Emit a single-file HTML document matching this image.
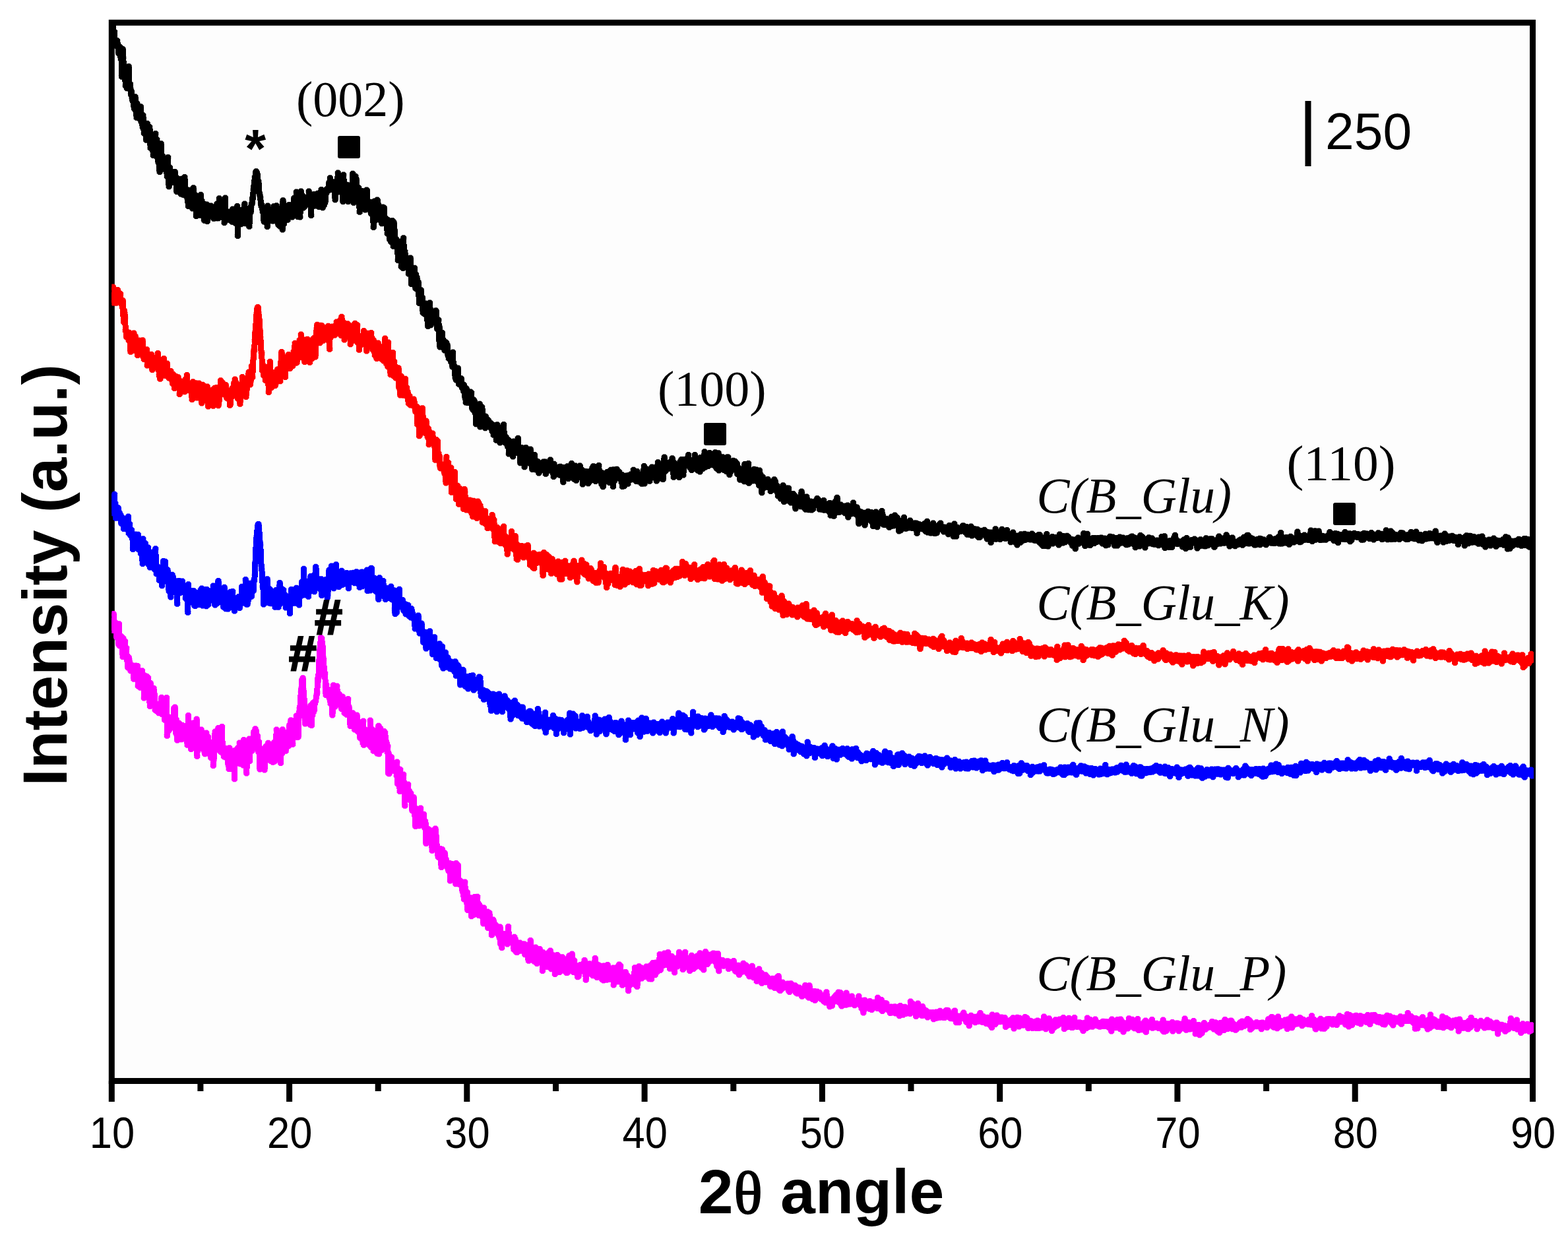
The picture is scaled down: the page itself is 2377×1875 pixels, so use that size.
<!DOCTYPE html>
<html lang="en"><head><meta charset="utf-8"><title>XRD patterns</title>
<style>
html,body{margin:0;padding:0;background:#fff;}
body{width:2377px;height:1875px;overflow:hidden;}
svg{display:block;}
.sans{font-family:"Liberation Sans",Arial,Helvetica,sans-serif;}
.serif{font-family:"Liberation Serif","Times New Roman",Times,serif;}
</style></head><body>
<svg width="2377" height="1875" viewBox="0 0 2377 1875">
<rect x="0" y="0" width="2377" height="1875" fill="#ffffff"/>
<rect x="169.3" y="34.3" width="2154.2" height="1604.2" fill="#fdfdfd"/>
<rect x="169.3" y="34.3" width="2154.2" height="1604.2" fill="none" stroke="#000" stroke-width="9"/>
<defs>
<marker id="p0" markerUnits="userSpaceOnUse" markerWidth="11" markerHeight="11" viewBox="-5.5 -5.5 11 11" refX="0" refY="0" overflow="visible"><path d="M-2.02,-4.5 L2.02,-4.5 L4.5,-2.02 L4.5,2.02 L2.02,4.5 L-2.02,4.5 L-4.5,2.02 L-4.5,-2.02 Z" fill="#ff00ff"/></marker>
<marker id="p1" markerUnits="userSpaceOnUse" markerWidth="11" markerHeight="11" viewBox="-5.5 -5.5 11 11" refX="0" refY="0" overflow="visible"><path d="M-2.02,-4.5 L2.02,-4.5 L4.5,-2.02 L4.5,2.02 L2.02,4.5 L-2.02,4.5 L-4.5,2.02 L-4.5,-2.02 Z" fill="#0000ff"/></marker>
<marker id="p2" markerUnits="userSpaceOnUse" markerWidth="11" markerHeight="11" viewBox="-5.5 -5.5 11 11" refX="0" refY="0" overflow="visible"><path d="M-2.02,-4.5 L2.02,-4.5 L4.5,-2.02 L4.5,2.02 L2.02,4.5 L-2.02,4.5 L-4.5,2.02 L-4.5,-2.02 Z" fill="#ff0000"/></marker>
<marker id="p3" markerUnits="userSpaceOnUse" markerWidth="11" markerHeight="11" viewBox="-5.5 -5.5 11 11" refX="0" refY="0" overflow="visible"><path d="M-2.02,-4.5 L2.02,-4.5 L4.5,-2.02 L4.5,2.02 L2.02,4.5 L-2.02,4.5 L-4.5,2.02 L-4.5,-2.02 Z" fill="#000000"/></marker>
<clipPath id="plotclip"><rect x="169.3" y="34.3" width="2155.7" height="1604.2"/></clipPath>
</defs>
<g clip-path="url(#plotclip)" fill="none" stroke-width="9" stroke-linejoin="bevel" stroke-linecap="butt" shape-rendering="crispEdges">
<polyline stroke="#ff00ff" marker-start="url(#p0)" marker-mid="url(#p0)" marker-end="url(#p0)" points="169.3,940.8 170,944.5 170.7,955.4 171.4,950.8 172.1,930.6 172.8,948.8 173.5,946.5 174.2,952 174.9,943.4 175.6,955.4 176.3,956.9 177,966.2 177.7,962.3 178.4,963.2 179.1,952.9 179.8,976.4 180.5,945.8 181.2,978.8 181.9,965.6 182.6,963.9 183.3,967 184,964.7 184.7,978.9 185.4,975.3 186.1,995.4 186.8,967.5 187.5,980.5 188.2,976.4 188.9,993.4 189.6,972.1 190.3,985.4 191,991.1 191.7,982.3 192.4,1000.7 193.1,997.7 193.8,1011.7 194.5,1007.4 195.2,996.6 195.9,999.9 196.6,1005.9 197.3,1014.3 198,1016.7 198.7,1007.4 199.4,1009.2 200.1,1008.6 200.8,1010.5 201.5,1013.1 202.2,1013.8 202.9,1029.3 203.6,1011.2 204.3,1013 205,1018.7 205.7,1009.1 206.4,1014 207.1,1017.6 207.8,1029.3 208.5,1009.4 209.2,1039.8 209.9,1016 210.6,1023.6 211.3,1030 212,1030.1 212.7,1042.3 213.4,1029.6 214.1,1029.5 214.8,1033.2 215.5,1016.7 216.2,1041.7 216.9,1026.5 217.6,1022.9 218.3,1057.9 219,1032.1 219.7,1024.3 220.4,1049.2 221.1,1032.8 221.8,1045.3 222.5,1025.2 223.2,1037.7 223.9,1027.6 224.6,1027.5 225.3,1036.8 226,1046 226.7,1061.3 227.4,1070.5 228.1,1035.4 228.8,1062.6 229.5,1050.9 230.2,1056.6 230.9,1046.9 231.6,1048.3 232.3,1055.5 233,1043.2 233.7,1063.9 234.4,1052.7 235.1,1076.1 235.8,1067.1 236.5,1069.3 237.2,1077.4 237.9,1073 238.6,1069 239.3,1069.4 240,1069.7 240.7,1080.8 241.4,1078.2 242.1,1077.3 242.8,1077.7 243.5,1065.2 244.2,1078.8 244.9,1057.2 245.6,1082.5 246.3,1072.1 247,1074.3 247.7,1079.8 248.4,1076.3 249.1,1076.2 249.8,1091.3 250.5,1083.5 251.2,1075.7 251.9,1089.2 252.6,1057.6 253.3,1115.2 254,1085.5 254.7,1087.7 255.4,1107.7 256.1,1106.9 256.8,1088.6 257.5,1098.6 258.2,1097.8 258.9,1103.4 259.6,1087.5 260.3,1090.4 261,1100.8 261.7,1093 262.4,1098.2 263.1,1097.9 263.8,1073.6 264.5,1086.9 265.2,1072.1 265.9,1095 266.6,1111 267.3,1090.7 268,1113.7 268.7,1121.9 269.4,1105.4 270.1,1108.1 270.8,1110.6 271.5,1096.2 272.2,1109.7 272.9,1112.6 273.6,1118.9 274.3,1120.7 275,1100.5 275.7,1120.6 276.4,1099.2 277.1,1110.8 277.8,1115.3 278.5,1111.2 279.2,1110.3 279.9,1116.1 280.6,1106.6 281.3,1100.4 282,1110.2 282.7,1120.8 283.4,1111.3 284.1,1129.2 284.8,1113.6 285.5,1084.5 286.2,1106.9 286.9,1125.5 287.6,1110.6 288.3,1106.9 289,1096.3 289.7,1135.5 290.4,1122.5 291.1,1126.2 291.8,1119.3 292.5,1129.3 293.2,1124.3 293.9,1095.8 294.6,1124.4 295.3,1120.5 296,1116.6 296.7,1124.6 297.4,1118.3 298.1,1090 298.8,1146.2 299.5,1129 300.2,1118.2 300.9,1114.5 301.6,1123.6 302.3,1110.3 303,1124.8 303.7,1120 304.4,1118.9 305.1,1106 305.8,1116.1 306.5,1132.4 307.2,1134.9 307.9,1128.2 308.6,1124.3 309.3,1117.9 310,1139.5 310.7,1142.7 311.4,1114.6 312.1,1140.5 312.8,1110.9 313.5,1127.6 314.2,1134.2 314.9,1118.5 315.6,1117.1 316.3,1132.5 317,1139 317.7,1127.1 318.4,1143.9 319.1,1125.2 319.8,1148.4 320.5,1133.9 321.2,1137.1 321.9,1138.4 322.6,1135.5 323.3,1160.6 324,1151.4 324.7,1135.8 325.4,1128.6 326.1,1108.9 326.8,1115.6 327.5,1128.3 328.2,1126.9 328.9,1127.1 329.6,1127.3 330.3,1131.6 331,1103.5 331.7,1117.8 332.4,1137.3 333.1,1134.9 333.8,1122.8 334.5,1139.6 335.2,1122.4 335.9,1126.9 336.6,1101.5 337.3,1138.6 338,1132 338.7,1142.9 339.4,1146.7 340.1,1136.3 340.8,1137.7 341.5,1147.7 342.2,1134.6 342.9,1136.4 343.6,1139.5 344.3,1145.9 345,1147.7 345.7,1157.6 346.4,1140.9 347.1,1165.4 347.8,1133.7 348.5,1157.4 349.2,1150.8 349.9,1165.5 350.6,1156.8 351.3,1148.6 352,1158.8 352.7,1157.5 353.4,1151.8 354.1,1151.9 354.8,1137.9 355.5,1180.8 356.2,1152.6 356.9,1158.4 357.6,1137.5 358.3,1136.5 359,1143.5 359.7,1142.4 360.4,1150.1 361.1,1133.3 361.8,1146.8 362.5,1155.3 363.2,1126.1 363.9,1157.7 364.6,1132.7 365.3,1144.4 366,1144.5 366.7,1156.8 367.4,1135 368.1,1142.8 368.8,1159.9 369.5,1121.6 370.2,1141.8 370.9,1134.6 371.6,1136.6 372.3,1155.7 373,1150.2 373.7,1172.1 374.4,1156.6 375.1,1155.6 375.8,1142.1 376.5,1140.1 377.2,1144.5 377.9,1120 378.6,1153.6 379.3,1130.9 380,1125.2 380.7,1124.6 381.4,1137.3 382.1,1137.9 382.8,1120.7 383.5,1125.5 384.2,1119.1 384.9,1109.3 385.6,1119.1 386.3,1117.9 387,1104.8 387.7,1129.9 388.4,1108.1 389.1,1126.6 389.8,1117.6 390.5,1115.5 391.2,1125.4 391.9,1140.1 392.6,1124.5 393.3,1135.7 394,1165.9 394.7,1134.2 395.4,1141.4 396.1,1148.8 396.8,1138.6 397.5,1148.7 398.2,1138.9 398.9,1150.9 399.6,1144.8 400.3,1135.2 401,1167.1 401.7,1140.8 402.4,1138.1 403.1,1131.5 403.8,1130.9 404.5,1137.5 405.2,1139.5 405.9,1147.6 406.6,1126.2 407.3,1135.1 408,1149.1 408.7,1140.4 409.4,1142.7 410.1,1153.3 410.8,1142 411.5,1142.8 412.2,1137.8 412.9,1153.3 413.6,1155.2 414.3,1130 415,1145.5 415.7,1125.3 416.4,1153.9 417.1,1140.8 417.8,1133.1 418.5,1130.7 419.2,1105.9 419.9,1147 420.6,1132.7 421.3,1131 422,1140.3 422.7,1128.3 423.4,1129.3 424.1,1128.7 424.8,1123.1 425.5,1156.5 426.2,1133.2 426.9,1128.6 427.6,1142.1 428.3,1105.7 429,1132.5 429.7,1132.6 430.4,1123.4 431.1,1135.7 431.8,1113.3 432.5,1130.8 433.2,1138.3 433.9,1110.3 434.6,1116.5 435.3,1127.1 436,1127.4 436.7,1120.8 437.4,1130.8 438.1,1126.4 438.8,1098.9 439.5,1120.7 440.2,1108.8 440.9,1091.7 441.6,1095.4 442.3,1123.9 443,1111.7 443.7,1128.3 444.4,1096.3 445.1,1104.7 445.8,1109.7 446.5,1102.2 447.2,1112.8 447.9,1106.7 448.6,1093.5 449.3,1084.9 450,1096.3 450.7,1117.4 451.4,1107.3 452.1,1117.1 452.8,1089.5 453.5,1086.1 454.2,1074.3 454.9,1071.1 455.6,1058.6 456.3,1049 457,1043.1 457.7,1030.8 458.4,1033 459.1,1027.8 459.8,1045.1 460.5,1050 461.2,1061.5 461.9,1071.9 462.6,1097 463.3,1083.5 464,1083 464.7,1078.6 465.4,1090.2 466.1,1080.2 466.8,1082.3 467.5,1085.5 468.2,1090.8 468.9,1077.9 469.6,1094 470.3,1098.5 471,1069.2 471.7,1093.5 472.4,1099.6 473.1,1074.5 473.8,1084 474.5,1065.6 475.2,1079.3 475.9,1072.2 476.6,1076.1 477.3,1064 478,1062.6 478.7,1062.8 479.4,1056.9 480.1,1052.8 480.8,1049.4 481.5,1028.9 482.2,1032.6 482.9,1025 483.6,1001.5 484.3,1000.1 485,983.7 485.7,976.3 486.4,966.6 487.1,968.3 487.8,967.7 488.5,977.4 489.2,979.9 489.9,996.6 490.6,999.5 491.3,1015.7 492,1026.8 492.7,1020.4 493.4,1040.7 494.1,1053.6 494.8,1038.1 495.5,1052.1 496.2,1045 496.9,1048.2 497.6,1047.1 498.3,1045.4 499,1056.9 499.7,1059.1 500.4,1052.3 501.1,1066.4 501.8,1063.5 502.5,1060.9 503.2,1049.2 503.9,1084 504.6,1068.3 505.3,1038.7 506,1039.3 506.7,1050.7 507.4,1067.8 508.1,1071.1 508.8,1058.3 509.5,1063.3 510.2,1067.5 510.9,1040 511.6,1066.9 512.3,1059.2 513,1063.6 513.7,1061.8 514.4,1052.2 515.1,1054.3 515.8,1063.8 516.5,1065.1 517.2,1062.2 517.9,1074.4 518.6,1062.7 519.3,1056 520,1064.4 520.7,1066.9 521.4,1068.3 522.1,1080.6 522.8,1075.9 523.5,1081.5 524.2,1078.6 524.9,1072.4 525.6,1083.3 526.3,1072.6 527,1077.6 527.7,1059.5 528.4,1078.6 529.1,1072.3 529.8,1081.7 530.5,1094.9 531.2,1100.4 531.9,1089.7 532.6,1081.7 533.3,1090.2 534,1088.3 534.7,1080.8 535.4,1087.2 536.1,1085.7 536.8,1086.7 537.5,1105.8 538.2,1091.6 538.9,1094 539.6,1106 540.3,1095.6 541,1084 541.7,1096.5 542.4,1108.7 543.1,1108.9 543.8,1109.4 544.5,1104.3 545.2,1094.8 545.9,1118.6 546.6,1100.1 547.3,1111.5 548,1103 548.7,1111.4 549.4,1114.1 550.1,1126.3 550.8,1092.9 551.5,1129.2 552.2,1104.8 552.9,1122.5 553.6,1127.6 554.3,1109.4 555,1121 555.7,1125.6 556.4,1120 557.1,1114.3 557.8,1121.2 558.5,1120 559.2,1106.3 559.9,1129.5 560.6,1120.1 561.3,1092.1 562,1105.4 562.7,1132.7 563.4,1131.9 564.1,1121.5 564.8,1106 565.5,1116.9 566.2,1138.2 566.9,1125.4 567.6,1120.6 568.3,1118.7 569,1132.7 569.7,1125.4 570.4,1130.7 571.1,1132.6 571.8,1141.9 572.5,1129.6 573.2,1129.3 573.9,1100.3 574.6,1142.7 575.3,1131.2 576,1123 576.7,1104.1 577.4,1113.2 578.1,1122.5 578.8,1137.1 579.5,1129 580.2,1125.1 580.9,1124.5 581.6,1128.2 582.3,1108.5 583,1111.5 583.7,1110.6 584.4,1118.6 585.1,1123.4 585.8,1131.3 586.5,1126.9 587.2,1140.3 587.9,1130.9 588.6,1172.1 589.3,1142.5 590,1172.8 590.7,1167.5 591.4,1146.7 592.1,1165 592.8,1168.2 593.5,1147.8 594.2,1165.7 594.9,1161.2 595.6,1165.5 596.3,1156.9 597,1164 597.7,1168.6 598.4,1165.1 599.1,1158.9 599.8,1167.3 600.5,1163.6 601.2,1175.7 601.9,1154.9 602.6,1188 603.3,1178.9 604,1182.7 604.7,1186.7 605.4,1171.4 606.1,1199.5 606.8,1166.5 607.5,1191.3 608.2,1190.4 608.9,1196.8 609.6,1188.1 610.3,1178.8 611,1193.7 611.7,1174 612.4,1193 613.1,1192.7 613.8,1221.2 614.5,1195.8 615.2,1195.1 615.9,1197.5 616.6,1198.2 617.3,1201.9 618,1211.7 618.7,1188.9 619.4,1207.3 620.1,1198.4 620.8,1208.8 621.5,1211.8 622.2,1201.8 622.9,1203.5 623.6,1213.4 624.3,1219.4 625,1228.8 625.7,1215.7 626.4,1211 627.1,1208.5 627.8,1228.7 628.5,1235.8 629.2,1230.5 629.9,1252.6 630.6,1225.6 631.3,1230.9 632,1246.9 632.7,1229 633.4,1241.8 634.1,1240.8 634.8,1239.7 635.5,1251.8 636.2,1232.9 636.9,1236.7 637.6,1225 638.3,1233.4 639,1238.1 639.7,1237.4 640.4,1242.7 641.1,1249.8 641.8,1242.2 642.5,1234.3 643.2,1251.4 643.9,1254.9 644.6,1244.8 645.3,1248.8 646,1278.6 646.7,1264.2 647.4,1265.6 648.1,1263.5 648.8,1261.5 649.5,1256.7 650.2,1265.4 650.9,1260.6 651.6,1259.7 652.3,1263.5 653,1263.7 653.7,1271.4 654.4,1258.9 655.1,1289.2 655.8,1260.5 656.5,1265.9 657.2,1277.2 657.9,1266.1 658.6,1270.3 659.3,1275.7 660,1256.1 660.7,1275.4 661.4,1267.5 662.1,1280.8 662.8,1287.9 663.5,1294.9 664.2,1298.4 664.9,1299.5 665.6,1297.9 666.3,1291.4 667,1299.9 667.7,1286.4 668.4,1293.5 669.1,1314.6 669.8,1301.7 670.5,1287.6 671.2,1294.6 671.9,1306.5 672.6,1310.2 673.3,1310.9 674,1292.7 674.7,1297.7 675.4,1306.2 676.1,1302.5 676.8,1310.3 677.5,1311.6 678.2,1314.9 678.9,1312.5 679.6,1318.2 680.3,1320.5 681,1317.1 681.7,1308.5 682.4,1334.9 683.1,1321.4 683.8,1322 684.5,1320.9 685.2,1309.4 685.9,1325 686.6,1317.4 687.3,1314.4 688,1332.5 688.7,1323 689.4,1328.3 690.1,1333.7 690.8,1339.8 691.5,1308.6 692.2,1325.7 692.9,1336 693.6,1327.6 694.3,1311.5 695,1334.3 695.7,1335.7 696.4,1340.6 697.1,1339.6 697.8,1335.1 698.5,1341.1 699.2,1341.2 699.9,1340 700.6,1348.6 701.3,1351.8 702,1342.2 702.7,1357.4 703.4,1363 704.1,1359 704.8,1337.1 705.5,1357.5 706.2,1356.7 706.9,1353 707.6,1368.6 708.3,1352.6 709,1379.6 709.7,1367.6 710.4,1362.8 711.1,1376.4 711.8,1370.9 712.5,1370.9 713.2,1360.8 713.9,1376.8 714.6,1388.7 715.3,1385.6 716,1364.1 716.7,1382.7 717.4,1385.3 718.1,1386.8 718.8,1374.8 719.5,1359.5 720.2,1373.3 720.9,1376.1 721.6,1383.5 722.3,1383.6 723,1375 723.7,1359.2 724.4,1374 725.1,1370.5 725.8,1387.6 726.5,1371.3 727.2,1382.7 727.9,1385.4 728.6,1374.5 729.3,1388.2 730,1381.8 730.7,1378.7 731.4,1378.8 732.1,1387.1 732.8,1400.1 733.5,1375.9 734.2,1392.8 734.9,1388.6 735.6,1385.3 736.3,1390 737,1391.2 737.7,1391.6 738.4,1397.8 739.1,1382 739.8,1406.6 740.5,1400.5 741.2,1391.6 741.9,1383.7 742.6,1396.1 743.3,1393.9 744,1401.4 744.7,1401.5 745.4,1417.3 746.1,1396.9 746.8,1403.4 747.5,1394 748.2,1395.8 748.9,1411.4 749.6,1402.2 750.3,1403.8 751,1401.5 751.7,1409.4 752.4,1412.6 753.1,1409.7 753.8,1404.9 754.5,1415.8 755.2,1405.2 755.9,1414.3 756.6,1419.1 757.3,1421.7 758,1404.9 758.7,1430.5 759.4,1425.3 760.1,1432.6 760.8,1436.5 761.5,1415.3 762.2,1417.8 762.9,1422.9 763.6,1427.2 764.3,1418.2 765,1419.2 765.7,1427.6 766.4,1415.5 767.1,1422.2 767.8,1427.8 768.5,1419.9 769.2,1431.1 769.9,1422 770.6,1404.5 771.3,1417.5 772,1423.5 772.7,1421 773.4,1425.9 774.1,1428.6 774.8,1428.4 775.5,1428.2 776.2,1422.2 776.9,1427.1 777.6,1427 778.3,1422.7 779,1439.2 779.7,1420.2 780.4,1433.9 781.1,1423.3 781.8,1430.2 782.5,1443 783.2,1433 783.9,1443.4 784.6,1429.4 785.3,1433.2 786,1431 786.7,1434.6 787.4,1432.4 788.1,1428.9 788.8,1434.8 789.5,1441.3 790.2,1436.3 790.9,1436.7 791.6,1435.7 792.3,1434.4 793,1431.1 793.7,1434.5 794.4,1441.8 795.1,1431 795.8,1446.7 796.5,1437.1 797.2,1437.9 797.9,1440.3 798.6,1447.4 799.3,1445.7 800,1444.8 800.7,1453.3 801.4,1456.3 802.1,1434.7 802.8,1447.1 803.5,1437.3 804.2,1425.4 804.9,1439.1 805.6,1448.7 806.3,1441.6 807,1438.1 807.7,1453 808.4,1448.4 809.1,1445.6 809.8,1457.2 810.5,1450.1 811.2,1443.6 811.9,1436.1 812.6,1446.6 813.3,1450.5 814,1460.5 814.7,1455.1 815.4,1451.8 816.1,1443.8 816.8,1455.9 817.5,1451.1 818.2,1438.5 818.9,1443.7 819.6,1452.3 820.3,1453.5 821,1456.7 821.7,1445.7 822.4,1471.4 823.1,1443.6 823.8,1454.2 824.5,1462.5 825.2,1461.1 825.9,1449.9 826.6,1459 827.3,1462.6 828,1459.9 828.7,1450.2 829.4,1465.4 830.1,1446.9 830.8,1456.4 831.5,1444.1 832.2,1453.6 832.9,1451.9 833.6,1460.6 834.3,1441.1 835,1456.3 835.7,1468.8 836.4,1455.5 837.1,1458.4 837.8,1458.1 838.5,1447.8 839.2,1454.7 839.9,1457.6 840.6,1462.7 841.3,1476.4 842,1468.1 842.7,1456.8 843.4,1457.4 844.1,1454.5 844.8,1447.5 845.5,1467.9 846.2,1463.7 846.9,1450 847.6,1460.8 848.3,1473.5 849,1462.9 849.7,1465 850.4,1460.9 851.1,1455.4 851.8,1453.2 852.5,1450.7 853.2,1461 853.9,1459.3 854.6,1464.9 855.3,1471.2 856,1465.2 856.7,1466.9 857.4,1458.6 858.1,1455.5 858.8,1474.4 859.5,1466.2 860.2,1474.3 860.9,1459.4 861.6,1451.7 862.3,1467.7 863,1448.4 863.7,1459.1 864.4,1457.1 865.1,1461.6 865.8,1469.4 866.5,1466.4 867.2,1446 867.9,1469.5 868.6,1454.9 869.3,1473.5 870,1465.1 870.7,1456.1 871.4,1466.1 872.1,1462.2 872.8,1469.6 873.5,1475 874.2,1474.1 874.9,1469.8 875.6,1480.7 876.3,1471.5 877,1480.1 877.7,1470.6 878.4,1464.1 879.1,1463.8 879.8,1462.6 880.5,1465.1 881.2,1465.9 881.9,1470.6 882.6,1471.3 883.3,1467.5 884,1471.9 884.7,1460 885.4,1465.5 886.1,1455.6 886.8,1465.5 887.5,1467.8 888.2,1485.3 888.9,1464.4 889.6,1472.8 890.3,1471.1 891,1464.6 891.7,1475 892.4,1473.7 893.1,1465.6 893.8,1460.7 894.5,1473 895.2,1465.1 895.9,1476.2 896.6,1470.5 897.3,1474.4 898,1469.3 898.7,1478.8 899.4,1473.5 900.1,1477.5 900.8,1469.7 901.5,1462.5 902.2,1452.6 902.9,1464.8 903.6,1469.1 904.3,1460.9 905,1481.4 905.7,1467.6 906.4,1471.3 907.1,1470.2 907.8,1463 908.5,1476.2 909.2,1477.8 909.9,1476 910.6,1466.3 911.3,1471.7 912,1471.5 912.7,1484.4 913.4,1464.3 914.1,1475.8 914.8,1486 915.5,1470.2 916.2,1464.1 916.9,1480.1 917.6,1474.3 918.3,1479.3 919,1481.6 919.7,1485.3 920.4,1472.2 921.1,1462.6 921.8,1481.3 922.5,1471.2 923.2,1478.6 923.9,1472.4 924.6,1484.4 925.3,1474.1 926,1480.1 926.7,1481.8 927.4,1475.4 928.1,1479.9 928.8,1476.4 929.5,1467.1 930.2,1493 930.9,1472.1 931.6,1468.6 932.3,1474.5 933,1478 933.7,1477.7 934.4,1475.4 935.1,1472.8 935.8,1465.8 936.5,1481.3 937.2,1487.9 937.9,1474.7 938.6,1462 939.3,1484 940,1479.6 940.7,1463.9 941.4,1477.5 942.1,1474 942.8,1475.7 943.5,1493.3 944.2,1487.5 944.9,1480.7 945.6,1481.5 946.3,1489.4 947,1474.1 947.7,1488.2 948.4,1473.4 949.1,1489.7 949.8,1482.4 950.5,1477.9 951.2,1489 951.9,1487.2 952.6,1501.8 953.3,1483.5 954,1486.9 954.7,1482.4 955.4,1492.9 956.1,1481.4 956.8,1484.7 957.5,1491.1 958.2,1485.7 958.9,1485 959.6,1482 960.3,1481.4 961,1482.3 961.7,1476.5 962.4,1466.7 963.1,1492.4 963.8,1471.9 964.5,1488.4 965.2,1481.7 965.9,1495.6 966.6,1485.7 967.3,1481.7 968,1484.7 968.7,1464.8 969.4,1480.6 970.1,1477.6 970.8,1479.6 971.5,1467.9 972.2,1466.9 972.9,1483 973.6,1479.4 974.3,1476 975,1477.5 975.7,1473.9 976.4,1474.4 977.1,1480.4 977.8,1474.8 978.5,1479.6 979.2,1471.4 979.9,1465.1 980.6,1467.9 981.3,1473.4 982,1468.5 982.7,1472.4 983.4,1471.3 984.1,1483.7 984.8,1482.1 985.5,1478.5 986.2,1463.2 986.9,1472.6 987.6,1483.9 988.3,1470.2 989,1467.7 989.7,1459.5 990.4,1472.1 991.1,1468 991.8,1472.2 992.5,1465.5 993.2,1477.7 993.9,1465.8 994.6,1459 995.3,1466.9 996,1468.4 996.7,1472.7 997.4,1462.7 998.1,1459.1 998.8,1463.2 999.5,1462 1000.2,1446.5 1000.9,1470.5 1001.6,1469 1002.3,1456.9 1003,1454.9 1003.7,1459 1004.4,1454.8 1005.1,1463.4 1005.8,1455.3 1006.5,1462.1 1007.2,1445.1 1007.9,1450.7 1008.6,1449.9 1009.3,1450.6 1010,1460.7 1010.7,1462.6 1011.4,1458.9 1012.1,1458.9 1012.8,1443.6 1013.5,1461.6 1014.2,1448 1014.9,1462 1015.6,1468.2 1016.3,1455.3 1017,1458.9 1017.7,1459.6 1018.4,1449.6 1019.1,1451.5 1019.8,1454.9 1020.5,1460.6 1021.2,1465.3 1021.9,1462.1 1022.6,1473.9 1023.3,1459.5 1024,1454.4 1024.7,1462 1025.4,1460.9 1026.1,1452.3 1026.8,1464.9 1027.5,1452.6 1028.2,1452.8 1028.9,1457 1029.6,1443.3 1030.3,1460.9 1031,1455.9 1031.7,1456 1032.4,1453.4 1033.1,1450.9 1033.8,1449.6 1034.5,1456 1035.2,1469.6 1035.9,1459.7 1036.6,1457.9 1037.3,1467.1 1038,1463.9 1038.7,1443.3 1039.4,1456.5 1040.1,1463.4 1040.8,1452.9 1041.5,1453.8 1042.2,1459.8 1042.9,1455.2 1043.6,1463.2 1044.3,1455 1045,1460.4 1045.7,1471.4 1046.4,1464.2 1047.1,1450.7 1047.8,1452.8 1048.5,1448.3 1049.2,1458.8 1049.9,1451.5 1050.6,1462.3 1051.3,1468.5 1052,1467.3 1052.7,1454.1 1053.4,1456.1 1054.1,1455.4 1054.8,1451.9 1055.5,1465.1 1056.2,1451.6 1056.9,1449 1057.6,1458.8 1058.3,1456.8 1059,1463.4 1059.7,1463.7 1060.4,1453.9 1061.1,1444.8 1061.8,1460 1062.5,1461 1063.2,1466.5 1063.9,1448.5 1064.6,1450.8 1065.3,1465.3 1066,1465.5 1066.7,1470 1067.4,1456.1 1068.1,1462.7 1068.8,1452.6 1069.5,1442.5 1070.2,1454.9 1070.9,1455.9 1071.6,1459.8 1072.3,1461.6 1073,1446.8 1073.7,1457.7 1074.4,1458.6 1075.1,1449.2 1075.8,1453.9 1076.5,1455 1077.2,1456.3 1077.9,1448.8 1078.6,1449.5 1079.3,1446.2 1080,1453.3 1080.7,1449.5 1081.4,1445 1082.1,1454.4 1082.8,1450.5 1083.5,1445.5 1084.2,1457.9 1084.9,1457.5 1085.6,1455.3 1086.3,1448.1 1087,1464.7 1087.7,1451.4 1088.4,1445.4 1089.1,1454.7 1089.8,1471.7 1090.5,1453.9 1091.2,1459.4 1091.9,1463.6 1092.6,1458.5 1093.3,1455.5 1094,1457.4 1094.7,1460.7 1095.4,1455.6 1096.1,1460.4 1096.8,1464.3 1097.5,1457.6 1098.2,1463.5 1098.9,1463.1 1099.6,1457.3 1100.3,1460 1101,1461.7 1101.7,1460.7 1102.4,1460.6 1103.1,1456.7 1103.8,1462.6 1104.5,1468.6 1105.2,1465 1105.9,1458 1106.6,1465 1107.3,1465.6 1108,1458.7 1108.7,1466.3 1109.4,1463.7 1110.1,1461.6 1110.8,1467.1 1111.5,1465.6 1112.2,1456.5 1112.9,1468.8 1113.6,1462.9 1114.3,1468.2 1115,1472.2 1115.7,1468 1116.4,1467.1 1117.1,1469.9 1117.8,1473.6 1118.5,1465.2 1119.2,1463.3 1119.9,1473.9 1120.6,1477.4 1121.3,1470.3 1122,1475 1122.7,1468 1123.4,1472.1 1124.1,1472.9 1124.8,1466.6 1125.5,1472.6 1126.2,1471.7 1126.9,1460.3 1127.6,1471.5 1128.3,1472.8 1129,1472.2 1129.7,1472.2 1130.4,1465.2 1131.1,1463.2 1131.8,1469.2 1132.5,1466.1 1133.2,1468.1 1133.9,1476.2 1134.6,1466.8 1135.3,1469.6 1136,1479.9 1136.7,1471.1 1137.4,1467.2 1138.1,1473 1138.8,1472.6 1139.5,1472.5 1140.2,1464.3 1140.9,1473.3 1141.6,1473.9 1142.3,1481.8 1143,1475.9 1143.7,1471.3 1144.4,1475.1 1145.1,1477.1 1145.8,1473.9 1146.5,1474.8 1147.2,1487.3 1147.9,1478.1 1148.6,1478.6 1149.3,1472.3 1150,1478.8 1150.7,1468.8 1151.4,1483 1152.1,1474.1 1152.8,1481.2 1153.5,1485.1 1154.2,1474.8 1154.9,1490.3 1155.6,1481.7 1156.3,1486.3 1157,1480.1 1157.7,1479 1158.4,1487.9 1159.1,1486.3 1159.8,1483.3 1160.5,1477.8 1161.2,1488.8 1161.9,1480.8 1162.6,1482.7 1163.3,1481.1 1164,1484.6 1164.7,1487.6 1165.4,1485.4 1166.1,1485.9 1166.8,1484.6 1167.5,1494 1168.2,1495.3 1168.9,1487.7 1169.6,1485.7 1170.3,1492.3 1171,1483.3 1171.7,1491.4 1172.4,1491.4 1173.1,1490.8 1173.8,1496.7 1174.5,1497.5 1175.2,1491.6 1175.9,1488.2 1176.6,1494.3 1177.3,1495.2 1178,1481.3 1178.7,1488.4 1179.4,1491 1180.1,1479.4 1180.8,1488.6 1181.5,1500.7 1182.2,1489 1182.9,1501.6 1183.6,1491.5 1184.3,1499.1 1185,1496.3 1185.7,1498.6 1186.4,1488.9 1187.1,1495.5 1187.8,1491.7 1188.5,1496.9 1189.2,1496.4 1189.9,1494.1 1190.6,1492.9 1191.3,1493.5 1192,1495 1192.7,1492.4 1193.4,1493.3 1194.1,1490.9 1194.8,1492.3 1195.5,1501.4 1196.2,1492.4 1196.9,1503.4 1197.6,1501.2 1198.3,1491.4 1199,1490.7 1199.7,1497.8 1200.4,1492.9 1201.1,1497.2 1201.8,1499.8 1202.5,1496.9 1203.2,1494.2 1203.9,1494.2 1204.6,1500.9 1205.3,1493.8 1206,1502.8 1206.7,1504.7 1207.4,1495.9 1208.1,1499.5 1208.8,1506 1209.5,1497.1 1210.2,1502.2 1210.9,1505.1 1211.6,1497 1212.3,1502.8 1213,1501.9 1213.7,1499.2 1214.4,1507.4 1215.1,1500.7 1215.8,1510.3 1216.5,1504 1217.2,1498.4 1217.9,1502.3 1218.6,1498.4 1219.3,1508.3 1220,1504.6 1220.7,1493.6 1221.4,1501.1 1222.1,1507.3 1222.8,1504.6 1223.5,1497.2 1224.2,1509.3 1224.9,1510.9 1225.6,1495 1226.3,1512.3 1227,1493.7 1227.7,1506.4 1228.4,1504.5 1229.1,1505 1229.8,1508 1230.5,1502.8 1231.2,1507.1 1231.9,1514.4 1232.6,1511.8 1233.3,1514.2 1234,1512.1 1234.7,1502.6 1235.4,1516.2 1236.1,1512.9 1236.8,1512.4 1237.5,1508.7 1238.2,1508.4 1238.9,1503 1239.6,1510.4 1240.3,1511.8 1241,1510.7 1241.7,1511.3 1242.4,1504.6 1243.1,1509.5 1243.8,1507.1 1244.5,1514.2 1245.2,1511.5 1245.9,1511.7 1246.6,1513.8 1247.3,1511.7 1248,1512.5 1248.7,1517.8 1249.4,1512.9 1250.1,1510 1250.8,1515.8 1251.5,1519.7 1252.2,1518.4 1252.9,1503.7 1253.6,1517 1254.3,1513.5 1255,1513.8 1255.7,1514.3 1256.4,1515.5 1257.1,1516 1257.8,1525.8 1258.5,1516.1 1259.2,1515.2 1259.9,1518.5 1260.6,1515.8 1261.3,1524.5 1262,1516.5 1262.7,1518.4 1263.4,1513.1 1264.1,1518.4 1264.8,1516.6 1265.5,1510.6 1266.2,1512 1266.9,1513.5 1267.6,1508 1268.3,1508.8 1269,1516.8 1269.7,1514.9 1270.4,1518.3 1271.1,1504.1 1271.8,1511.1 1272.5,1506.1 1273.2,1520.6 1273.9,1504.5 1274.6,1512.5 1275.3,1521.5 1276,1525 1276.7,1511.2 1277.4,1523.2 1278.1,1516.6 1278.8,1511.2 1279.5,1516.3 1280.2,1518 1280.9,1520.7 1281.6,1508.2 1282.3,1523.3 1283,1505 1283.7,1515.3 1284.4,1522.2 1285.1,1518.3 1285.8,1516.7 1286.5,1514.6 1287.2,1519 1287.9,1522.1 1288.6,1513.1 1289.3,1520.3 1290,1514.7 1290.7,1515.9 1291.4,1509.9 1292.1,1518.8 1292.8,1521.6 1293.5,1517.5 1294.2,1522.6 1294.9,1519.5 1295.6,1523.7 1296.3,1520.5 1297,1517.9 1297.7,1517.3 1298.4,1519.5 1299.1,1521.4 1299.8,1516.1 1300.5,1518.5 1301.2,1514.2 1301.9,1509.9 1302.6,1521.9 1303.3,1521.2 1304,1523.5 1304.7,1522 1305.4,1522.1 1306.1,1528.5 1306.8,1516.5 1307.5,1523.7 1308.2,1528.8 1308.9,1535 1309.6,1525.4 1310.3,1523 1311,1516.1 1311.7,1522.7 1312.4,1524.5 1313.1,1523.1 1313.8,1524.8 1314.5,1524.9 1315.2,1519.7 1315.9,1519.5 1316.6,1521.8 1317.3,1524.6 1318,1529.2 1318.7,1517.5 1319.4,1527.5 1320.1,1522.7 1320.8,1527.8 1321.5,1530.6 1322.2,1525.5 1322.9,1519.3 1323.6,1521.6 1324.3,1525.5 1325,1521.3 1325.7,1522 1326.4,1519.3 1327.1,1521.3 1327.8,1519.9 1328.5,1525.5 1329.2,1523.8 1329.9,1528.4 1330.6,1512.2 1331.3,1522.1 1332,1521.3 1332.7,1522.5 1333.4,1520.9 1334.1,1521.4 1334.8,1529.6 1335.5,1523 1336.2,1515.4 1336.9,1523.2 1337.6,1532.6 1338.3,1527.5 1339,1522.2 1339.7,1525.2 1340.4,1526.3 1341.1,1527.1 1341.8,1520.6 1342.5,1523.9 1343.2,1526.7 1343.9,1521.1 1344.6,1526.5 1345.3,1527.4 1346,1530 1346.7,1531.2 1347.4,1527 1348.1,1528.7 1348.8,1530.5 1349.5,1535.4 1350.2,1529.1 1350.9,1526 1351.6,1530.9 1352.3,1532 1353,1530.2 1353.7,1533.2 1354.4,1534.9 1355.1,1527.6 1355.8,1527 1356.5,1525.7 1357.2,1530.7 1357.9,1536 1358.6,1527.5 1359.3,1535.4 1360,1526.7 1360.7,1529.4 1361.4,1527.9 1362.1,1533 1362.8,1526 1363.5,1539.7 1364.2,1528.1 1364.9,1524.4 1365.6,1527.6 1366.3,1529.5 1367,1536.3 1367.7,1529.1 1368.4,1530.9 1369.1,1538.3 1369.8,1531.8 1370.5,1529.2 1371.2,1526.7 1371.9,1526.3 1372.6,1534.5 1373.3,1536.4 1374,1531.1 1374.7,1528.7 1375.4,1533.2 1376.1,1532 1376.8,1530.7 1377.5,1532.7 1378.2,1530.7 1378.9,1527.8 1379.6,1536.5 1380.3,1517.9 1381,1525.3 1381.7,1528 1382.4,1524.3 1383.1,1534.2 1383.8,1521.5 1384.5,1531.7 1385.2,1531.5 1385.9,1531 1386.6,1533 1387.3,1528.5 1388,1528.3 1388.7,1540.4 1389.4,1530.6 1390.1,1526.2 1390.8,1527 1391.5,1520.9 1392.2,1532.9 1392.9,1535.1 1393.6,1530.2 1394.3,1532 1395,1528.4 1395.7,1535.2 1396.4,1538.4 1397.1,1536.2 1397.8,1539.5 1398.5,1525.5 1399.2,1536.6 1399.9,1528.7 1400.6,1539 1401.3,1537.2 1402,1537.2 1402.7,1537.9 1403.4,1535.2 1404.1,1532.1 1404.8,1539.2 1405.5,1534.9 1406.2,1542.1 1406.9,1534.6 1407.6,1538.6 1408.3,1538.4 1409,1534.6 1409.7,1535.5 1410.4,1540.5 1411.1,1537.8 1411.8,1539.7 1412.5,1536.6 1413.2,1539.3 1413.9,1534.6 1414.6,1535.3 1415.3,1544.8 1416,1543 1416.7,1541.6 1417.4,1542.3 1418.1,1537.5 1418.8,1543.3 1419.5,1533.9 1420.2,1538.6 1420.9,1542.7 1421.6,1537.2 1422.3,1537.3 1423,1538.2 1423.7,1538.4 1424.4,1542.3 1425.1,1532.2 1425.8,1536.7 1426.5,1542.1 1427.2,1536.8 1427.9,1537.3 1428.6,1536.1 1429.3,1537.8 1430,1540.8 1430.7,1542.6 1431.4,1539.5 1432.1,1542.6 1432.8,1538.6 1433.5,1532.3 1434.2,1540.2 1434.9,1531.2 1435.6,1537.8 1436.3,1538.2 1437,1531.5 1437.7,1538.4 1438.4,1537.8 1439.1,1540.6 1439.8,1539.7 1440.5,1543.2 1441.2,1540.3 1441.9,1543.7 1442.6,1541.8 1443.3,1542.4 1444,1541.7 1444.7,1537.9 1445.4,1544.1 1446.1,1541.9 1446.8,1532.5 1447.5,1532.1 1448.2,1545.3 1448.9,1539.3 1449.6,1549.7 1450.3,1544.1 1451,1543.5 1451.7,1539.9 1452.4,1542.6 1453.1,1544.3 1453.8,1549.7 1454.5,1544.4 1455.2,1543.9 1455.9,1540.7 1456.6,1542.1 1457.3,1542 1458,1542.7 1458.7,1538.3 1459.4,1539.3 1460.1,1540.8 1460.8,1535.1 1461.5,1538.4 1462.2,1541 1462.9,1545.3 1463.6,1540.1 1464.3,1541.5 1465,1549.2 1465.7,1545.1 1466.4,1549.8 1467.1,1544.7 1467.8,1542.8 1468.5,1543.5 1469.2,1554.7 1469.9,1548.8 1470.6,1544.3 1471.3,1546.8 1472,1539.2 1472.7,1547.6 1473.4,1545 1474.1,1544 1474.8,1544.7 1475.5,1545.6 1476.2,1543.6 1476.9,1543.9 1477.6,1541.3 1478.3,1549.8 1479,1541.9 1479.7,1544 1480.4,1547.5 1481.1,1547.9 1481.8,1548.4 1482.5,1542.1 1483.2,1542.5 1483.9,1543 1484.6,1538.6 1485.3,1547.3 1486,1535.4 1486.7,1545 1487.4,1548.6 1488.1,1548.7 1488.8,1542.9 1489.5,1549.1 1490.2,1549.4 1490.9,1540.7 1491.6,1543.1 1492.3,1547.1 1493,1546 1493.7,1543.8 1494.4,1544 1495.1,1551.5 1495.8,1543.6 1496.5,1550.7 1497.2,1542.2 1497.9,1548 1498.6,1550.2 1499.3,1544.3 1500,1546 1500.7,1553.7 1501.4,1547.6 1502.1,1551.3 1502.8,1543.7 1503.5,1557.4 1504.2,1538 1504.9,1544.7 1505.6,1545.5 1506.3,1546.9 1507,1547.5 1507.7,1551.5 1508.4,1552.7 1509.1,1551.8 1509.8,1548.3 1510.5,1546.1 1511.2,1539 1511.9,1544.9 1512.6,1543.4 1513.3,1547.2 1514,1542.5 1514.7,1543.4 1515.4,1544 1516.1,1548.7 1516.8,1547.6 1517.5,1544.2 1518.2,1542.1 1518.9,1545.6 1519.6,1545.2 1520.3,1545.2 1521,1547 1521.7,1548.8 1522.4,1548.9 1523.1,1542.5 1523.8,1544.7 1524.5,1556.4 1525.2,1546.5 1525.9,1550.9 1526.6,1549.6 1527.3,1550.4 1528,1554.1 1528.7,1548.3 1529.4,1552.1 1530.1,1550 1530.8,1547.6 1531.5,1546.4 1532.2,1546.1 1532.9,1551.3 1533.6,1553.8 1534.3,1545.4 1535,1549.4 1535.7,1542.7 1536.4,1548.6 1537.1,1558.9 1537.8,1545.1 1538.5,1549.9 1539.2,1547.2 1539.9,1549.5 1540.6,1546.1 1541.3,1550.1 1542,1542.3 1542.7,1548.7 1543.4,1547.6 1544.1,1549.3 1544.8,1555.9 1545.5,1542.9 1546.2,1547.9 1546.9,1546 1547.6,1553.3 1548.3,1550.5 1549,1546.7 1549.7,1553.1 1550.4,1550.8 1551.1,1554.1 1551.8,1553.7 1552.5,1549.2 1553.2,1543.8 1553.9,1541.6 1554.6,1546.2 1555.3,1551.6 1556,1547.4 1556.7,1543.1 1557.4,1550 1558.1,1553.4 1558.8,1558.4 1559.5,1547.3 1560.2,1549.8 1560.9,1547.9 1561.6,1547.3 1562.3,1555.1 1563,1551.6 1563.7,1548.1 1564.4,1557 1565.1,1558.5 1565.8,1555.5 1566.5,1550 1567.2,1549.9 1567.9,1557.2 1568.6,1550 1569.3,1551.3 1570,1548.3 1570.7,1558.5 1571.4,1550.2 1572.1,1551.5 1572.8,1547.1 1573.5,1549.7 1574.2,1548.2 1574.9,1558.4 1575.6,1549.9 1576.3,1556.8 1577,1548.2 1577.7,1554.8 1578.4,1557.7 1579.1,1548.4 1579.8,1552.6 1580.5,1549.8 1581.2,1547.9 1581.9,1549.8 1582.6,1541 1583.3,1550 1584,1545.9 1584.7,1552.9 1585.4,1559.7 1586.1,1555.2 1586.8,1548.5 1587.5,1550.3 1588.2,1557 1588.9,1554.7 1589.6,1552.6 1590.3,1543.8 1591,1549.5 1591.7,1557.7 1592.4,1553.4 1593.1,1549.7 1593.8,1551.6 1594.5,1562.5 1595.2,1556.2 1595.9,1548.4 1596.6,1549.3 1597.3,1553.4 1598,1557.8 1598.7,1551.5 1599.4,1552.2 1600.1,1545.7 1600.8,1551.6 1601.5,1555.1 1602.2,1554.6 1602.9,1547.3 1603.6,1554 1604.3,1548.2 1605,1545.9 1605.7,1551.9 1606.4,1544.9 1607.1,1548.7 1607.8,1547.6 1608.5,1550.2 1609.2,1551.8 1609.9,1550 1610.6,1549.1 1611.3,1548.2 1612,1542.6 1612.7,1552.2 1613.4,1559.4 1614.1,1554 1614.8,1556.7 1615.5,1553.1 1616.2,1553.1 1616.9,1554.5 1617.6,1556.8 1618.3,1555 1619,1550.2 1619.7,1553 1620.4,1543.3 1621.1,1556.6 1621.8,1553.3 1622.5,1552.7 1623.2,1549.8 1623.9,1555.6 1624.6,1557.4 1625.3,1555.7 1626,1557.5 1626.7,1548.4 1627.4,1556.2 1628.1,1552.9 1628.8,1542.4 1629.5,1553.3 1630.2,1549 1630.9,1551.9 1631.6,1550.4 1632.3,1549.9 1633,1556.5 1633.7,1551.5 1634.4,1554.5 1635.1,1556 1635.8,1552.6 1636.5,1549.8 1637.2,1554 1637.9,1553.4 1638.6,1550.6 1639.3,1553.9 1640,1557.6 1640.7,1559.5 1641.4,1558.6 1642.1,1562.4 1642.8,1555 1643.5,1553.9 1644.2,1550.3 1644.9,1557.7 1645.6,1551.8 1646.3,1557.1 1647,1558.5 1647.7,1553.2 1648.4,1543.1 1649.1,1548.9 1649.8,1551.1 1650.5,1556.6 1651.2,1551.2 1651.9,1551.5 1652.6,1545.6 1653.3,1554.6 1654,1552.7 1654.7,1555 1655.4,1549.2 1656.1,1556.2 1656.8,1547.7 1657.5,1550.2 1658.2,1550.6 1658.9,1551.9 1659.6,1553.9 1660.3,1545 1661,1552.5 1661.7,1551.6 1662.4,1548.7 1663.1,1552.2 1663.8,1554.8 1664.5,1551.9 1665.2,1551.8 1665.9,1555.5 1666.6,1550.6 1667.3,1556.3 1668,1553.8 1668.7,1553.5 1669.4,1553.7 1670.1,1555.6 1670.8,1548.9 1671.5,1555 1672.2,1548.3 1672.9,1552.6 1673.6,1555.6 1674.3,1552.5 1675,1548.8 1675.7,1548.8 1676.4,1549.4 1677.1,1553.2 1677.8,1554.1 1678.5,1555.5 1679.2,1548.7 1679.9,1554.8 1680.6,1557.2 1681.3,1554.4 1682,1553.8 1682.7,1556.4 1683.4,1558.8 1684.1,1558.3 1684.8,1563 1685.5,1544.9 1686.2,1557.4 1686.9,1551.3 1687.6,1557.6 1688.3,1549.9 1689,1552.9 1689.7,1549.6 1690.4,1550.5 1691.1,1557.8 1691.8,1547.6 1692.5,1554.9 1693.2,1552.6 1693.9,1545.4 1694.6,1557.1 1695.3,1553.3 1696,1551.7 1696.7,1556.2 1697.4,1551.4 1698.1,1559.7 1698.8,1544.9 1699.5,1552.4 1700.2,1547.4 1700.9,1554.7 1701.6,1556.5 1702.3,1556.8 1703,1563.9 1703.7,1553.8 1704.4,1552.5 1705.1,1557.2 1705.8,1550.8 1706.5,1555.8 1707.2,1553.4 1707.9,1552.8 1708.6,1555.2 1709.3,1559.1 1710,1558.4 1710.7,1556.3 1711.4,1543.8 1712.1,1554.5 1712.8,1554.8 1713.5,1554.8 1714.2,1550.1 1714.9,1555.3 1715.6,1552.8 1716.3,1545.3 1717,1554 1717.7,1557.1 1718.4,1554.1 1719.1,1549.7 1719.8,1558.8 1720.5,1556.6 1721.2,1547.6 1721.9,1557.5 1722.6,1555.7 1723.3,1555.6 1724,1549 1724.7,1544.5 1725.4,1555.7 1726.1,1561.5 1726.8,1556.5 1727.5,1556 1728.2,1553 1728.9,1553.7 1729.6,1558.3 1730.3,1552.1 1731,1560.8 1731.7,1555.9 1732.4,1555.1 1733.1,1553.4 1733.8,1551.2 1734.5,1551.9 1735.2,1548.5 1735.9,1553.6 1736.6,1547.1 1737.3,1564.2 1738,1553.3 1738.7,1549 1739.4,1555.2 1740.1,1555 1740.8,1553.1 1741.5,1556.6 1742.2,1550 1742.9,1555.1 1743.6,1554.9 1744.3,1557.1 1745,1553.5 1745.7,1556 1746.4,1545.4 1747.1,1558.2 1747.8,1555 1748.5,1556.2 1749.2,1553.5 1749.9,1557.3 1750.6,1554.3 1751.3,1555.6 1752,1554.7 1752.7,1552.6 1753.4,1551.3 1754.1,1556.1 1754.8,1556.4 1755.5,1554.1 1756.2,1558.4 1756.9,1554.8 1757.6,1556.1 1758.3,1558.3 1759,1557.2 1759.7,1554.5 1760.4,1551.7 1761.1,1550.7 1761.8,1552.4 1762.5,1561.4 1763.2,1545.9 1763.9,1563.5 1764.6,1553.8 1765.3,1563.8 1766,1557.7 1766.7,1560 1767.4,1551.8 1768.1,1562.6 1768.8,1555.2 1769.5,1557.3 1770.2,1551.8 1770.9,1554.7 1771.6,1552.3 1772.3,1555.8 1773,1557.1 1773.7,1554.2 1774.4,1558.1 1775.1,1557.1 1775.8,1555.3 1776.5,1554.9 1777.2,1549.5 1777.9,1563 1778.6,1556.7 1779.3,1554.6 1780,1556.9 1780.7,1554.5 1781.4,1555.2 1782.1,1558 1782.8,1551.3 1783.5,1554.4 1784.2,1557.9 1784.9,1550.9 1785.6,1552.3 1786.3,1559.9 1787,1562.7 1787.7,1556.2 1788.4,1557.3 1789.1,1552.1 1789.8,1559.6 1790.5,1555.1 1791.2,1555.7 1791.9,1558.4 1792.6,1553.8 1793.3,1553.3 1794,1555.5 1794.7,1551.8 1795.4,1553.2 1796.1,1544 1796.8,1551.2 1797.5,1555.8 1798.2,1561.3 1798.9,1557.9 1799.6,1550.9 1800.3,1554.1 1801,1550.3 1801.7,1549.8 1802.4,1559.9 1803.1,1552.2 1803.8,1552.4 1804.5,1554.1 1805.2,1559.7 1805.9,1554.1 1806.6,1552.4 1807.3,1555.2 1808,1553.9 1808.7,1553.6 1809.4,1547.6 1810.1,1552.4 1810.8,1555.3 1811.5,1552.8 1812.2,1567.1 1812.9,1564.8 1813.6,1563.3 1814.3,1555.1 1815,1560.2 1815.7,1560.2 1816.4,1560.2 1817.1,1553.6 1817.8,1561.9 1818.5,1568.7 1819.2,1560.8 1819.9,1564.8 1820.6,1556.4 1821.3,1559.5 1822,1565.9 1822.7,1554 1823.4,1556.8 1824.1,1552.9 1824.8,1560.3 1825.5,1550.6 1826.2,1558.5 1826.9,1554.5 1827.6,1560.3 1828.3,1555.4 1829,1556.5 1829.7,1557.7 1830.4,1554.3 1831.1,1555.2 1831.8,1555.7 1832.5,1554.7 1833.2,1557 1833.9,1553.4 1834.6,1556.7 1835.3,1554.4 1836,1553 1836.7,1551.3 1837.4,1548.5 1838.1,1552.4 1838.8,1556.5 1839.5,1553.6 1840.2,1559.9 1840.9,1551.7 1841.6,1553.8 1842.3,1549.8 1843,1558.8 1843.7,1550.5 1844.4,1556.3 1845.1,1555.7 1845.8,1563.2 1846.5,1558.9 1847.2,1557.1 1847.9,1554.9 1848.6,1565.2 1849.3,1552.3 1850,1550.5 1850.7,1557.5 1851.4,1554.4 1852.1,1550.2 1852.8,1555.8 1853.5,1556.4 1854.2,1549.7 1854.9,1561.2 1855.6,1561.6 1856.3,1553.8 1857,1545.6 1857.7,1556 1858.4,1554.6 1859.1,1557.5 1859.8,1557.8 1860.5,1554 1861.2,1559.6 1861.9,1548.1 1862.6,1552.2 1863.3,1555.9 1864,1556 1864.7,1554.5 1865.4,1556.5 1866.1,1546.9 1866.8,1547.6 1867.5,1558.1 1868.2,1559.8 1868.9,1555.4 1869.6,1551.5 1870.3,1553.1 1871,1557.5 1871.7,1556.3 1872.4,1560.1 1873.1,1561.3 1873.8,1560 1874.5,1554.6 1875.2,1559.3 1875.9,1557.3 1876.6,1556.1 1877.3,1555.8 1878,1554.7 1878.7,1551.4 1879.4,1555.9 1880.1,1549.8 1880.8,1554.4 1881.5,1557.1 1882.2,1556.9 1882.9,1547.9 1883.6,1549.5 1884.3,1549.8 1885,1553.9 1885.7,1550.1 1886.4,1555.2 1887.1,1550.2 1887.8,1553 1888.5,1548 1889.2,1548.6 1889.9,1550.1 1890.6,1552.6 1891.3,1544.5 1892,1551.8 1892.7,1547.1 1893.4,1553.3 1894.1,1546.5 1894.8,1549.9 1895.5,1560.6 1896.2,1557.9 1896.9,1549.8 1897.6,1558.8 1898.3,1551.7 1899,1553.2 1899.7,1554.7 1900.4,1553.2 1901.1,1554.9 1901.8,1553.4 1902.5,1555.7 1903.2,1553.6 1903.9,1551.6 1904.6,1549.8 1905.3,1549.9 1906,1553.1 1906.7,1555.8 1907.4,1554.5 1908.1,1552.3 1908.8,1554.6 1909.5,1551 1910.2,1552.9 1910.9,1553.7 1911.6,1550.5 1912.3,1559.7 1913,1554.8 1913.7,1550 1914.4,1553 1915.1,1551.6 1915.8,1552.2 1916.5,1552.4 1917.2,1555.9 1917.9,1552.9 1918.6,1552.9 1919.3,1555 1920,1554.8 1920.7,1557.4 1921.4,1548.8 1922.1,1553.4 1922.8,1544.8 1923.5,1550.7 1924.2,1546.2 1924.9,1546 1925.6,1549.8 1926.3,1546.8 1927,1549.4 1927.7,1541.6 1928.4,1555.1 1929.1,1542 1929.8,1546.7 1930.5,1556.8 1931.2,1547 1931.9,1557.3 1932.6,1555.7 1933.3,1552 1934,1551.3 1934.7,1550.8 1935.4,1553.5 1936.1,1558.7 1936.8,1556.5 1937.5,1541.1 1938.2,1556.8 1938.9,1552.8 1939.6,1546.3 1940.3,1553 1941,1555.8 1941.7,1552.9 1942.4,1549.7 1943.1,1552.6 1943.8,1554.1 1944.5,1548.1 1945.2,1548.7 1945.9,1548.4 1946.6,1554.3 1947.3,1550.6 1948,1546 1948.7,1547.5 1949.4,1546.8 1950.1,1551.9 1950.8,1556.6 1951.5,1559.4 1952.2,1547.9 1952.9,1544.9 1953.6,1547.7 1954.3,1547.7 1955,1545.3 1955.7,1555 1956.4,1551.3 1957.1,1546.2 1957.8,1540.9 1958.5,1557.7 1959.2,1551.6 1959.9,1549.7 1960.6,1551.5 1961.3,1544.8 1962,1553.3 1962.7,1547.7 1963.4,1551 1964.1,1548.3 1964.8,1544.9 1965.5,1545.3 1966.2,1552 1966.9,1551.3 1967.6,1546.3 1968.3,1545 1969,1545.6 1969.7,1549.2 1970.4,1542.5 1971.1,1550.3 1971.8,1544.7 1972.5,1544 1973.2,1548 1973.9,1554.8 1974.6,1546.6 1975.3,1548 1976,1545.6 1976.7,1550.4 1977.4,1550.5 1978.1,1549.5 1978.8,1548.2 1979.5,1550.6 1980.2,1552 1980.9,1547.8 1981.6,1548.4 1982.3,1547 1983,1547.2 1983.7,1552.8 1984.4,1545.4 1985.1,1549.2 1985.8,1551.9 1986.5,1546.9 1987.2,1552.1 1987.9,1553.3 1988.6,1539.7 1989.3,1552.7 1990,1546.5 1990.7,1550.6 1991.4,1545.6 1992.1,1545.5 1992.8,1550.2 1993.5,1556.5 1994.2,1559.6 1994.9,1560.1 1995.6,1555.4 1996.3,1554.5 1997,1554.9 1997.7,1552 1998.4,1548.2 1999.1,1547.5 1999.8,1551.2 2000.5,1551.2 2001.2,1546.2 2001.9,1544.3 2002.6,1545.9 2003.3,1559 2004,1546.2 2004.7,1553.4 2005.4,1552.7 2006.1,1552.3 2006.8,1546.7 2007.5,1559.3 2008.2,1549.7 2008.9,1546.8 2009.6,1546.5 2010.3,1548.5 2011,1556 2011.7,1544.7 2012.4,1546.7 2013.1,1548.8 2013.8,1550.1 2014.5,1544.7 2015.2,1544.6 2015.9,1545.8 2016.6,1551.6 2017.3,1546.1 2018,1545.6 2018.7,1547.7 2019.4,1547.4 2020.1,1553 2020.8,1544.7 2021.5,1547.3 2022.2,1545.4 2022.9,1550.2 2023.6,1550.9 2024.3,1547.7 2025,1552.6 2025.7,1548.2 2026.4,1553.4 2027.1,1547.3 2027.8,1546.9 2028.5,1543.1 2029.2,1544.2 2029.9,1544.6 2030.6,1539.8 2031.3,1546.3 2032,1548.9 2032.7,1547.7 2033.4,1546.4 2034.1,1547.8 2034.8,1541.8 2035.5,1543.9 2036.2,1548.3 2036.9,1545.1 2037.6,1548.7 2038.3,1543.9 2039,1547.6 2039.7,1553.1 2040.4,1545 2041.1,1550.8 2041.8,1550.3 2042.5,1537.2 2043.2,1553.9 2043.9,1539.9 2044.6,1556 2045.3,1542.5 2046,1538.6 2046.7,1541.2 2047.4,1547.2 2048.1,1542.4 2048.8,1542.1 2049.5,1553.7 2050.2,1542.8 2050.9,1549.3 2051.6,1550.5 2052.3,1540.2 2053,1542.5 2053.7,1547 2054.4,1546.2 2055.1,1547 2055.8,1539.3 2056.5,1543.1 2057.2,1547.1 2057.9,1547.8 2058.6,1550.2 2059.3,1544.8 2060,1543.9 2060.7,1543.2 2061.4,1543.5 2062.1,1539.8 2062.8,1552 2063.5,1543.1 2064.2,1543.4 2064.9,1541 2065.6,1546.6 2066.3,1544.8 2067,1541.6 2067.7,1547.4 2068.4,1544.9 2069.1,1543.5 2069.8,1544.4 2070.5,1548.5 2071.2,1549.2 2071.9,1544.9 2072.6,1548.9 2073.3,1538.5 2074,1548.2 2074.7,1543.2 2075.4,1544 2076.1,1545.4 2076.8,1552.4 2077.5,1544.9 2078.2,1545.5 2078.9,1547.7 2079.6,1538.8 2080.3,1544.2 2081,1546.8 2081.7,1540.8 2082.4,1545.7 2083.1,1541 2083.8,1538.6 2084.5,1546.8 2085.2,1544.5 2085.9,1547.2 2086.6,1545.7 2087.3,1541.9 2088,1549 2088.7,1547.1 2089.4,1547 2090.1,1544.1 2090.8,1541.5 2091.5,1549.7 2092.2,1547.5 2092.9,1545.5 2093.6,1542.9 2094.3,1549.4 2095,1542.3 2095.7,1542.8 2096.4,1552.6 2097.1,1547.8 2097.8,1551.8 2098.5,1548.4 2099.2,1553 2099.9,1547.3 2100.6,1547.3 2101.3,1542.4 2102,1545.1 2102.7,1539.3 2103.4,1541.5 2104.1,1543.4 2104.8,1548 2105.5,1547.8 2106.2,1541.2 2106.9,1540.2 2107.6,1545 2108.3,1541.7 2109,1550.6 2109.7,1549.5 2110.4,1542.4 2111.1,1547.2 2111.8,1553.9 2112.5,1542.5 2113.2,1543.7 2113.9,1544.8 2114.6,1549.2 2115.3,1546.1 2116,1543.6 2116.7,1546.4 2117.4,1544.4 2118.1,1545.5 2118.8,1546.1 2119.5,1545.4 2120.2,1549 2120.9,1545.2 2121.6,1544.5 2122.3,1544.7 2123,1540.8 2123.7,1543 2124.4,1552.2 2125.1,1546.1 2125.8,1547.8 2126.5,1548.6 2127.2,1543.9 2127.9,1544.1 2128.6,1546.6 2129.3,1541.7 2130,1547.6 2130.7,1546.9 2131.4,1545.6 2132.1,1546.4 2132.8,1547.6 2133.5,1545.8 2134.2,1535.4 2134.9,1547.5 2135.6,1543 2136.3,1544.7 2137,1545.1 2137.7,1545.2 2138.4,1541.2 2139.1,1540.6 2139.8,1546.4 2140.5,1547.4 2141.2,1548.9 2141.9,1543.6 2142.6,1547.1 2143.3,1550.9 2144,1546.2 2144.7,1545 2145.4,1559.3 2146.1,1543.4 2146.8,1546.2 2147.5,1545.1 2148.2,1546.9 2148.9,1558.8 2149.6,1545 2150.3,1547.5 2151,1546.6 2151.7,1545.9 2152.4,1551.2 2153.1,1547.1 2153.8,1552.3 2154.5,1553.6 2155.2,1547.5 2155.9,1553.8 2156.6,1541.8 2157.3,1550.4 2158,1552.6 2158.7,1545.9 2159.4,1549 2160.1,1550.8 2160.8,1551.2 2161.5,1550.6 2162.2,1556.1 2162.9,1549.2 2163.6,1553.7 2164.3,1559.9 2165,1545.9 2165.7,1548 2166.4,1545.8 2167.1,1551.2 2167.8,1557.9 2168.5,1537.9 2169.2,1545.3 2169.9,1546.3 2170.6,1555.6 2171.3,1547.2 2172,1549.8 2172.7,1544.8 2173.4,1554.8 2174.1,1545.8 2174.8,1549.3 2175.5,1546.3 2176.2,1549.6 2176.9,1549.6 2177.6,1551 2178.3,1552.1 2179,1556.6 2179.7,1548.4 2180.4,1555.4 2181.1,1553.4 2181.8,1550.7 2182.5,1552.3 2183.2,1552.1 2183.9,1556.8 2184.6,1553.7 2185.3,1552.9 2186,1551.6 2186.7,1540.8 2187.4,1553.3 2188.1,1557.8 2188.8,1551.7 2189.5,1551.6 2190.2,1548 2190.9,1551.8 2191.6,1554 2192.3,1543.3 2193,1548.8 2193.7,1549.8 2194.4,1555.6 2195.1,1550.1 2195.8,1545.7 2196.5,1552.1 2197.2,1556 2197.9,1551.3 2198.6,1549.4 2199.3,1552.9 2200,1557.8 2200.7,1551.6 2201.4,1551.1 2202.1,1553.9 2202.8,1550 2203.5,1546.9 2204.2,1552.8 2204.9,1551.1 2205.6,1553.5 2206.3,1552.9 2207,1554.3 2207.7,1546.1 2208.4,1553.9 2209.1,1550 2209.8,1554.1 2210.5,1551.5 2211.2,1562.9 2211.9,1549.7 2212.6,1545 2213.3,1552.6 2214,1550.6 2214.7,1549.1 2215.4,1552.9 2216.1,1557.8 2216.8,1552.3 2217.5,1551 2218.2,1558.3 2218.9,1557.7 2219.6,1554.4 2220.3,1552.8 2221,1557 2221.7,1550.4 2222.4,1552.6 2223.1,1552 2223.8,1556.2 2224.5,1559.2 2225.2,1554.4 2225.9,1559.8 2226.6,1547.5 2227.3,1553.6 2228,1548 2228.7,1556.1 2229.4,1557.1 2230.1,1542.4 2230.8,1549.9 2231.5,1552.4 2232.2,1547.2 2232.9,1549.1 2233.6,1548.7 2234.3,1552.3 2235,1549.8 2235.7,1548.8 2236.4,1547.4 2237.1,1552.5 2237.8,1553.1 2238.5,1552.1 2239.2,1559.7 2239.9,1551 2240.6,1552.1 2241.3,1554.6 2242,1549.7 2242.7,1554.7 2243.4,1552.6 2244.1,1552.5 2244.8,1547.3 2245.5,1550 2246.2,1552.9 2246.9,1555.1 2247.6,1550.6 2248.3,1551.7 2249,1549.7 2249.7,1549.6 2250.4,1558 2251.1,1554.4 2251.8,1555.9 2252.5,1557.1 2253.2,1552.8 2253.9,1553.1 2254.6,1545.9 2255.3,1550.3 2256,1553.6 2256.7,1556.9 2257.4,1555.9 2258.1,1550.7 2258.8,1548.2 2259.5,1555.4 2260.2,1554.8 2260.9,1555.1 2261.6,1554.3 2262.3,1557.6 2263,1554.6 2263.7,1558.6 2264.4,1557.6 2265.1,1554.6 2265.8,1551.3 2266.5,1556.1 2267.2,1558.2 2267.9,1556.8 2268.6,1550 2269.3,1550.4 2270,1555.7 2270.7,1567.1 2271.4,1553.5 2272.1,1555.7 2272.8,1557.7 2273.5,1560.2 2274.2,1554 2274.9,1557.3 2275.6,1557.8 2276.3,1553.2 2277,1558.3 2277.7,1554 2278.4,1558 2279.1,1559.7 2279.8,1558.4 2280.5,1554.4 2281.2,1560.8 2281.9,1563.3 2282.6,1559.4 2283.3,1561.5 2284,1557.4 2284.7,1556 2285.4,1557.6 2286.1,1559.2 2286.8,1559.9 2287.5,1554.2 2288.2,1557.1 2288.9,1555.6 2289.6,1553 2290.3,1543.8 2291,1548.5 2291.7,1556.6 2292.4,1548.8 2293.1,1548 2293.8,1549.3 2294.5,1553 2295.2,1558.4 2295.9,1555.9 2296.6,1552.1 2297.3,1553.5 2298,1557.1 2298.7,1556.2 2299.4,1546.1 2300.1,1560.2 2300.8,1559.4 2301.5,1553.1 2302.2,1555.6 2302.9,1557.5 2303.6,1557.6 2304.3,1554.5 2305,1555.6 2305.7,1565.4 2306.4,1554 2307.1,1561 2307.8,1555.9 2308.5,1551.8 2309.2,1557.8 2309.9,1557.4 2310.6,1560.5 2311.3,1562.3 2312,1561 2312.7,1559 2313.4,1559.9 2314.1,1560.9 2314.8,1555.7 2315.5,1552.2 2316.2,1560.5 2316.9,1554.5 2317.6,1557.1 2318.3,1563.6 2319,1560.9 2319.7,1562.1 2320.4,1558.2 2321.1,1562.1 2321.8,1553.7 2322.5,1556.3 2323.2,1558.5"/>
<polyline stroke="#0000ff" marker-start="url(#p1)" marker-mid="url(#p1)" marker-end="url(#p1)" points="169.3,777.8 170,754.1 170.7,768.6 171.4,763.2 172.1,763.3 172.8,764 173.5,749.2 174.2,765.3 174.9,762.9 175.6,785.3 176.3,770.9 177,769.1 177.7,770.9 178.4,770.4 179.1,769.8 179.8,775 180.5,781.3 181.2,777.4 181.9,786.6 182.6,780.3 183.3,783.9 184,793.6 184.7,789.1 185.4,784.2 186.1,787.1 186.8,792.3 187.5,801.5 188.2,787.9 188.9,789 189.6,798.5 190.3,788 191,790.8 191.7,800.6 192.4,799.9 193.1,798.3 193.8,803.2 194.5,783.1 195.2,808.3 195.9,797.3 196.6,794.2 197.3,807.7 198,811.7 198.7,803.2 199.4,803.3 200.1,811.8 200.8,812.5 201.5,832.4 202.2,825.8 202.9,819.1 203.6,826.6 204.3,818 205,810 205.7,827 206.4,828 207.1,823.6 207.8,820.5 208.5,828.1 209.2,810.3 209.9,832.8 210.6,832.3 211.3,818.6 212,831.5 212.7,825.6 213.4,839 214.1,820.8 214.8,830 215.5,842.7 216.2,854.6 216.9,816.7 217.6,832.9 218.3,842.5 219,835.8 219.7,852 220.4,823.7 221.1,843.5 221.8,833.5 222.5,852.2 223.2,842.1 223.9,839.9 224.6,830 225.3,855.8 226,848.8 226.7,848.8 227.4,860 228.1,846.1 228.8,839 229.5,838.6 230.2,839.7 230.9,857.8 231.6,837.1 232.3,845.3 233,848.8 233.7,854.5 234.4,863 235.1,845.5 235.8,831.7 236.5,858.5 237.2,869.8 237.9,867.6 238.6,864.6 239.3,859.1 240,867.5 240.7,864 241.4,879.5 242.1,860.4 242.8,869.2 243.5,866.2 244.2,871.5 244.9,870.5 245.6,887.8 246.3,879.2 247,879.2 247.7,850.6 248.4,864.9 249.1,863.3 249.8,873.3 250.5,851.3 251.2,880.6 251.9,880.9 252.6,862.9 253.3,867 254,863.7 254.7,877.9 255.4,883.8 256.1,896 256.8,878 257.5,885.9 258.2,880.8 258.9,905.1 259.6,885.4 260.3,890.7 261,871.2 261.7,879 262.4,874.8 263.1,894.6 263.8,888.8 264.5,882 265.2,881.9 265.9,890.5 266.6,881.8 267.3,880.8 268,892.9 268.7,915.3 269.4,886.2 270.1,886 270.8,881.4 271.5,880.4 272.2,895.8 272.9,898.8 273.6,892.3 274.3,895.1 275,894.5 275.7,894.1 276.4,881 277.1,886.7 277.8,895.4 278.5,889 279.2,892.4 279.9,890.8 280.6,895.9 281.3,906.7 282,894.5 282.7,900.5 283.4,908.9 284.1,907.9 284.8,928.2 285.5,885.7 286.2,909 286.9,897.8 287.6,902.2 288.3,907.5 289,909.1 289.7,908.5 290.4,901.3 291.1,912.9 291.8,895.6 292.5,898.9 293.2,906.6 293.9,895.8 294.6,917.8 295.3,908.9 296,918.4 296.7,901.1 297.4,898.7 298.1,903.6 298.8,908.6 299.5,898.4 300.2,906.5 300.9,903.4 301.6,916.5 302.3,898.1 303,911.3 303.7,897.3 304.4,894.3 305.1,896 305.8,892 306.5,902.8 307.2,917.9 307.9,903.8 308.6,908 309.3,916.7 310,906.4 310.7,906.5 311.4,903.4 312.1,893.5 312.8,918.7 313.5,893.5 314.2,913 314.9,907.7 315.6,916.4 316.3,906.3 317,899.5 317.7,910.7 318.4,895.8 319.1,901 319.8,903.8 320.5,901.3 321.2,902 321.9,897.3 322.6,902.9 323.3,888.1 324,904.4 324.7,896.7 325.4,915.6 326.1,917 326.8,891.5 327.5,908 328.2,904.7 328.9,890.3 329.6,914.2 330.3,902.1 331,880.5 331.7,903.4 332.4,904.4 333.1,906.6 333.8,896.3 334.5,911.1 335.2,912.3 335.9,897.5 336.6,896.5 337.3,905.3 338,901.9 338.7,920 339.4,907.6 340.1,890.2 340.8,899 341.5,904 342.2,922.7 342.9,903 343.6,905.3 344.3,908.5 345,904.3 345.7,922.9 346.4,901 347.1,911.4 347.8,907.2 348.5,911.1 349.2,897.3 349.9,920.8 350.6,906.2 351.3,907.7 352,900.2 352.7,896.6 353.4,912.2 354.1,915.5 354.8,919.1 355.5,926 356.2,913.1 356.9,907.6 357.6,920.2 358.3,916.5 359,906.8 359.7,913.4 360.4,917.8 361.1,909.4 361.8,904.6 362.5,912.7 363.2,921.5 363.9,904.4 364.6,904.7 365.3,903.8 366,913.9 366.7,889.3 367.4,906.1 368.1,912.2 368.8,896.1 369.5,913.9 370.2,906.2 370.9,897.6 371.6,903.4 372.3,878.5 373,897.3 373.7,916 374.4,888.1 375.1,916 375.8,900.9 376.5,909.3 377.2,901.9 377.9,884.2 378.6,897.3 379.3,904.7 380,893.1 380.7,891.7 381.4,904 382.1,895.5 382.8,886.3 383.5,890.3 384.2,895.4 384.9,880.6 385.6,879.8 386.3,871.8 387,852.5 387.7,835.1 388.4,822 389.1,813.6 389.8,805.6 390.5,797.8 391.2,795 391.9,794.6 392.6,801.9 393.3,809.2 394,821 394.7,825.9 395.4,840.9 396.1,856.8 396.8,863.5 397.5,872.3 398.2,888.8 398.9,889.3 399.6,915.9 400.3,910 401,894.8 401.7,912.1 402.4,904.4 403.1,896.8 403.8,910.4 404.5,895.8 405.2,877.8 405.9,913.2 406.6,892 407.3,912.9 408,896.6 408.7,892.8 409.4,914.4 410.1,894.5 410.8,904.8 411.5,914.8 412.2,904.8 412.9,903.5 413.6,904.9 414.3,910.5 415,897.5 415.7,908 416.4,907.2 417.1,920.2 417.8,899.2 418.5,894.5 419.2,907.2 419.9,895.7 420.6,904.2 421.3,903.4 422,920.2 422.7,898 423.4,902.5 424.1,883.6 424.8,889.9 425.5,914.8 426.2,897.5 426.9,897.1 427.6,893 428.3,906.9 429,904.1 429.7,894.2 430.4,909.2 431.1,908.9 431.8,911.7 432.5,901.9 433.2,921 433.9,911.4 434.6,907.9 435.3,905.2 436,905.8 436.7,916.3 437.4,907.8 438.1,918.2 438.8,914.3 439.5,929.7 440.2,915.5 440.9,907.8 441.6,893.5 442.3,912 443,913 443.7,907.6 444.4,910.2 445.1,901.8 445.8,899.3 446.5,897.2 447.2,914.3 447.9,904.3 448.6,898.5 449.3,891.2 450,899.3 450.7,910.6 451.4,905.6 452.1,892.3 452.8,907.8 453.5,916.9 454.2,902 454.9,904.8 455.6,900.6 456.3,894.5 457,895.1 457.7,882.1 458.4,898.7 459.1,888.5 459.8,901.9 460.5,862.2 461.2,891.7 461.9,900.9 462.6,883.7 463.3,889.7 464,891.7 464.7,894.2 465.4,881.2 466.1,884.1 466.8,900.2 467.5,904.3 468.2,886.7 468.9,887.3 469.6,889.1 470.3,896.3 471,873.6 471.7,879.5 472.4,890.8 473.1,881.2 473.8,880.5 474.5,889 475.2,891 475.9,878 476.6,896.7 477.3,870.4 478,887.1 478.7,859.2 479.4,863.4 480.1,887.1 480.8,876.5 481.5,876.9 482.2,880 482.9,887.4 483.6,883.8 484.3,884.3 485,892.8 485.7,879.6 486.4,881.7 487.1,877.8 487.8,902.6 488.5,893 489.2,895 489.9,884.8 490.6,883.7 491.3,891.1 492,881.5 492.7,890.6 493.4,889.6 494.1,878.5 494.8,882.1 495.5,881.8 496.2,906 496.9,901.2 497.6,880.6 498.3,881.3 499,864.1 499.7,883.1 500.4,881.6 501.1,873.6 501.8,887.4 502.5,858.1 503.2,878.7 503.9,880.5 504.6,869.1 505.3,883.9 506,891.8 506.7,864.9 507.4,863.9 508.1,882.5 508.8,873.2 509.5,855.7 510.2,871.4 510.9,873.3 511.6,873.7 512.3,887.4 513,878.7 513.7,889.4 514.4,886.5 515.1,881.1 515.8,883.8 516.5,885.3 517.2,880.2 517.9,865.2 518.6,886.5 519.3,874.1 520,885.3 520.7,873.5 521.4,876.4 522.1,874.8 522.8,884.9 523.5,874 524.2,869.3 524.9,876.3 525.6,868.5 526.3,876.9 527,876.4 527.7,879.1 528.4,891.7 529.1,874.5 529.8,878.1 530.5,876.1 531.2,882.5 531.9,868.7 532.6,872.2 533.3,876.8 534,880.7 534.7,875.4 535.4,871.6 536.1,868.2 536.8,881.1 537.5,883.8 538.2,875.4 538.9,874.3 539.6,876.5 540.3,866.8 541,872 541.7,871.1 542.4,877.7 543.1,876 543.8,868.1 544.5,885.6 545.2,890.2 545.9,874.5 546.6,881.3 547.3,880.3 548,883.8 548.7,867.1 549.4,888.8 550.1,869.8 550.8,884.5 551.5,875.7 552.2,868.3 552.9,872.3 553.6,879.6 554.3,867.2 555,871.4 555.7,871.6 556.4,864 557.1,895.6 557.8,883 558.5,879.9 559.2,889.3 559.9,875 560.6,881.9 561.3,895.1 562,890.2 562.7,861.3 563.4,861.7 564.1,877.3 564.8,892.8 565.5,882.7 566.2,885.2 566.9,891.8 567.6,876.2 568.3,890.5 569,895.1 569.7,896.3 570.4,893 571.1,882.3 571.8,894.1 572.5,887.6 573.2,899.7 573.9,908.6 574.6,885.6 575.3,875.8 576,885.3 576.7,896.2 577.4,898.7 578.1,899.3 578.8,887.1 579.5,887.8 580.2,902.9 580.9,880.6 581.6,903.6 582.3,895.4 583,902.8 583.7,902.7 584.4,908.4 585.1,903.8 585.8,891.4 586.5,900.1 587.2,898.2 587.9,900.2 588.6,906.6 589.3,896.4 590,893.5 590.7,893.6 591.4,896.7 592.1,904.3 592.8,889.1 593.5,908.3 594.2,903.3 594.9,900.8 595.6,894.4 596.3,906.2 597,910.4 597.7,895 598.4,923.6 599.1,930.5 599.8,912.7 600.5,914.8 601.2,928.6 601.9,921.4 602.6,907.8 603.3,914 604,913.3 604.7,913.3 605.4,893.2 606.1,919.1 606.8,909.8 607.5,915.1 608.2,913.2 608.9,920 609.6,912.5 610.3,909.6 611,922 611.7,925 612.4,914.4 613.1,926.4 613.8,920.2 614.5,916.1 615.2,930.7 615.9,916.4 616.6,929.4 617.3,920.5 618,927.5 618.7,917.3 619.4,920.6 620.1,933.8 620.8,928.8 621.5,928.7 622.2,926.5 622.9,936 623.6,922.4 624.3,925.5 625,933 625.7,930 626.4,932.4 627.1,937.5 627.8,939 628.5,939.8 629.2,953.1 629.9,949.8 630.6,951.9 631.3,944.3 632,941.6 632.7,935.9 633.4,943.5 634.1,933.1 634.8,943.6 635.5,953.4 636.2,960.1 636.9,957.3 637.6,947 638.3,956.8 639,945 639.7,960.7 640.4,955.5 641.1,962.1 641.8,973.4 642.5,963.6 643.2,973.1 643.9,960.5 644.6,958.4 645.3,970.1 646,982.9 646.7,961.1 647.4,966.5 648.1,958.4 648.8,967.4 649.5,975.4 650.2,970.6 650.9,968.8 651.6,956.8 652.3,977.2 653,981.1 653.7,981.2 654.4,980.3 655.1,972 655.8,991.8 656.5,981.7 657.2,982.1 657.9,988.5 658.6,965.8 659.3,985.8 660,986.4 660.7,992.7 661.4,997.5 662.1,993.1 662.8,980 663.5,989.8 664.2,995.1 664.9,995.1 665.6,986.4 666.3,975.7 667,998.8 667.7,1000.2 668.4,996.7 669.1,987.2 669.8,1008.9 670.5,980 671.2,995.5 671.9,1013.1 672.6,1000.4 673.3,1003.5 674,995.8 674.7,1011.4 675.4,988.9 676.1,1005.6 676.8,1005.8 677.5,998.3 678.2,1010 678.9,996.7 679.6,1001.6 680.3,1006 681,1004.5 681.7,1012.9 682.4,1013.7 683.1,1007 683.8,1003 684.5,1006.4 685.2,1007.5 685.9,1014.7 686.6,1009.2 687.3,1013.4 688,1011.3 688.7,1007.8 689.4,1018.6 690.1,1002.7 690.8,1015.1 691.5,1024.2 692.2,1009.8 692.9,1015.9 693.6,1007.9 694.3,1014.7 695,1009.7 695.7,1016.8 696.4,1016.4 697.1,1020.7 697.8,1038 698.5,1022.6 699.2,1025.3 699.9,1021.8 700.6,1021.9 701.3,1015.2 702,1015.4 702.7,1027.3 703.4,1037.5 704.1,1032.1 704.8,1027.3 705.5,1040.6 706.2,1029.4 706.9,1028.7 707.6,1025.6 708.3,1027.2 709,1031.3 709.7,1044 710.4,1031.6 711.1,1027.1 711.8,1029.8 712.5,1032.4 713.2,1024.6 713.9,1035.6 714.6,1039.6 715.3,1038.2 716,1040.6 716.7,1023.8 717.4,1028.8 718.1,1046 718.8,1045.1 719.5,1030.4 720.2,1040.2 720.9,1039.3 721.6,1042.3 722.3,1040.6 723,1036.9 723.7,1041.2 724.4,1042.3 725.1,1040.9 725.8,1031.5 726.5,1026 727.2,1035.2 727.9,1027.3 728.6,1047.6 729.3,1055 730,1049.7 730.7,1046.9 731.4,1049.9 732.1,1056.4 732.8,1046 733.5,1060.2 734.2,1054.3 734.9,1053.5 735.6,1059.2 736.3,1047.8 737,1057.7 737.7,1048.1 738.4,1049.8 739.1,1048.9 739.8,1058.1 740.5,1051.2 741.2,1057.4 741.9,1051.5 742.6,1064.4 743.3,1069.2 744,1060.7 744.7,1077.3 745.4,1063.2 746.1,1072.3 746.8,1061.1 747.5,1052.1 748.2,1069.3 748.9,1060.7 749.6,1055.9 750.3,1054.9 751,1053.2 751.7,1061.5 752.4,1056.8 753.1,1078.7 753.8,1066.6 754.5,1053.9 755.2,1054.7 755.9,1056.8 756.6,1052.1 757.3,1061.9 758,1061.9 758.7,1058 759.4,1056.5 760.1,1065.1 760.8,1070.4 761.5,1078.8 762.2,1063.4 762.9,1068.3 763.6,1060 764.3,1066.8 765,1054.9 765.7,1069.6 766.4,1059.6 767.1,1061.8 767.8,1067.8 768.5,1071.8 769.2,1061.8 769.9,1064.9 770.6,1072.8 771.3,1074.7 772,1068.5 772.7,1074.3 773.4,1073.1 774.1,1090 774.8,1079 775.5,1069.4 776.2,1065.1 776.9,1077.9 777.6,1083.9 778.3,1079.2 779,1081.9 779.7,1074.1 780.4,1062.1 781.1,1079.9 781.8,1076.1 782.5,1079 783.2,1067.8 783.9,1076.3 784.6,1069 785.3,1084.4 786,1073.4 786.7,1073.9 787.4,1074.7 788.1,1085.3 788.8,1079.5 789.5,1071.9 790.2,1074.9 790.9,1075.3 791.6,1089.1 792.3,1072 793,1077.5 793.7,1085.9 794.4,1089.2 795.1,1082.6 795.8,1088.2 796.5,1088.6 797.2,1090.3 797.9,1085.6 798.6,1094.5 799.3,1086.9 800,1094 800.7,1079.9 801.4,1090.7 802.1,1079.1 802.8,1078 803.5,1088.9 804.2,1078.3 804.9,1089.6 805.6,1082 806.3,1096.7 807,1088.7 807.7,1083 808.4,1090.2 809.1,1098.8 809.8,1082 810.5,1092.5 811.2,1100.6 811.9,1094.3 812.6,1089.7 813.3,1086.7 814,1092.9 814.7,1082.1 815.4,1074.4 816.1,1087.3 816.8,1080.6 817.5,1101.1 818.2,1093.2 818.9,1087.8 819.6,1087.3 820.3,1096.4 821,1089.7 821.7,1091.2 822.4,1093.9 823.1,1095.7 823.8,1095.3 824.5,1095.6 825.2,1102.2 825.9,1104.7 826.6,1079.9 827.3,1110.2 828,1097.9 828.7,1104.1 829.4,1094 830.1,1099.7 830.8,1099.1 831.5,1098.3 832.2,1101.8 832.9,1100.2 833.6,1091.1 834.3,1095 835,1099.2 835.7,1098.7 836.4,1091.9 837.1,1093.4 837.8,1094.2 838.5,1084.5 839.2,1088.8 839.9,1103.8 840.6,1092.4 841.3,1097.6 842,1089.3 842.7,1103.3 843.4,1112.5 844.1,1094.7 844.8,1098.9 845.5,1092 846.2,1104.7 846.9,1100.2 847.6,1091 848.3,1101.9 849,1097.7 849.7,1100.9 850.4,1101 851.1,1091.5 851.8,1095.7 852.5,1102.3 853.2,1099.4 853.9,1095.2 854.6,1110.8 855.3,1099.5 856,1097.7 856.7,1097 857.4,1103.9 858.1,1105.1 858.8,1101.1 859.5,1104 860.2,1091.5 860.9,1096.9 861.6,1096 862.3,1098.1 863,1100.2 863.7,1081 864.4,1113.1 865.1,1092.7 865.8,1098.8 866.5,1101.2 867.2,1101.3 867.9,1099.6 868.6,1082 869.3,1091.3 870,1100.7 870.7,1092.2 871.4,1086.9 872.1,1085.3 872.8,1103.9 873.5,1100.8 874.2,1094.1 874.9,1098 875.6,1099 876.3,1093.9 877,1098 877.7,1100.4 878.4,1101.4 879.1,1104.5 879.8,1097.6 880.5,1094.7 881.2,1098.9 881.9,1093.7 882.6,1084.8 883.3,1103.2 884,1094 884.7,1098.6 885.4,1101.4 886.1,1092.4 886.8,1101.2 887.5,1100 888.2,1097 888.9,1099.4 889.6,1090 890.3,1086.3 891,1095.2 891.7,1093.6 892.4,1103.2 893.1,1100.5 893.8,1096.9 894.5,1100.3 895.2,1107.4 895.9,1106.6 896.6,1103.1 897.3,1105.9 898,1099.2 898.7,1101.4 899.4,1105.2 900.1,1101.6 900.8,1103.5 901.5,1096 902.2,1085.1 902.9,1092.2 903.6,1098.2 904.3,1113.1 905,1105.6 905.7,1094.1 906.4,1091 907.1,1106.6 907.8,1100.8 908.5,1091.2 909.2,1108.5 909.9,1098.6 910.6,1104.2 911.3,1099.1 912,1101.7 912.7,1098.8 913.4,1092.3 914.1,1096 914.8,1093.8 915.5,1101.6 916.2,1092.5 916.9,1089.9 917.6,1101.4 918.3,1104 919,1112.7 919.7,1104.2 920.4,1091 921.1,1095.3 921.8,1096 922.5,1098.6 923.2,1087.6 923.9,1098.4 924.6,1099.9 925.3,1093.8 926,1099.6 926.7,1105.5 927.4,1100.3 928.1,1106 928.8,1106.3 929.5,1103.6 930.2,1103.8 930.9,1100.1 931.6,1108.4 932.3,1099.8 933,1095.5 933.7,1106.2 934.4,1095.9 935.1,1105.6 935.8,1109.3 936.5,1104.7 937.2,1105.1 937.9,1113.8 938.6,1108.5 939.3,1096.7 940,1097.7 940.7,1110.9 941.4,1105.8 942.1,1093 942.8,1096.6 943.5,1103.5 944.2,1098.5 944.9,1106.1 945.6,1104.5 946.3,1106.9 947,1098.8 947.7,1108.2 948.4,1121.2 949.1,1101.1 949.8,1111.8 950.5,1109.8 951.2,1107.7 951.9,1103.4 952.6,1092 953.3,1098.3 954,1106.1 954.7,1106.8 955.4,1113.7 956.1,1106.2 956.8,1105.9 957.5,1097.2 958.2,1095.5 958.9,1103.1 959.6,1104.9 960.3,1103.2 961,1095.4 961.7,1100.8 962.4,1096.1 963.1,1104.5 963.8,1098.5 964.5,1103 965.2,1105.4 965.9,1105.1 966.6,1110.5 967.3,1092.5 968,1092 968.7,1107.8 969.4,1109.8 970.1,1116.6 970.8,1103.4 971.5,1104.2 972.2,1101.6 972.9,1087.9 973.6,1097.2 974.3,1104.8 975,1096.7 975.7,1109.3 976.4,1091.8 977.1,1097.6 977.8,1105.6 978.5,1097 979.2,1089.2 979.9,1093.4 980.6,1096.7 981.3,1108.2 982,1102.6 982.7,1103.3 983.4,1098 984.1,1105 984.8,1101.2 985.5,1095.9 986.2,1098.3 986.9,1101.6 987.6,1106.5 988.3,1100.3 989,1103.2 989.7,1111.1 990.4,1096.9 991.1,1095 991.8,1106.6 992.5,1106.4 993.2,1101.8 993.9,1104 994.6,1101.2 995.3,1105.8 996,1101.6 996.7,1107.4 997.4,1097.4 998.1,1099.2 998.8,1104 999.5,1101 1000.2,1110.4 1000.9,1103 1001.6,1100.3 1002.3,1103.9 1003,1099.7 1003.7,1094 1004.4,1095.6 1005.1,1096.8 1005.8,1097.9 1006.5,1100.2 1007.2,1103.9 1007.9,1104.4 1008.6,1107.5 1009.3,1110.9 1010,1096.9 1010.7,1106.1 1011.4,1103.5 1012.1,1095 1012.8,1100.4 1013.5,1102.6 1014.2,1099.5 1014.9,1102.1 1015.6,1099 1016.3,1100.7 1017,1094.4 1017.7,1099.5 1018.4,1095.9 1019.1,1101.5 1019.8,1089.6 1020.5,1100 1021.2,1111 1021.9,1101.3 1022.6,1098 1023.3,1100.6 1024,1093.2 1024.7,1092.9 1025.4,1094.9 1026.1,1095.7 1026.8,1101.2 1027.5,1091.7 1028.2,1101.3 1028.9,1080.9 1029.6,1088.6 1030.3,1095.8 1031,1101.7 1031.7,1089.7 1032.4,1084.3 1033.1,1097.1 1033.8,1094.5 1034.5,1088.9 1035.2,1084.2 1035.9,1090.6 1036.6,1094.5 1037.3,1097.2 1038,1086.2 1038.7,1105.4 1039.4,1093.5 1040.1,1091.8 1040.8,1097.1 1041.5,1094.3 1042.2,1105.7 1042.9,1099.4 1043.6,1092.1 1044.3,1092.1 1045,1091.8 1045.7,1091.4 1046.4,1098.2 1047.1,1091.6 1047.8,1110.9 1048.5,1094.7 1049.2,1094.4 1049.9,1100.1 1050.6,1079.2 1051.3,1086.7 1052,1099.1 1052.7,1096.7 1053.4,1096.6 1054.1,1098.8 1054.8,1093.8 1055.5,1095.9 1056.2,1089.5 1056.9,1086.5 1057.6,1101.8 1058.3,1085.9 1059,1090.6 1059.7,1100.6 1060.4,1098.5 1061.1,1090.3 1061.8,1090.2 1062.5,1092.4 1063.2,1088.6 1063.9,1099.4 1064.6,1095.3 1065.3,1095.9 1066,1099.6 1066.7,1100 1067.4,1106.1 1068.1,1104.9 1068.8,1089.1 1069.5,1102.2 1070.2,1092.3 1070.9,1090.6 1071.6,1100.8 1072.3,1093.3 1073,1094.4 1073.7,1100.4 1074.4,1090.9 1075.1,1088.9 1075.8,1094.2 1076.5,1098 1077.2,1094.2 1077.9,1083.8 1078.6,1088.3 1079.3,1090.4 1080,1101.4 1080.7,1096.7 1081.4,1096.7 1082.1,1098.7 1082.8,1091.5 1083.5,1097.9 1084.2,1095.8 1084.9,1088.8 1085.6,1093.8 1086.3,1096.9 1087,1089.3 1087.7,1098.9 1088.4,1099 1089.1,1100.8 1089.8,1089.1 1090.5,1097 1091.2,1103.6 1091.9,1100.4 1092.6,1092.6 1093.3,1097.2 1094,1102.5 1094.7,1094.9 1095.4,1096.7 1096.1,1109.6 1096.8,1094.3 1097.5,1093.6 1098.2,1085.4 1098.9,1091.7 1099.6,1102.4 1100.3,1095 1101,1090.3 1101.7,1091.8 1102.4,1096.6 1103.1,1100.3 1103.8,1093.2 1104.5,1100.3 1105.2,1094.7 1105.9,1098.9 1106.6,1102.4 1107.3,1100.8 1108,1096.4 1108.7,1098.2 1109.4,1101.9 1110.1,1093.9 1110.8,1101.3 1111.5,1103.2 1112.2,1105.9 1112.9,1100.8 1113.6,1100 1114.3,1101.3 1115,1096.9 1115.7,1099 1116.4,1101.6 1117.1,1100.6 1117.8,1094 1118.5,1097.2 1119.2,1088.7 1119.9,1102.5 1120.6,1096.5 1121.3,1100.5 1122,1089.8 1122.7,1099.8 1123.4,1102.7 1124.1,1105.5 1124.8,1094.6 1125.5,1105 1126.2,1100.3 1126.9,1097.4 1127.6,1103.2 1128.3,1099.6 1129,1099.6 1129.7,1097.8 1130.4,1102.2 1131.1,1101.5 1131.8,1100.5 1132.5,1096.9 1133.2,1096.8 1133.9,1103.6 1134.6,1108 1135.3,1102.1 1136,1109.6 1136.7,1103.6 1137.4,1099.1 1138.1,1107.7 1138.8,1100.6 1139.5,1107.3 1140.2,1110.5 1140.9,1102.7 1141.6,1104.7 1142.3,1117.1 1143,1106.8 1143.7,1108.2 1144.4,1113 1145.1,1105.9 1145.8,1106.2 1146.5,1108.6 1147.2,1096 1147.9,1113.7 1148.6,1102.3 1149.3,1102.2 1150,1109.6 1150.7,1107.2 1151.4,1095.8 1152.1,1108 1152.8,1101.9 1153.5,1101.1 1154.2,1100.9 1154.9,1104.5 1155.6,1112.3 1156.3,1110.1 1157,1112.9 1157.7,1115.2 1158.4,1111.6 1159.1,1106.7 1159.8,1110.7 1160.5,1121.3 1161.2,1114.8 1161.9,1116.7 1162.6,1114.9 1163.3,1117.3 1164,1120.3 1164.7,1116.7 1165.4,1116.4 1166.1,1110.4 1166.8,1113.5 1167.5,1119.1 1168.2,1123.6 1168.9,1121.4 1169.6,1117.7 1170.3,1113.8 1171,1120.5 1171.7,1120.8 1172.4,1112 1173.1,1122.6 1173.8,1122.3 1174.5,1127.6 1175.2,1116.2 1175.9,1116.2 1176.6,1125.9 1177.3,1109.5 1178,1120.5 1178.7,1115 1179.4,1116.1 1180.1,1116.6 1180.8,1123.8 1181.5,1128.9 1182.2,1126.4 1182.9,1127.8 1183.6,1120.8 1184.3,1129.4 1185,1125 1185.7,1130.8 1186.4,1109.1 1187.1,1122.9 1187.8,1116.5 1188.5,1122.8 1189.2,1123.1 1189.9,1117.2 1190.6,1123.1 1191.3,1127.7 1192,1127.4 1192.7,1126.4 1193.4,1120.9 1194.1,1122.1 1194.8,1120.9 1195.5,1126.6 1196.2,1136.1 1196.9,1129 1197.6,1127.7 1198.3,1123.6 1199,1130.5 1199.7,1128 1200.4,1121.4 1201.1,1116.4 1201.8,1128.1 1202.5,1122.6 1203.2,1142.7 1203.9,1130.4 1204.6,1126.2 1205.3,1128.6 1206,1137.1 1206.7,1127 1207.4,1133.9 1208.1,1132.5 1208.8,1136.5 1209.5,1132.7 1210.2,1128.9 1210.9,1132.6 1211.6,1130.9 1212.3,1134.7 1213,1130.8 1213.7,1139.6 1214.4,1132 1215.1,1134.8 1215.8,1131.2 1216.5,1135.4 1217.2,1135.1 1217.9,1136.2 1218.6,1142.7 1219.3,1134.1 1220,1133.2 1220.7,1141 1221.4,1135.8 1222.1,1134.4 1222.8,1145.7 1223.5,1140 1224.2,1124.7 1224.9,1135.2 1225.6,1139.4 1226.3,1139.3 1227,1133.9 1227.7,1141.4 1228.4,1132.2 1229.1,1133.4 1229.8,1135.4 1230.5,1134.9 1231.2,1138 1231.9,1139 1232.6,1135.3 1233.3,1141 1234,1133.6 1234.7,1135.7 1235.4,1148.3 1236.1,1137.1 1236.8,1140.7 1237.5,1135.1 1238.2,1135.6 1238.9,1136.1 1239.6,1137.1 1240.3,1135.3 1241,1136.8 1241.7,1139.5 1242.4,1141.9 1243.1,1138.4 1243.8,1140.8 1244.5,1142.1 1245.2,1135.4 1245.9,1133.8 1246.6,1145.4 1247.3,1144.4 1248,1139.9 1248.7,1142.1 1249.4,1136.1 1250.1,1130 1250.8,1141.6 1251.5,1134.1 1252.2,1142.6 1252.9,1137 1253.6,1140.6 1254.3,1146.5 1255,1146.5 1255.7,1138.9 1256.4,1143.6 1257.1,1136.2 1257.8,1137.7 1258.5,1140.9 1259.2,1144.4 1259.9,1137.4 1260.6,1141.2 1261.3,1139.6 1262,1130.7 1262.7,1138.7 1263.4,1149.4 1264.1,1138.9 1264.8,1142.8 1265.5,1142.4 1266.2,1134.8 1266.9,1144.1 1267.6,1145.2 1268.3,1151 1269,1144.8 1269.7,1138.5 1270.4,1136.2 1271.1,1137.1 1271.8,1136.4 1272.5,1136.5 1273.2,1142.6 1273.9,1144.2 1274.6,1137 1275.3,1142.3 1276,1135.6 1276.7,1139.3 1277.4,1134.4 1278.1,1135.8 1278.8,1142.1 1279.5,1142.5 1280.2,1141.1 1280.9,1139.3 1281.6,1139.4 1282.3,1142.3 1283,1140.7 1283.7,1144.4 1284.4,1134.8 1285.1,1143.5 1285.8,1144.6 1286.5,1147.2 1287.2,1146.8 1287.9,1144.1 1288.6,1141.3 1289.3,1137.6 1290,1144 1290.7,1149 1291.4,1149.9 1292.1,1135.7 1292.8,1141.8 1293.5,1143.1 1294.2,1137.5 1294.9,1145.6 1295.6,1144.5 1296.3,1142.7 1297,1144.5 1297.7,1134.4 1298.4,1138.7 1299.1,1142.3 1299.8,1148.6 1300.5,1140.3 1301.2,1145.3 1301.9,1148.7 1302.6,1146 1303.3,1149 1304,1144.1 1304.7,1147.8 1305.4,1149.4 1306.1,1153.8 1306.8,1148.8 1307.5,1151.1 1308.2,1146.2 1308.9,1146.3 1309.6,1151 1310.3,1147.4 1311,1149.9 1311.7,1147.3 1312.4,1151.8 1313.1,1152.6 1313.8,1142 1314.5,1151.1 1315.2,1146.7 1315.9,1147.2 1316.6,1145.3 1317.3,1148.7 1318,1143 1318.7,1144.6 1319.4,1144.7 1320.1,1148.5 1320.8,1150.8 1321.5,1150.5 1322.2,1149.6 1322.9,1146.8 1323.6,1138.6 1324.3,1150.7 1325,1150.6 1325.7,1152.1 1326.4,1159 1327.1,1148.6 1327.8,1148.8 1328.5,1141.5 1329.2,1150.6 1329.9,1148.4 1330.6,1145.9 1331.3,1149.4 1332,1144.7 1332.7,1144.8 1333.4,1154.7 1334.1,1153.3 1334.8,1151.6 1335.5,1151.1 1336.2,1150.9 1336.9,1149.5 1337.6,1156.3 1338.3,1148.6 1339,1153.5 1339.7,1148.1 1340.4,1146.7 1341.1,1141.1 1341.8,1138.9 1342.5,1154.4 1343.2,1154.4 1343.9,1148.4 1344.6,1149.8 1345.3,1151.9 1346,1146.8 1346.7,1155.7 1347.4,1146.8 1348.1,1147.9 1348.8,1141.6 1349.5,1155.6 1350.2,1151.2 1350.9,1156.4 1351.6,1148.2 1352.3,1152.6 1353,1151.8 1353.7,1152 1354.4,1161.2 1355.1,1160.9 1355.8,1155 1356.5,1149 1357.2,1155.6 1357.9,1154.1 1358.6,1151.4 1359.3,1151.4 1360,1151 1360.7,1144 1361.4,1150.3 1362.1,1159.4 1362.8,1143.5 1363.5,1149.8 1364.2,1154.6 1364.9,1145.1 1365.6,1149.1 1366.3,1144.3 1367,1148 1367.7,1141.8 1368.4,1148.1 1369.1,1149.9 1369.8,1150.4 1370.5,1152 1371.2,1145.6 1371.9,1158.4 1372.6,1152.8 1373.3,1150.2 1374,1149.6 1374.7,1154.1 1375.4,1149.6 1376.1,1151 1376.8,1150.5 1377.5,1153.3 1378.2,1147.1 1378.9,1153 1379.6,1153.8 1380.3,1151.5 1381,1159.6 1381.7,1152.6 1382.4,1149.2 1383.1,1154.1 1383.8,1153.8 1384.5,1153.6 1385.2,1155.4 1385.9,1161.3 1386.6,1154.9 1387.3,1156.9 1388,1153.2 1388.7,1157.6 1389.4,1153.1 1390.1,1150.3 1390.8,1148.5 1391.5,1153.4 1392.2,1153.6 1392.9,1146.2 1393.6,1148.7 1394.3,1152.8 1395,1154 1395.7,1147 1396.4,1150.1 1397.1,1156.5 1397.8,1150.5 1398.5,1151.2 1399.2,1149.9 1399.9,1149.5 1400.6,1153.9 1401.3,1154.8 1402,1145.7 1402.7,1153.9 1403.4,1156.7 1404.1,1154.2 1404.8,1155.5 1405.5,1149.1 1406.2,1160 1406.9,1149.7 1407.6,1157.6 1408.3,1150.8 1409,1150.2 1409.7,1147.5 1410.4,1151.7 1411.1,1151.7 1411.8,1151.3 1412.5,1152.5 1413.2,1155.6 1413.9,1156.3 1414.6,1152.8 1415.3,1157.4 1416,1150.9 1416.7,1150.9 1417.4,1150.6 1418.1,1155.8 1418.8,1149.5 1419.5,1150.1 1420.2,1158.1 1420.9,1159.6 1421.6,1158.8 1422.3,1150.9 1423,1155.7 1423.7,1158.4 1424.4,1156.6 1425.1,1151.8 1425.8,1155.7 1426.5,1151.8 1427.2,1153.2 1427.9,1162.9 1428.6,1158.5 1429.3,1152.2 1430,1151.9 1430.7,1158.6 1431.4,1154.1 1432.1,1157.2 1432.8,1153.5 1433.5,1154.5 1434.2,1155.6 1434.9,1151.7 1435.6,1149 1436.3,1151 1437,1152.4 1437.7,1153.9 1438.4,1154.4 1439.1,1154.5 1439.8,1156.4 1440.5,1152.7 1441.2,1163.2 1441.9,1161.6 1442.6,1157.3 1443.3,1157.1 1444,1160.3 1444.7,1158.9 1445.4,1157.8 1446.1,1157 1446.8,1155.6 1447.5,1151.5 1448.2,1161.8 1448.9,1164.9 1449.6,1155.9 1450.3,1159 1451,1160 1451.7,1158.4 1452.4,1157.6 1453.1,1158.6 1453.8,1154.2 1454.5,1159.4 1455.2,1158.5 1455.9,1165.1 1456.6,1161.6 1457.3,1157 1458,1158.8 1458.7,1163.6 1459.4,1163.3 1460.1,1159.5 1460.8,1158.8 1461.5,1155.4 1462.2,1158.6 1462.9,1159.2 1463.6,1157.8 1464.3,1164.8 1465,1155 1465.7,1159.9 1466.4,1161.5 1467.1,1161.6 1467.8,1165.1 1468.5,1156.6 1469.2,1158.4 1469.9,1160.5 1470.6,1160.5 1471.3,1158.9 1472,1157.6 1472.7,1162.3 1473.4,1153.6 1474.1,1155.8 1474.8,1162.4 1475.5,1162.9 1476.2,1162.4 1476.9,1153.1 1477.6,1155.2 1478.3,1154.9 1479,1154.2 1479.7,1156.2 1480.4,1164 1481.1,1158.3 1481.8,1155.9 1482.5,1156.2 1483.2,1155.5 1483.9,1162.3 1484.6,1154 1485.3,1160.5 1486,1156.2 1486.7,1154.8 1487.4,1152.7 1488.1,1163 1488.8,1160.3 1489.5,1167.7 1490.2,1157.8 1490.9,1157.7 1491.6,1162.2 1492.3,1162.2 1493,1160.2 1493.7,1152.9 1494.4,1165.2 1495.1,1163.1 1495.8,1162.9 1496.5,1159 1497.2,1163.9 1497.9,1160.8 1498.6,1162.4 1499.3,1161.7 1500,1165.3 1500.7,1160.7 1501.4,1160.9 1502.1,1164.6 1502.8,1162.4 1503.5,1161.9 1504.2,1161.6 1504.9,1165.1 1505.6,1159.7 1506.3,1164.9 1507,1169.4 1507.7,1165.5 1508.4,1160.7 1509.1,1161.8 1509.8,1165.2 1510.5,1161.4 1511.2,1160.1 1511.9,1161.9 1512.6,1160.6 1513.3,1167.3 1514,1159 1514.7,1166.6 1515.4,1160.4 1516.1,1162.6 1516.8,1164.1 1517.5,1163.3 1518.2,1164.2 1518.9,1159.7 1519.6,1156.4 1520.3,1161 1521,1157.8 1521.7,1160.7 1522.4,1164.8 1523.1,1162 1523.8,1161.2 1524.5,1160.1 1525.2,1162.5 1525.9,1163.1 1526.6,1155.7 1527.3,1164.5 1528,1161 1528.7,1164.3 1529.4,1162.5 1530.1,1166.2 1530.8,1165.8 1531.5,1163.5 1532.2,1163.1 1532.9,1165.1 1533.6,1167.8 1534.3,1167.1 1535,1164.9 1535.7,1165.5 1536.4,1168.8 1537.1,1160.5 1537.8,1166.1 1538.5,1162.4 1539.2,1168.2 1539.9,1163.3 1540.6,1164.2 1541.3,1161.6 1542,1164.3 1542.7,1166.3 1543.4,1172.4 1544.1,1160.8 1544.8,1162.9 1545.5,1172.3 1546.2,1166.4 1546.9,1163.8 1547.6,1165.2 1548.3,1156.8 1549,1167.8 1549.7,1163.9 1550.4,1159.6 1551.1,1166.4 1551.8,1161.7 1552.5,1160.8 1553.2,1166.1 1553.9,1164.6 1554.6,1162.5 1555.3,1163.6 1556,1160.5 1556.7,1160.5 1557.4,1167 1558.1,1168.4 1558.8,1166.6 1559.5,1166.8 1560.2,1165.1 1560.9,1165.7 1561.6,1164 1562.3,1174.6 1563,1164.7 1563.7,1167.1 1564.4,1166 1565.1,1162.3 1565.8,1171 1566.5,1165.1 1567.2,1164.2 1567.9,1166.7 1568.6,1164.3 1569.3,1166.9 1570,1164.4 1570.7,1168.4 1571.4,1167 1572.1,1163.1 1572.8,1169.1 1573.5,1166.5 1574.2,1162.7 1574.9,1166 1575.6,1165.7 1576.3,1169 1577,1161.6 1577.7,1165.9 1578.4,1163.1 1579.1,1165.2 1579.8,1163 1580.5,1163.8 1581.2,1165.6 1581.9,1161.6 1582.6,1159.7 1583.3,1165.6 1584,1165.1 1584.7,1167.1 1585.4,1169.1 1586.1,1167.5 1586.8,1171.7 1587.5,1169 1588.2,1170.1 1588.9,1171.9 1589.6,1171.4 1590.3,1169.7 1591,1170.6 1591.7,1166 1592.4,1168 1593.1,1169.5 1593.8,1171 1594.5,1166.4 1595.2,1170.4 1595.9,1173 1596.6,1173.3 1597.3,1167.6 1598,1173 1598.7,1169.2 1599.4,1169.6 1600.1,1171.9 1600.8,1170.3 1601.5,1169.6 1602.2,1167.8 1602.9,1166.4 1603.6,1167.6 1604.3,1168.1 1605,1170 1605.7,1168.8 1606.4,1168.9 1607.1,1170.9 1607.8,1162.9 1608.5,1166.6 1609.2,1169.5 1609.9,1168.6 1610.6,1166.2 1611.3,1174.3 1612,1169.2 1612.7,1164.6 1613.4,1174.5 1614.1,1163.1 1614.8,1169.2 1615.5,1167.3 1616.2,1169.1 1616.9,1171.5 1617.6,1166.1 1618.3,1167.8 1619,1167.4 1619.7,1162.9 1620.4,1170.8 1621.1,1168.3 1621.8,1167.1 1622.5,1166.2 1623.2,1167.1 1623.9,1168.3 1624.6,1166.7 1625.3,1171.1 1626,1161.1 1626.7,1159.3 1627.4,1166.9 1628.1,1162.7 1628.8,1167.3 1629.5,1164.3 1630.2,1170.5 1630.9,1168.6 1631.6,1174.2 1632.3,1169.8 1633,1170.6 1633.7,1168.6 1634.4,1169.8 1635.1,1168.2 1635.8,1163.9 1636.5,1163.5 1637.2,1163.6 1637.9,1168.1 1638.6,1160.7 1639.3,1167.5 1640,1165.3 1640.7,1169.3 1641.4,1168 1642.1,1165.6 1642.8,1167.7 1643.5,1161.7 1644.2,1168.4 1644.9,1168.9 1645.6,1162.9 1646.3,1172.1 1647,1167.2 1647.7,1168.1 1648.4,1163.9 1649.1,1169.1 1649.8,1169 1650.5,1167.4 1651.2,1164.8 1651.9,1171.2 1652.6,1173.6 1653.3,1168.2 1654,1169.8 1654.7,1164.4 1655.4,1167.7 1656.1,1169.5 1656.8,1167.9 1657.5,1175.1 1658.2,1169 1658.9,1166.6 1659.6,1172.6 1660.3,1165.6 1661,1169.7 1661.7,1171 1662.4,1167.9 1663.1,1168.6 1663.8,1167.1 1664.5,1170.4 1665.2,1167.8 1665.9,1173.9 1666.6,1170.9 1667.3,1168.3 1668,1164.9 1668.7,1173.6 1669.4,1171.4 1670.1,1169 1670.8,1168.1 1671.5,1167.9 1672.2,1166.2 1672.9,1172.4 1673.6,1168.1 1674.3,1164 1675,1166.2 1675.7,1159.5 1676.4,1169.9 1677.1,1170.3 1677.8,1172.9 1678.5,1173.8 1679.2,1166.2 1679.9,1169.3 1680.6,1170.6 1681.3,1172.2 1682,1166.5 1682.7,1170 1683.4,1169.2 1684.1,1171.6 1684.8,1168.2 1685.5,1167.2 1686.2,1165.9 1686.9,1167.2 1687.6,1166.2 1688.3,1167.1 1689,1169.2 1689.7,1168.9 1690.4,1170.9 1691.1,1170.2 1691.8,1168.8 1692.5,1164.1 1693.2,1168.5 1693.9,1170.1 1694.6,1163.6 1695.3,1164.1 1696,1164.5 1696.7,1164.3 1697.4,1166.1 1698.1,1164.2 1698.8,1167.5 1699.5,1160.2 1700.2,1165.7 1700.9,1163.4 1701.6,1163.1 1702.3,1168.3 1703,1165.8 1703.7,1167.3 1704.4,1165.3 1705.1,1170.2 1705.8,1168.5 1706.5,1166.6 1707.2,1159.1 1707.9,1169.9 1708.6,1169.6 1709.3,1168.2 1710,1168.3 1710.7,1167.8 1711.4,1167.8 1712.1,1164.6 1712.8,1167 1713.5,1168 1714.2,1164.3 1714.9,1164.8 1715.6,1172.3 1716.3,1169.1 1717,1166.7 1717.7,1166.1 1718.4,1160.5 1719.1,1163.6 1719.8,1166.6 1720.5,1170.6 1721.2,1162 1721.9,1165.6 1722.6,1172.7 1723.3,1169.6 1724,1169.2 1724.7,1171.4 1725.4,1168.1 1726.1,1167.9 1726.8,1170.2 1727.5,1172.7 1728.2,1162.8 1728.9,1175.8 1729.6,1163.3 1730.3,1166 1731,1175.9 1731.7,1166.6 1732.4,1171.4 1733.1,1165.4 1733.8,1167.1 1734.5,1165.9 1735.2,1166.6 1735.9,1170.9 1736.6,1171.8 1737.3,1169.3 1738,1171 1738.7,1165.5 1739.4,1170.7 1740.1,1168.3 1740.8,1170.4 1741.5,1165.8 1742.2,1166.3 1742.9,1170.5 1743.6,1170.1 1744.3,1167.1 1745,1165 1745.7,1166.3 1746.4,1167.7 1747.1,1170 1747.8,1164.5 1748.5,1164.1 1749.2,1166.8 1749.9,1162.8 1750.6,1168.2 1751.3,1166 1752,1166 1752.7,1160.5 1753.4,1163 1754.1,1164.7 1754.8,1166.1 1755.5,1164.9 1756.2,1168.8 1756.9,1168.1 1757.6,1166.3 1758.3,1162.3 1759,1171.2 1759.7,1166.7 1760.4,1168.8 1761.1,1165.4 1761.8,1167 1762.5,1168.8 1763.2,1167.5 1763.9,1169.4 1764.6,1166.4 1765.3,1172.1 1766,1162.1 1766.7,1165.8 1767.4,1172.4 1768.1,1166.4 1768.8,1166.7 1769.5,1163.5 1770.2,1171.4 1770.9,1163.5 1771.6,1170 1772.3,1169.4 1773,1173.5 1773.7,1176.7 1774.4,1167.7 1775.1,1167.6 1775.8,1169 1776.5,1165.4 1777.2,1172 1777.9,1168.8 1778.6,1170.2 1779.3,1166.8 1780,1169.7 1780.7,1168 1781.4,1169.5 1782.1,1166.8 1782.8,1172.3 1783.5,1167.9 1784.2,1162.9 1784.9,1171.3 1785.6,1168.9 1786.3,1167.4 1787,1178.2 1787.7,1169.7 1788.4,1166.4 1789.1,1168.3 1789.8,1170.8 1790.5,1169.1 1791.2,1172.7 1791.9,1172 1792.6,1166.9 1793.3,1168.9 1794,1170.4 1794.7,1167.7 1795.4,1167.7 1796.1,1171.4 1796.8,1170.6 1797.5,1165.9 1798.2,1168.3 1798.9,1168.7 1799.6,1169.5 1800.3,1167.8 1801,1176.2 1801.7,1164.3 1802.4,1166.3 1803.1,1170.1 1803.8,1163.2 1804.5,1166.5 1805.2,1172.4 1805.9,1166 1806.6,1167.3 1807.3,1175 1808,1171.9 1808.7,1169.8 1809.4,1170.3 1810.1,1167.9 1810.8,1170.4 1811.5,1169 1812.2,1176 1812.9,1170.6 1813.6,1167.2 1814.3,1168.6 1815,1168.7 1815.7,1164.8 1816.4,1164.1 1817.1,1176.1 1817.8,1164.9 1818.5,1167.4 1819.2,1172 1819.9,1173.6 1820.6,1164.8 1821.3,1174.2 1822,1169.7 1822.7,1179.2 1823.4,1172.3 1824.1,1170.4 1824.8,1173.1 1825.5,1172.7 1826.2,1169.3 1826.9,1177 1827.6,1169.6 1828.3,1174.4 1829,1170 1829.7,1166.4 1830.4,1168.2 1831.1,1170.7 1831.8,1174.3 1832.5,1175.5 1833.2,1171.1 1833.9,1170.3 1834.6,1168 1835.3,1171.4 1836,1172.5 1836.7,1166.1 1837.4,1175.4 1838.1,1174.8 1838.8,1177.7 1839.5,1169 1840.2,1171.3 1840.9,1170.9 1841.6,1167.2 1842.3,1166.1 1843,1167.6 1843.7,1171.4 1844.4,1171 1845.1,1173.2 1845.8,1167.4 1846.5,1165.7 1847.2,1170.4 1847.9,1170.3 1848.6,1172.7 1849.3,1172.8 1850,1166.7 1850.7,1173.9 1851.4,1167.4 1852.1,1170.6 1852.8,1172.1 1853.5,1170.1 1854.2,1171.1 1854.9,1167 1855.6,1169.1 1856.3,1171.4 1857,1168.1 1857.7,1169.2 1858.4,1178 1859.1,1172.4 1859.8,1167.5 1860.5,1169.1 1861.2,1178.7 1861.9,1164.3 1862.6,1170.5 1863.3,1172.8 1864,1169.4 1864.7,1172 1865.4,1167.7 1866.1,1170.2 1866.8,1170.1 1867.5,1169.7 1868.2,1170.1 1868.9,1169.7 1869.6,1172.4 1870.3,1168.7 1871,1167.8 1871.7,1168.6 1872.4,1168.6 1873.1,1165.5 1873.8,1164.5 1874.5,1166.1 1875.2,1170.5 1875.9,1168.1 1876.6,1168.9 1877.3,1177.7 1878,1173.2 1878.7,1169.9 1879.4,1169 1880.1,1174.5 1880.8,1169 1881.5,1174.4 1882.2,1172.8 1882.9,1174.8 1883.6,1169.2 1884.3,1173.3 1885,1165.8 1885.7,1169.8 1886.4,1175 1887.1,1171.2 1887.8,1161 1888.5,1170.5 1889.2,1169.7 1889.9,1168.3 1890.6,1164.6 1891.3,1168.1 1892,1167.6 1892.7,1171.9 1893.4,1171 1894.1,1172.8 1894.8,1173.2 1895.5,1166.7 1896.2,1170.3 1896.9,1175.5 1897.6,1166.8 1898.3,1170.2 1899,1167.3 1899.7,1166.9 1900.4,1169.9 1901.1,1171.5 1901.8,1171.2 1902.5,1171.3 1903.2,1172 1903.9,1165.4 1904.6,1172.1 1905.3,1171.2 1906,1169.8 1906.7,1170.4 1907.4,1168.1 1908.1,1173.2 1908.8,1165.7 1909.5,1165.7 1910.2,1168.8 1910.9,1167.3 1911.6,1168.3 1912.3,1175.7 1913,1167.9 1913.7,1168.6 1914.4,1177.2 1915.1,1165.1 1915.8,1170.2 1916.5,1172.7 1917.2,1174.1 1917.9,1176.4 1918.6,1169 1919.3,1173.7 1920,1170.6 1920.7,1169.3 1921.4,1168.2 1922.1,1165.7 1922.8,1169.8 1923.5,1170.4 1924.2,1165.1 1924.9,1169.5 1925.6,1165.7 1926.3,1164.3 1927,1160 1927.7,1169.8 1928.4,1168.9 1929.1,1166.2 1929.8,1166 1930.5,1163.5 1931.2,1169.2 1931.9,1166.5 1932.6,1167.9 1933.3,1166.7 1934,1158.6 1934.7,1158 1935.4,1167 1936.1,1161.5 1936.8,1166.7 1937.5,1170.5 1938.2,1159.5 1938.9,1168.3 1939.6,1166.8 1940.3,1168.3 1941,1165.5 1941.7,1167.3 1942.4,1168.7 1943.1,1172.6 1943.8,1169.9 1944.5,1169.4 1945.2,1164.7 1945.9,1169 1946.6,1166.3 1947.3,1167.8 1948,1168.6 1948.7,1170.4 1949.4,1169.3 1950.1,1168.2 1950.8,1167.6 1951.5,1171.4 1952.2,1163.3 1952.9,1168.2 1953.6,1171.8 1954.3,1167.6 1955,1170.3 1955.7,1172.5 1956.4,1173.2 1957.1,1170.8 1957.8,1163.3 1958.5,1167.5 1959.2,1168.1 1959.9,1169.4 1960.6,1168 1961.3,1175.3 1962,1169.7 1962.7,1163.6 1963.4,1165 1964.1,1161.3 1964.8,1175.4 1965.5,1166.6 1966.2,1166.7 1966.9,1162.9 1967.6,1165.8 1968.3,1168 1969,1165.5 1969.7,1165.3 1970.4,1164.4 1971.1,1171 1971.8,1164 1972.5,1157.3 1973.2,1161.8 1973.9,1163.5 1974.6,1163.9 1975.3,1162.2 1976,1160.6 1976.7,1162.9 1977.4,1164.8 1978.1,1159.4 1978.8,1168.4 1979.5,1167.6 1980.2,1155.3 1980.9,1160.7 1981.6,1167.8 1982.3,1166.7 1983,1167.9 1983.7,1158.1 1984.4,1160 1985.1,1161.5 1985.8,1164.2 1986.5,1159.6 1987.2,1164.1 1987.9,1163.3 1988.6,1163.9 1989.3,1158.4 1990,1162.4 1990.7,1162.1 1991.4,1160.8 1992.1,1165.4 1992.8,1161.2 1993.5,1165.9 1994.2,1160.5 1994.9,1166.8 1995.6,1170.6 1996.3,1158 1997,1163.8 1997.7,1163.9 1998.4,1160.7 1999.1,1165.6 1999.8,1165.2 2000.5,1158.9 2001.2,1164 2001.9,1166 2002.6,1163 2003.3,1161.2 2004,1167.1 2004.7,1159.7 2005.4,1162.9 2006.1,1164.7 2006.8,1163.5 2007.5,1156.3 2008.2,1160.3 2008.9,1160.8 2009.6,1160.7 2010.3,1163.1 2011,1163 2011.7,1162.2 2012.4,1162.7 2013.1,1167.2 2013.8,1165.5 2014.5,1157 2015.2,1167.8 2015.9,1160.3 2016.6,1163.6 2017.3,1156.9 2018,1159.7 2018.7,1157.5 2019.4,1163.6 2020.1,1162.9 2020.8,1160.3 2021.5,1159.3 2022.2,1161.2 2022.9,1157.5 2023.6,1156.8 2024.3,1158 2025,1162.3 2025.7,1160.2 2026.4,1153.5 2027.1,1162 2027.8,1161.6 2028.5,1163.9 2029.2,1157.2 2029.9,1161.1 2030.6,1165.5 2031.3,1159 2032,1158.8 2032.7,1161.1 2033.4,1157.1 2034.1,1159.8 2034.8,1158.4 2035.5,1157.6 2036.2,1164.2 2036.9,1157.7 2037.6,1157 2038.3,1159 2039,1159.4 2039.7,1160.7 2040.4,1164.7 2041.1,1164.7 2041.8,1156.7 2042.5,1159.3 2043.2,1151.7 2043.9,1160.5 2044.6,1161.2 2045.3,1158 2046,1157.2 2046.7,1157 2047.4,1155.6 2048.1,1161.3 2048.8,1164.9 2049.5,1156.9 2050.2,1164.5 2050.9,1159.7 2051.6,1156.9 2052.3,1162.3 2053,1162.9 2053.7,1161.9 2054.4,1160 2055.1,1165 2055.8,1159.5 2056.5,1161.7 2057.2,1163 2057.9,1157.2 2058.6,1154.4 2059.3,1154.7 2060,1158.3 2060.7,1160.4 2061.4,1151.4 2062.1,1157.8 2062.8,1164 2063.5,1155.2 2064.2,1161.3 2064.9,1161 2065.6,1162.1 2066.3,1156 2067,1160.7 2067.7,1152.3 2068.4,1163.2 2069.1,1157.2 2069.8,1160.5 2070.5,1157.3 2071.2,1159.8 2071.9,1155.3 2072.6,1160.2 2073.3,1162.3 2074,1159.4 2074.7,1163.8 2075.4,1160.5 2076.1,1163.3 2076.8,1161.9 2077.5,1168.2 2078.2,1157.9 2078.9,1158.1 2079.6,1159.3 2080.3,1161.7 2081,1160.8 2081.7,1162.4 2082.4,1160.9 2083.1,1158.7 2083.8,1159.9 2084.5,1162 2085.2,1153.7 2085.9,1166.8 2086.6,1158.2 2087.3,1158.8 2088,1160.4 2088.7,1159 2089.4,1151.9 2090.1,1159 2090.8,1163.3 2091.5,1162.4 2092.2,1163 2092.9,1156.7 2093.6,1159.2 2094.3,1162.7 2095,1163.8 2095.7,1159.9 2096.4,1154.6 2097.1,1154.5 2097.8,1163.4 2098.5,1155.3 2099.2,1160.3 2099.9,1161.4 2100.6,1167.3 2101.3,1159.6 2102,1158.2 2102.7,1159.7 2103.4,1159.8 2104.1,1162 2104.8,1160.2 2105.5,1156.3 2106.2,1150 2106.9,1159.2 2107.6,1156.6 2108.3,1162.3 2109,1155 2109.7,1159.2 2110.4,1156.8 2111.1,1156.5 2111.8,1163.5 2112.5,1159.5 2113.2,1158.5 2113.9,1161 2114.6,1156.7 2115.3,1157.8 2116,1157.1 2116.7,1167.2 2117.4,1159.8 2118.1,1160.7 2118.8,1162.1 2119.5,1158.6 2120.2,1158.6 2120.9,1154.4 2121.6,1160 2122.3,1159.8 2123,1157.1 2123.7,1164.3 2124.4,1149.5 2125.1,1160 2125.8,1154 2126.5,1154.7 2127.2,1157.4 2127.9,1161.8 2128.6,1155.1 2129.3,1155.8 2130,1155.3 2130.7,1164.3 2131.4,1160.4 2132.1,1160.2 2132.8,1165 2133.5,1160.2 2134.2,1154 2134.9,1158.6 2135.6,1156.8 2136.3,1165.8 2137,1156.4 2137.7,1161.1 2138.4,1158.8 2139.1,1158.9 2139.8,1160 2140.5,1159.4 2141.2,1157.7 2141.9,1156.1 2142.6,1157.6 2143.3,1156.5 2144,1156.9 2144.7,1159.7 2145.4,1159.1 2146.1,1161 2146.8,1159.1 2147.5,1168.3 2148.2,1156.1 2148.9,1157.3 2149.6,1162.9 2150.3,1158.1 2151,1160.3 2151.7,1162.5 2152.4,1159.2 2153.1,1158.7 2153.8,1162.4 2154.5,1160.7 2155.2,1158.4 2155.9,1156.7 2156.6,1159.1 2157.3,1155.8 2158,1158.3 2158.7,1157.9 2159.4,1162 2160.1,1163.5 2160.8,1158.1 2161.5,1160.5 2162.2,1155.8 2162.9,1157.8 2163.6,1159.1 2164.3,1162.7 2165,1162.2 2165.7,1162.3 2166.4,1159.6 2167.1,1152.6 2167.8,1162.6 2168.5,1163.6 2169.2,1162.4 2169.9,1162.4 2170.6,1163.1 2171.3,1167.6 2172,1161.2 2172.7,1168.7 2173.4,1162.8 2174.1,1162.6 2174.8,1160.4 2175.5,1159.9 2176.2,1157.8 2176.9,1162.5 2177.6,1160.1 2178.3,1157.8 2179,1159.2 2179.7,1158.3 2180.4,1166.2 2181.1,1161.5 2181.8,1162.8 2182.5,1159.5 2183.2,1160.3 2183.9,1166.2 2184.6,1162.8 2185.3,1164.2 2186,1168.7 2186.7,1172.1 2187.4,1165.6 2188.1,1166.4 2188.8,1164.4 2189.5,1162.3 2190.2,1169.3 2190.9,1160.3 2191.6,1163.3 2192.3,1158.1 2193,1159.8 2193.7,1164.3 2194.4,1164.3 2195.1,1163.8 2195.8,1161.8 2196.5,1160.6 2197.2,1160.9 2197.9,1161.3 2198.6,1165.3 2199.3,1170.2 2200,1163.7 2200.7,1161.2 2201.4,1160.3 2202.1,1163.9 2202.8,1162.6 2203.5,1158.3 2204.2,1167.1 2204.9,1163.4 2205.6,1161.7 2206.3,1160.9 2207,1160.9 2207.7,1165.7 2208.4,1160.6 2209.1,1163.4 2209.8,1165 2210.5,1168.4 2211.2,1165.2 2211.9,1163.6 2212.6,1162.8 2213.3,1166.6 2214,1167.2 2214.7,1162.3 2215.4,1167.7 2216.1,1163.7 2216.8,1155.8 2217.5,1161.2 2218.2,1165.9 2218.9,1167.3 2219.6,1166.7 2220.3,1162.3 2221,1160.8 2221.7,1164.3 2222.4,1163.8 2223.1,1158.6 2223.8,1165.2 2224.5,1161.8 2225.2,1166 2225.9,1166.1 2226.6,1168.9 2227.3,1168.4 2228,1167.8 2228.7,1163.3 2229.4,1161.1 2230.1,1172.4 2230.8,1168.4 2231.5,1163 2232.2,1162 2232.9,1170.1 2233.6,1173.8 2234.3,1169.9 2235,1166.2 2235.7,1168 2236.4,1159.5 2237.1,1164 2237.8,1171.9 2238.5,1170.9 2239.2,1160.3 2239.9,1169.4 2240.6,1167.6 2241.3,1168.7 2242,1165.6 2242.7,1166.1 2243.4,1163.1 2244.1,1166.9 2244.8,1168.3 2245.5,1160.7 2246.2,1166.5 2246.9,1163.9 2247.6,1168.1 2248.3,1167.8 2249,1158.5 2249.7,1167.4 2250.4,1167.7 2251.1,1163.4 2251.8,1164.5 2252.5,1164.8 2253.2,1162.3 2253.9,1165.1 2254.6,1174.4 2255.3,1168.9 2256,1170.8 2256.7,1169.5 2257.4,1170.2 2258.1,1167.2 2258.8,1170.9 2259.5,1172.2 2260.2,1170.5 2260.9,1167.2 2261.6,1164.3 2262.3,1163.6 2263,1166.9 2263.7,1168.7 2264.4,1161.4 2265.1,1167.3 2265.8,1167.9 2266.5,1168 2267.2,1165.8 2267.9,1173.9 2268.6,1170.2 2269.3,1164.1 2270,1166.1 2270.7,1172.5 2271.4,1169.7 2272.1,1168.7 2272.8,1168.4 2273.5,1167.4 2274.2,1167.4 2274.9,1165.9 2275.6,1171.9 2276.3,1161.2 2277,1164.9 2277.7,1172.2 2278.4,1164.4 2279.1,1165.1 2279.8,1173.4 2280.5,1170.9 2281.2,1166.9 2281.9,1166.1 2282.6,1167 2283.3,1166.6 2284,1166.9 2284.7,1165.5 2285.4,1169 2286.1,1164.3 2286.8,1162.4 2287.5,1163.8 2288.2,1167.4 2288.9,1164.5 2289.6,1160.5 2290.3,1171.5 2291,1168.7 2291.7,1165.9 2292.4,1165.6 2293.1,1168.4 2293.8,1174 2294.5,1165.1 2295.2,1167.9 2295.9,1163.4 2296.6,1168 2297.3,1161.1 2298,1162.6 2298.7,1168.2 2299.4,1167.8 2300.1,1170.7 2300.8,1167.2 2301.5,1173.1 2302.2,1169.8 2302.9,1173.9 2303.6,1167.7 2304.3,1173.9 2305,1169.6 2305.7,1170.2 2306.4,1172.6 2307.1,1165.1 2307.8,1164.1 2308.5,1175.1 2309.2,1161.9 2309.9,1168.8 2310.6,1171.7 2311.3,1177.9 2312,1169 2312.7,1170.8 2313.4,1167.5 2314.1,1169.7 2314.8,1173.6 2315.5,1172.4 2316.2,1170.5 2316.9,1172 2317.6,1171.1 2318.3,1171.4 2319,1168.4 2319.7,1167.6 2320.4,1172 2321.1,1166.9 2321.8,1172.9 2322.5,1175.9 2323.2,1174.2"/>
<polyline stroke="#ff0000" marker-start="url(#p2)" marker-mid="url(#p2)" marker-end="url(#p2)" points="169.3,452.5 170,447.7 170.7,447.6 171.4,435.1 172.1,459.1 172.8,454.8 173.5,445.9 174.2,456.4 174.9,449.3 175.6,444.6 176.3,459.2 177,446.4 177.7,446.5 178.4,439.4 179.1,451 179.8,447.4 180.5,450.9 181.2,444.5 181.9,450 182.6,445.6 183.3,458.3 184,457.3 184.7,461.5 185.4,465.7 186.1,455.4 186.8,476 187.5,488 188.2,470.5 188.9,475.2 189.6,481.8 190.3,501.2 191,501.2 191.7,510.7 192.4,511.1 193.1,509.4 193.8,510.8 194.5,507.8 195.2,515.9 195.9,504.2 196.6,509.4 197.3,514.2 198,533.2 198.7,509.2 199.4,507.8 200.1,508.3 200.8,521.7 201.5,514.6 202.2,524.9 202.9,505.1 203.6,531.3 204.3,524.5 205,509.5 205.7,521.2 206.4,527.9 207.1,521.7 207.8,528.5 208.5,538.4 209.2,527.5 209.9,523.1 210.6,516.1 211.3,530.6 212,525.8 212.7,526.5 213.4,527.7 214.1,533.3 214.8,523 215.5,520.8 216.2,515.8 216.9,540.6 217.6,534.1 218.3,544.5 219,535.4 219.7,531.7 220.4,540.9 221.1,538.4 221.8,531.8 222.5,529.8 223.2,553.9 223.9,545 224.6,545.7 225.3,541.1 226,538.2 226.7,548.6 227.4,541.8 228.1,537.4 228.8,541.9 229.5,537.3 230.2,545.7 230.9,560.5 231.6,541.3 232.3,558.2 233,545.4 233.7,552.4 234.4,546.8 235.1,552 235.8,554.6 236.5,551.9 237.2,550.6 237.9,551.2 238.6,550.6 239.3,535.4 240,554.9 240.7,559.7 241.4,569.3 242.1,561.7 242.8,574.3 243.5,561.7 244.2,554.3 244.9,570.4 245.6,550.2 246.3,564.1 247,550.6 247.7,559.6 248.4,543.5 249.1,563.4 249.8,556.2 250.5,550.9 251.2,569.6 251.9,564 252.6,560.3 253.3,551 254,562.1 254.7,562.9 255.4,570.8 256.1,573 256.8,564.4 257.5,566.4 258.2,567.5 258.9,562.5 259.6,568 260.3,571.6 261,577.1 261.7,581.6 262.4,567.2 263.1,576.9 263.8,570.6 264.5,588.5 265.2,574.5 265.9,579.4 266.6,570.4 267.3,572.3 268,580.2 268.7,577.4 269.4,583.6 270.1,571.8 270.8,588.3 271.5,578.8 272.2,597.6 272.9,584.7 273.6,594.7 274.3,578 275,590.6 275.7,581.6 276.4,584.2 277.1,587.6 277.8,584.7 278.5,589.9 279.2,590.9 279.9,593.8 280.6,584 281.3,574.7 282,578 282.7,581.8 283.4,568.6 284.1,588.2 284.8,582 285.5,582.7 286.2,591.8 286.9,591.1 287.6,589.3 288.3,582.3 289,592.2 289.7,593.3 290.4,585.6 291.1,605.6 291.8,598.7 292.5,578.8 293.2,593.6 293.9,583.4 294.6,599.5 295.3,602.4 296,584.6 296.7,580.7 297.4,593.7 298.1,591 298.8,603.1 299.5,598.2 300.2,591.7 300.9,597.9 301.6,581 302.3,599.3 303,601.8 303.7,595.5 304.4,592.5 305.1,601.4 305.8,610.9 306.5,599.2 307.2,583.2 307.9,607.2 308.6,584.8 309.3,600.5 310,589.7 310.7,603.5 311.4,591.9 312.1,606.8 312.8,600.4 313.5,587.2 314.2,585.9 314.9,595.1 315.6,616 316.3,600.1 317,599.5 317.7,597.3 318.4,603.5 319.1,603.3 319.8,601.9 320.5,591.9 321.2,606.5 321.9,608 322.6,590.9 323.3,615.2 324,605.2 324.7,597.5 325.4,588.2 326.1,605.1 326.8,604.1 327.5,596.1 328.2,587.6 328.9,606.1 329.6,590.3 330.3,593.8 331,614.8 331.7,609.1 332.4,606.4 333.1,587.4 333.8,596.8 334.5,576.7 335.2,592.7 335.9,581.1 336.6,582.1 337.3,580.1 338,594.3 338.7,591.7 339.4,593.7 340.1,598 340.8,587.6 341.5,586.1 342.2,583.6 342.9,594.4 343.6,602.9 344.3,597.8 345,604.1 345.7,592.6 346.4,598 347.1,596.4 347.8,593.2 348.5,614.3 349.2,612.7 349.9,595.8 350.6,595.2 351.3,599.2 352,588.8 352.7,600.6 353.4,587.6 354.1,592.8 354.8,580.6 355.5,590.1 356.2,575 356.9,581.6 357.6,579.5 358.3,587.9 359,590.9 359.7,593.7 360.4,604 361.1,599.2 361.8,591.8 362.5,598.4 363.2,588.3 363.9,612.3 364.6,596.2 365.3,582.4 366,596.7 366.7,596.7 367.4,571.5 368.1,584.4 368.8,585.4 369.5,574.2 370.2,579.2 370.9,578.9 371.6,588.1 372.3,585.8 373,601.4 373.7,576.8 374.4,589.7 375.1,581.8 375.8,581.7 376.5,570.5 377.2,563.9 377.9,570.4 378.6,579.2 379.3,582.9 380,577.9 380.7,571.1 381.4,555 382.1,570.8 382.8,571.8 383.5,548.3 384.2,543.7 384.9,530.8 385.6,531.4 386.3,516.3 387,503.6 387.7,494.3 388.4,484.7 389.1,474.9 389.8,468.1 390.5,465.8 391.2,465.9 391.9,474.1 392.6,485 393.3,484.9 394,500.1 394.7,512.2 395.4,518.1 396.1,533.2 396.8,536.3 397.5,561.6 398.2,552.6 398.9,561.6 399.6,569 400.3,564.6 401,557.1 401.7,566.7 402.4,576.4 403.1,570.7 403.8,573.1 404.5,556.2 405.2,572.5 405.9,576.7 406.6,571.5 407.3,594.6 408,568.2 408.7,563.6 409.4,548.2 410.1,580.6 410.8,571.9 411.5,587.5 412.2,579.8 412.9,585.7 413.6,583.2 414.3,571 415,576 415.7,582.1 416.4,564.4 417.1,584.4 417.8,582 418.5,579.5 419.2,568.1 419.9,572.1 420.6,559.9 421.3,567.8 422,561 422.7,564.7 423.4,558.9 424.1,563.6 424.8,577.8 425.5,549.3 426.2,565.6 426.9,533.6 427.6,540.7 428.3,555.9 429,556.4 429.7,559.3 430.4,542.6 431.1,553.7 431.8,554.7 432.5,571.4 433.2,550.6 433.9,554.2 434.6,541.2 435.3,544.7 436,543.1 436.7,551.3 437.4,537.6 438.1,538.5 438.8,553.5 439.5,558.5 440.2,547.1 440.9,548.3 441.6,540.4 442.3,551 443,546 443.7,554.8 444.4,543.3 445.1,532.9 445.8,535.6 446.5,532 447.2,520.3 447.9,548.8 448.6,550.2 449.3,526.9 450,549.5 450.7,535.9 451.4,525.1 452.1,534.8 452.8,530.6 453.5,524.7 454.2,515.5 454.9,531.7 455.6,534.1 456.3,506.9 457,536.7 457.7,541.7 458.4,524.4 459.1,531.8 459.8,527.8 460.5,522.4 461.2,525.3 461.9,548.5 462.6,515 463.3,528.2 464,527.5 464.7,520.1 465.4,522.1 466.1,514.2 466.8,518.5 467.5,525.3 468.2,530.1 468.9,517.4 469.6,549.2 470.3,519.4 471,524.8 471.7,521.5 472.4,519.8 473.1,543.4 473.8,514.8 474.5,533 475.2,531 475.9,512.5 476.6,528.9 477.3,514.2 478,541 478.7,511.1 479.4,508.1 480.1,498.6 480.8,492.2 481.5,506.7 482.2,502.1 482.9,499.2 483.6,502.9 484.3,506.4 485,519.8 485.7,493.2 486.4,502.4 487.1,498.7 487.8,493.5 488.5,495 489.2,497.5 489.9,516.2 490.6,502.6 491.3,499.4 492,508.9 492.7,506.1 493.4,500.2 494.1,510.3 494.8,497.2 495.5,509.7 496.2,508.6 496.9,497.9 497.6,494.2 498.3,517.1 499,504.6 499.7,529.2 500.4,497.3 501.1,509.7 501.8,498.5 502.5,504.1 503.2,509 503.9,494.9 504.6,500.7 505.3,502.5 506,501.5 506.7,505 507.4,507.9 508.1,505.6 508.8,502.4 509.5,494.8 510.2,488.1 510.9,491.8 511.6,493.9 512.3,504.7 513,493 513.7,488.6 514.4,504.9 515.1,486.1 515.8,493.2 516.5,496.3 517.2,508.5 517.9,480.2 518.6,492 519.3,503.9 520,499.7 520.7,488.6 521.4,494.1 522.1,514.9 522.8,498.5 523.5,508.1 524.2,508.2 524.9,496.9 525.6,504.4 526.3,496.8 527,490.8 527.7,492.1 528.4,510.2 529.1,497.1 529.8,500 530.5,496 531.2,521.8 531.9,513.1 532.6,505.8 533.3,501.1 534,493.9 534.7,509.3 535.4,509.1 536.1,494.5 536.8,516.2 537.5,512.7 538.2,490.2 538.9,501.2 539.6,502.3 540.3,507.4 541,505 541.7,492.7 542.4,519.5 543.1,510.4 543.8,519.3 544.5,530.3 545.2,509.6 545.9,515.9 546.6,520.9 547.3,522.7 548,516.3 548.7,513.5 549.4,519.5 550.1,512.7 550.8,514.4 551.5,501.6 552.2,518.6 552.9,508.7 553.6,512.1 554.3,515.5 555,518.8 555.7,532 556.4,518.2 557.1,505.2 557.8,518.5 558.5,513 559.2,521.7 559.9,513.2 560.6,513.3 561.3,515.2 562,514.3 562.7,504.5 563.4,514 564.1,519.5 564.8,529.7 565.5,515.8 566.2,515.5 566.9,527.3 567.6,532.5 568.3,538.6 569,531.9 569.7,528.5 570.4,540.8 571.1,543.5 571.8,528.2 572.5,535.3 573.2,519.9 573.9,528.4 574.6,527.5 575.3,533.5 576,531.8 576.7,534.7 577.4,535.4 578.1,544 578.8,538.1 579.5,531.7 580.2,525.7 580.9,545.7 581.6,547.1 582.3,532.2 583,540.6 583.7,513.1 584.4,525 585.1,536.3 585.8,551.2 586.5,532.5 587.2,535.4 587.9,555.8 588.6,519 589.3,549.8 590,549.2 590.7,542.8 591.4,548 592.1,567.8 592.8,539.3 593.5,547 594.2,549.1 594.9,547.5 595.6,534.6 596.3,569.6 597,561.2 597.7,547.9 598.4,558.1 599.1,568.4 599.8,572.7 600.5,556.6 601.2,567.2 601.9,573.3 602.6,573.1 603.3,573.9 604,557.7 604.7,587.1 605.4,575.7 606.1,589.3 606.8,598.9 607.5,577.1 608.2,570.3 608.9,594 609.6,581.2 610.3,580.4 611,577.3 611.7,599.3 612.4,584.3 613.1,578.2 613.8,586.7 614.5,574.3 615.2,594.9 615.9,590.8 616.6,587.4 617.3,601.5 618,593.7 618.7,605.7 619.4,611.5 620.1,600.9 620.8,600.2 621.5,607.8 622.2,614 622.9,608 623.6,610.6 624.3,608.7 625,613.9 625.7,614.6 626.4,605.5 627.1,605 627.8,613.8 628.5,610.3 629.2,618.5 629.9,623.9 630.6,622.3 631.3,620.7 632,616.6 632.7,643.2 633.4,639 634.1,626.2 634.8,630 635.5,660.8 636.2,660.1 636.9,640.4 637.6,648.6 638.3,619.6 639,641.2 639.7,646.9 640.4,618.8 641.1,631.1 641.8,648.1 642.5,651 643.2,639 643.9,646.1 644.6,656.6 645.3,640.9 646,638.1 646.7,648.9 647.4,648.1 648.1,662 648.8,656.3 649.5,649.7 650.2,673.8 650.9,654 651.6,661.8 652.3,668.7 653,666 653.7,662.8 654.4,667.3 655.1,664 655.8,656.9 656.5,666.2 657.2,668.8 657.9,671.3 658.6,676.7 659.3,669 660,697.2 660.7,691.6 661.4,666.4 662.1,683.6 662.8,680.1 663.5,668.8 664.2,692.1 664.9,687.3 665.6,691.4 666.3,691.9 667,706.4 667.7,709.7 668.4,705 669.1,709.7 669.8,705 670.5,709.8 671.2,704 671.9,710.6 672.6,706.1 673.3,714.2 674,717.9 674.7,714.7 675.4,721.2 676.1,732.1 676.8,692.6 677.5,715.3 678.2,712.5 678.9,714.6 679.6,701.3 680.3,721.4 681,721.2 681.7,720.6 682.4,725.2 683.1,724.8 683.8,709.1 684.5,746.2 685.2,731.1 685.9,727.5 686.6,736.7 687.3,730.7 688,721 688.7,742.1 689.4,715.5 690.1,735.9 690.8,739 691.5,756.5 692.2,747.7 692.9,741.6 693.6,736.2 694.3,739.2 695,749.9 695.7,764.3 696.4,747.6 697.1,740.5 697.8,752.6 698.5,744.4 699.2,745.4 699.9,747.7 700.6,755 701.3,754.4 702,760.5 702.7,771.6 703.4,759.4 704.1,741.4 704.8,746.1 705.5,758.7 706.2,757.7 706.9,772.9 707.6,759.3 708.3,759.4 709,767.6 709.7,769.4 710.4,760.5 711.1,767.5 711.8,757.9 712.5,760 713.2,775 713.9,758.8 714.6,774.8 715.3,778.2 716,775.6 716.7,783 717.4,776 718.1,759.2 718.8,767.3 719.5,770.6 720.2,781 720.9,761.7 721.6,771.8 722.3,774.5 723,785.5 723.7,767.8 724.4,760 725.1,780.5 725.8,762.5 726.5,780 727.2,773 727.9,766.2 728.6,774.4 729.3,771.8 730,781.6 730.7,783.3 731.4,791.8 732.1,783.5 732.8,785.3 733.5,781.8 734.2,785.9 734.9,793.2 735.6,774.7 736.3,791.5 737,784.4 737.7,788.9 738.4,791.2 739.1,800.4 739.8,792.4 740.5,789.3 741.2,794.4 741.9,793.3 742.6,791.2 743.3,795.4 744,800 744.7,795.8 745.4,796.4 746.1,780.4 746.8,795.9 747.5,786 748.2,803 748.9,788.3 749.6,808.9 750.3,820.7 751,801 751.7,813.2 752.4,809 753.1,804.7 753.8,799.6 754.5,817.9 755.2,821.1 755.9,815.6 756.6,804.9 757.3,802.3 758,813.6 758.7,823.6 759.4,817 760.1,817.4 760.8,823 761.5,814.6 762.2,815.7 762.9,814.6 763.6,798 764.3,820.9 765,821.3 765.7,825.5 766.4,813.1 767.1,816.3 767.8,827.9 768.5,825 769.2,840 769.9,819.2 770.6,827.3 771.3,821.1 772,828.8 772.7,822 773.4,828 774.1,831 774.8,828.5 775.5,805.5 776.2,830.7 776.9,828.4 777.6,820.4 778.3,822.3 779,828.8 779.7,833.2 780.4,828 781.1,812.6 781.8,833.7 782.5,833.4 783.2,847.3 783.9,825.3 784.6,848.3 785.3,843.9 786,835.7 786.7,844.3 787.4,835.5 788.1,841.3 788.8,831.6 789.5,836.9 790.2,830.7 790.9,827.6 791.6,834 792.3,833.3 793,843.9 793.7,844.9 794.4,836.5 795.1,837.9 795.8,838.7 796.5,827.9 797.2,839.4 797.9,838 798.6,837.7 799.3,831.6 800,826.5 800.7,836.7 801.4,840.2 802.1,846.5 802.8,845.7 803.5,856.2 804.2,842.7 804.9,854.4 805.6,841 806.3,850.1 807,849.2 807.7,860.1 808.4,846.6 809.1,838.3 809.8,861.4 810.5,841.6 811.2,845.9 811.9,844.5 812.6,840.8 813.3,853.6 814,852.5 814.7,842.4 815.4,846.6 816.1,844.2 816.8,850.8 817.5,845.9 818.2,840.5 818.9,846.3 819.6,848.5 820.3,853.6 821,847.6 821.7,853 822.4,856.5 823.1,872.3 823.8,859.3 824.5,837.5 825.2,851.4 825.9,851.8 826.6,855.7 827.3,862.6 828,861.8 828.7,840.8 829.4,855.8 830.1,855.6 830.8,857.2 831.5,862.9 832.2,843.9 832.9,862.2 833.6,847 834.3,856.6 835,858.5 835.7,869.2 836.4,852.6 837.1,847.3 837.8,860.8 838.5,853.7 839.2,866.5 839.9,854.4 840.6,854 841.3,866.3 842,860.3 842.7,865.9 843.4,852.8 844.1,870.2 844.8,858.1 845.5,866 846.2,850.9 846.9,853 847.6,858.8 848.3,862.3 849,877.9 849.7,863 850.4,864.8 851.1,867.9 851.8,877.9 852.5,852.4 853.2,868.2 853.9,860.9 854.6,863.6 855.3,859.7 856,869.4 856.7,850.3 857.4,856.6 858.1,862.9 858.8,858 859.5,868.2 860.2,869.6 860.9,860.7 861.6,869.1 862.3,858.1 863,864.9 863.7,865.3 864.4,875.5 865.1,865.4 865.8,860.4 866.5,860.2 867.2,871.2 867.9,855.4 868.6,859.1 869.3,861.6 870,850.3 870.7,858.5 871.4,873.8 872.1,864.8 872.8,859 873.5,867.9 874.2,867.3 874.9,881.9 875.6,857.6 876.3,863.6 877,866 877.7,865.1 878.4,866.1 879.1,864.2 879.8,861.1 880.5,855.7 881.2,858 881.9,849.1 882.6,857.7 883.3,857.8 884,866.6 884.7,869 885.4,854.3 886.1,867.4 886.8,870.7 887.5,866.4 888.2,858.5 888.9,856 889.6,872 890.3,872.8 891,869.7 891.7,863 892.4,876.9 893.1,876.3 893.8,870.3 894.5,870 895.2,861.4 895.9,876.3 896.6,864 897.3,876.3 898,876.5 898.7,873.3 899.4,880.5 900.1,870 900.8,874.5 901.5,875.3 902.2,872.2 902.9,868.5 903.6,883.2 904.3,873 905,869.8 905.7,870 906.4,872.1 907.1,882.9 907.8,871.2 908.5,869.3 909.2,864.8 909.9,863.9 910.6,853.8 911.3,872.8 912,870.9 912.7,860.5 913.4,863.8 914.1,870.4 914.8,869.9 915.5,859.4 916.2,875.4 916.9,875.6 917.6,874.6 918.3,883.2 919,869.3 919.7,890.5 920.4,872 921.1,880.6 921.8,884.7 922.5,877.2 923.2,880.4 923.9,871.6 924.6,870 925.3,876.4 926,869.2 926.7,879.3 927.4,875.8 928.1,878.4 928.8,876.5 929.5,875.7 930.2,875.2 930.9,870.9 931.6,872.9 932.3,886.6 933,860.3 933.7,875.5 934.4,883.7 935.1,881.5 935.8,887.5 936.5,883.7 937.2,874.7 937.9,879.9 938.6,874.5 939.3,887 940,889.3 940.7,876.9 941.4,884 942.1,878.6 942.8,872.8 943.5,875.2 944.2,863.3 944.9,873.3 945.6,880.2 946.3,882.9 947,886.1 947.7,877.8 948.4,881 949.1,882.1 949.8,882.8 950.5,864.8 951.2,875.1 951.9,882.6 952.6,871.9 953.3,878.2 954,880.6 954.7,865.9 955.4,874.5 956.1,876.8 956.8,875.9 957.5,868.4 958.2,878.8 958.9,874.8 959.6,882.8 960.3,881.5 961,877 961.7,881.4 962.4,873.7 963.1,877.7 963.8,865.5 964.5,880.4 965.2,885.8 965.9,882 966.6,880.8 967.3,877 968,876.7 968.7,882.4 969.4,862.3 970.1,887.5 970.8,875.2 971.5,887.1 972.2,887 972.9,871 973.6,879.5 974.3,877.3 975,878.6 975.7,880.6 976.4,874.1 977.1,874.2 977.8,873.2 978.5,871.4 979.2,877.5 979.9,880.5 980.6,881.7 981.3,881 982,878.2 982.7,887.7 983.4,869.9 984.1,878.2 984.8,878.3 985.5,884.1 986.2,882.3 986.9,882.2 987.6,877.4 988.3,885.3 989,870.7 989.7,875.5 990.4,864.4 991.1,884.1 991.8,883.7 992.5,872.8 993.2,871.8 993.9,865.7 994.6,868.8 995.3,877.3 996,875.8 996.7,868.8 997.4,873.5 998.1,868.4 998.8,877.7 999.5,878.6 1000.2,873.6 1000.9,875.2 1001.6,874.7 1002.3,864.2 1003,876 1003.7,875 1004.4,882.3 1005.1,866.5 1005.8,882.8 1006.5,872.7 1007.2,877.7 1007.9,881.6 1008.6,867.6 1009.3,861 1010,879.2 1010.7,861.7 1011.4,868.3 1012.1,875.9 1012.8,871.5 1013.5,876.3 1014.2,873.7 1014.9,871.9 1015.6,880.9 1016.3,882.9 1017,871.1 1017.7,878.8 1018.4,876.7 1019.1,871.1 1019.8,872.4 1020.5,865 1021.2,866.3 1021.9,871.2 1022.6,867.8 1023.3,875.4 1024,862.2 1024.7,867.2 1025.4,865.4 1026.1,867.8 1026.8,874.4 1027.5,862.3 1028.2,872.6 1028.9,865.2 1029.6,866.5 1030.3,873.1 1031,864.5 1031.7,871.1 1032.4,868.1 1033.1,866.5 1033.8,865.3 1034.5,851.6 1035.2,863 1035.9,867.7 1036.6,867.8 1037.3,859.5 1038,872.3 1038.7,870.4 1039.4,854.5 1040.1,857.1 1040.8,870.5 1041.5,859 1042.2,859.9 1042.9,867.2 1043.6,866.6 1044.3,866.8 1045,868.9 1045.7,862.9 1046.4,864.5 1047.1,877.4 1047.8,860.3 1048.5,865.3 1049.2,868.5 1049.9,865 1050.6,874.6 1051.3,869 1052,872.6 1052.7,855.7 1053.4,874.7 1054.1,874.5 1054.8,865 1055.5,875.3 1056.2,870.3 1056.9,873.8 1057.6,878.5 1058.3,870.3 1059,865.1 1059.7,870.5 1060.4,864.4 1061.1,866.9 1061.8,863.1 1062.5,867.2 1063.2,876.2 1063.9,874.1 1064.6,864.9 1065.3,874.3 1066,859.6 1066.7,863.9 1067.4,864.7 1068.1,876.8 1068.8,868.6 1069.5,866.7 1070.2,870.4 1070.9,867.1 1071.6,870.2 1072.3,859.6 1073,855.4 1073.7,862.2 1074.4,872.4 1075.1,866.6 1075.8,874 1076.5,869.7 1077.2,869.1 1077.9,870.7 1078.6,859.5 1079.3,871.9 1080,861.3 1080.7,865.3 1081.4,851.5 1082.1,867.5 1082.8,849.4 1083.5,877.4 1084.2,857.4 1084.9,865.2 1085.6,863.2 1086.3,859.5 1087,870 1087.7,861.9 1088.4,878 1089.1,859.6 1089.8,861.2 1090.5,855.8 1091.2,871.3 1091.9,871.4 1092.6,868.6 1093.3,866.2 1094,863.8 1094.7,880.2 1095.4,872.4 1096.1,859.6 1096.8,867.1 1097.5,855.6 1098.2,875.9 1098.9,877.6 1099.6,874.9 1100.3,867.4 1101,864.7 1101.7,860.9 1102.4,870.6 1103.1,864.7 1103.8,867 1104.5,866.2 1105.2,868.3 1105.9,874.6 1106.6,878.8 1107.3,871.4 1108,870.7 1108.7,865.3 1109.4,864.7 1110.1,865.5 1110.8,875.2 1111.5,872.1 1112.2,875.9 1112.9,873.6 1113.6,870 1114.3,860.5 1115,871.4 1115.7,866.8 1116.4,884.2 1117.1,876.1 1117.8,873.2 1118.5,885 1119.2,873.3 1119.9,878 1120.6,873.5 1121.3,877.1 1122,873.7 1122.7,880.2 1123.4,883 1124.1,863.9 1124.8,865.5 1125.5,883.3 1126.2,877.5 1126.9,881 1127.6,875.2 1128.3,884.1 1129,885.4 1129.7,870.5 1130.4,879.6 1131.1,873.3 1131.8,868.4 1132.5,875 1133.2,879.3 1133.9,869.7 1134.6,870 1135.3,882.4 1136,876.1 1136.7,878 1137.4,864.7 1138.1,872.9 1138.8,877.1 1139.5,877.9 1140.2,878.8 1140.9,886.4 1141.6,880.2 1142.3,872.7 1143,872.2 1143.7,881.4 1144.4,888.5 1145.1,879 1145.8,880.6 1146.5,882.5 1147.2,879.1 1147.9,878.4 1148.6,881.3 1149.3,887.6 1150,885.3 1150.7,881.8 1151.4,885.8 1152.1,878.2 1152.8,890.3 1153.5,889.8 1154.2,888.4 1154.9,879.5 1155.6,898.2 1156.3,874.1 1157,884 1157.7,884.7 1158.4,893.1 1159.1,882.7 1159.8,891.8 1160.5,890.5 1161.2,890.8 1161.9,897.5 1162.6,907.6 1163.3,898 1164,896.2 1164.7,887.9 1165.4,907.9 1166.1,900.5 1166.8,888.5 1167.5,905.2 1168.2,912.6 1168.9,904.5 1169.6,901.5 1170.3,919 1171,911.7 1171.7,910.9 1172.4,918.8 1173.1,899.5 1173.8,909.3 1174.5,910.1 1175.2,922.4 1175.9,909.1 1176.6,909.8 1177.3,906.2 1178,909.6 1178.7,913 1179.4,915.6 1180.1,913.5 1180.8,924.3 1181.5,917.1 1182.2,917.9 1182.9,921.8 1183.6,918.8 1184.3,914 1185,902.9 1185.7,920.4 1186.4,915.7 1187.1,932.7 1187.8,918 1188.5,911.6 1189.2,923.1 1189.9,928.4 1190.6,922.3 1191.3,924.2 1192,924 1192.7,931.5 1193.4,924.5 1194.1,922.7 1194.8,919.9 1195.5,914.9 1196.2,929.6 1196.9,928.5 1197.6,918.6 1198.3,926.3 1199,926.4 1199.7,922.4 1200.4,923.3 1201.1,932 1201.8,920.4 1202.5,921.6 1203.2,927.2 1203.9,928.1 1204.6,927.5 1205.3,929.8 1206,931.3 1206.7,924.3 1207.4,928.7 1208.1,925.5 1208.8,934.9 1209.5,920.9 1210.2,926.6 1210.9,931.3 1211.6,927 1212.3,927.3 1213,927 1213.7,931.6 1214.4,925.2 1215.1,930.8 1215.8,931 1216.5,917.8 1217.2,932.9 1217.9,929.3 1218.6,932.7 1219.3,935 1220,932.3 1220.7,924.8 1221.4,931.6 1222.1,915.6 1222.8,926.3 1223.5,937.8 1224.2,930 1224.9,938.1 1225.6,929.5 1226.3,932.2 1227,927.7 1227.7,938 1228.4,933.2 1229.1,937.5 1229.8,938.4 1230.5,937.4 1231.2,936.4 1231.9,934.7 1232.6,934.8 1233.3,931.6 1234,925.1 1234.7,937.5 1235.4,945.2 1236.1,941 1236.8,947.4 1237.5,939.5 1238.2,929.3 1238.9,934.2 1239.6,945.9 1240.3,942.8 1241,938.6 1241.7,943.7 1242.4,936.2 1243.1,942.5 1243.8,938.5 1244.5,940.2 1245.2,944.7 1245.9,938.4 1246.6,945.2 1247.3,945 1248,935.6 1248.7,949.9 1249.4,933.8 1250.1,939.3 1250.8,943.4 1251.5,929.9 1252.2,945.3 1252.9,946.1 1253.6,940.8 1254.3,943 1255,943.3 1255.7,942 1256.4,948.4 1257.1,942.4 1257.8,944.3 1258.5,946.6 1259.2,949.1 1259.9,955.2 1260.6,933 1261.3,932.1 1262,946 1262.7,946.9 1263.4,942.7 1264.1,949.4 1264.8,951.3 1265.5,950.5 1266.2,956.5 1266.9,940.4 1267.6,949.6 1268.3,958.1 1269,952.6 1269.7,944.5 1270.4,951.1 1271.1,954.4 1271.8,958.2 1272.5,951.7 1273.2,953.8 1273.9,943.6 1274.6,947.3 1275.3,953.7 1276,944.4 1276.7,948.6 1277.4,941.1 1278.1,956.2 1278.8,949.1 1279.5,953.2 1280.2,944.5 1280.9,945.6 1281.6,959.4 1282.3,950 1283,949.1 1283.7,953.6 1284.4,953.7 1285.1,942.6 1285.8,946.8 1286.5,951.1 1287.2,950.8 1287.9,952.2 1288.6,948.9 1289.3,949.7 1290,952.2 1290.7,946 1291.4,945.4 1292.1,950.8 1292.8,953.9 1293.5,953.9 1294.2,951 1294.9,954.2 1295.6,955.2 1296.3,956.6 1297,956.5 1297.7,949.2 1298.4,958.4 1299.1,940.8 1299.8,956.1 1300.5,950.6 1301.2,955.9 1301.9,957.9 1302.6,945.5 1303.3,956 1304,954.7 1304.7,951.6 1305.4,955.2 1306.1,951.5 1306.8,954.5 1307.5,949.2 1308.2,956.7 1308.9,955.8 1309.6,956.3 1310.3,950.5 1311,966.2 1311.7,961.5 1312.4,953.2 1313.1,952.2 1313.8,952.7 1314.5,960.2 1315.2,963.3 1315.9,949.5 1316.6,947.5 1317.3,957.9 1318,956.2 1318.7,957.3 1319.4,961 1320.1,952.8 1320.8,957.9 1321.5,956.7 1322.2,960.9 1322.9,962.9 1323.6,957.9 1324.3,954.2 1325,967.2 1325.7,960.2 1326.4,956.6 1327.1,950.3 1327.8,954.3 1328.5,958.7 1329.2,960.7 1329.9,956.8 1330.6,962.3 1331.3,956.7 1332,957.5 1332.7,961.2 1333.4,957.9 1334.1,959.8 1334.8,965.3 1335.5,963.2 1336.2,956.4 1336.9,957.7 1337.6,953.5 1338.3,953.6 1339,960 1339.7,954.9 1340.4,952 1341.1,963.5 1341.8,957 1342.5,959.7 1343.2,963.3 1343.9,965.2 1344.6,963 1345.3,956.1 1346,966.6 1346.7,962.5 1347.4,959.6 1348.1,956.6 1348.8,970.2 1349.5,965.6 1350.2,965.5 1350.9,967.1 1351.6,964.4 1352.3,959 1353,967.2 1353.7,971.8 1354.4,966.6 1355.1,970.5 1355.8,972 1356.5,961.9 1357.2,963.4 1357.9,968.7 1358.6,966.3 1359.3,966.6 1360,969.6 1360.7,971.4 1361.4,964.6 1362.1,966.8 1362.8,963.7 1363.5,964.8 1364.2,962.3 1364.9,959.2 1365.6,964.8 1366.3,962.5 1367,970.4 1367.7,973.2 1368.4,967.6 1369.1,969.4 1369.8,965.4 1370.5,961 1371.2,966.6 1371.9,966.5 1372.6,968.5 1373.3,967.7 1374,973.3 1374.7,966.5 1375.4,961.4 1376.1,968.1 1376.8,965.6 1377.5,969.2 1378.2,973 1378.9,967.1 1379.6,969.6 1380.3,972.1 1381,967.1 1381.7,972.1 1382.4,972.7 1383.1,973.6 1383.8,974.4 1384.5,972.3 1385.2,971.5 1385.9,964.9 1386.6,960.3 1387.3,966.4 1388,975 1388.7,970.6 1389.4,962.5 1390.1,967.8 1390.8,972.3 1391.5,964.8 1392.2,973.6 1392.9,967.8 1393.6,975.7 1394.3,972.3 1395,983.4 1395.7,967.8 1396.4,973.4 1397.1,967.2 1397.8,976.2 1398.5,972.5 1399.2,975.1 1399.9,972.2 1400.6,967.7 1401.3,969.5 1402,967.5 1402.7,968.2 1403.4,972.4 1404.1,975.6 1404.8,974.9 1405.5,973.7 1406.2,970 1406.9,973.7 1407.6,969 1408.3,972.9 1409,975.3 1409.7,972.1 1410.4,971.6 1411.1,970.8 1411.8,978.3 1412.5,973.6 1413.2,970.1 1413.9,973.8 1414.6,968.2 1415.3,980.4 1416,975.2 1416.7,969.8 1417.4,975.5 1418.1,976.7 1418.8,976.4 1419.5,972.2 1420.2,973.7 1420.9,973.8 1421.6,976.1 1422.3,973.8 1423,983.5 1423.7,971.9 1424.4,978.1 1425.1,973.2 1425.8,967.7 1426.5,966.2 1427.2,968.3 1427.9,964.2 1428.6,979.7 1429.3,971.6 1430,978.4 1430.7,970.7 1431.4,976.9 1432.1,973.6 1432.8,980.5 1433.5,977 1434.2,976.7 1434.9,978.1 1435.6,986.6 1436.3,981.2 1437,985.6 1437.7,976.1 1438.4,978.3 1439.1,982.5 1439.8,974 1440.5,984.7 1441.2,980.6 1441.9,979.2 1442.6,978.3 1443.3,977.1 1444,976.8 1444.7,987.9 1445.4,981.1 1446.1,983.2 1446.8,978 1447.5,976.2 1448.2,988.5 1448.9,971.3 1449.6,977.3 1450.3,981.8 1451,982.9 1451.7,974.5 1452.4,977.9 1453.1,978.8 1453.8,977.7 1454.5,975.6 1455.2,980.9 1455.9,976.8 1456.6,977.8 1457.3,967.6 1458,978.1 1458.7,971.7 1459.4,980.7 1460.1,981.4 1460.8,976.2 1461.5,978.5 1462.2,978.2 1462.9,977.3 1463.6,979 1464.3,977.3 1465,976.1 1465.7,975 1466.4,983.6 1467.1,979.1 1467.8,977.9 1468.5,980.6 1469.2,975.7 1469.9,977.1 1470.6,981 1471.3,982.4 1472,981.4 1472.7,974.1 1473.4,979.5 1474.1,979.4 1474.8,982.6 1475.5,976.7 1476.2,976.3 1476.9,979.8 1477.6,977.5 1478.3,977.2 1479,980.9 1479.7,984.5 1480.4,982.3 1481.1,985.1 1481.8,977.6 1482.5,983.1 1483.2,980.2 1483.9,977 1484.6,978.3 1485.3,976.6 1486,978.7 1486.7,976.8 1487.4,987.6 1488.1,977.9 1488.8,974.1 1489.5,978.2 1490.2,980.2 1490.9,977.7 1491.6,984.6 1492.3,975.9 1493,976.2 1493.7,985 1494.4,979.6 1495.1,981.6 1495.8,983.2 1496.5,982 1497.2,980.2 1497.9,978.8 1498.6,983.7 1499.3,976.7 1500,980.6 1500.7,982.1 1501.4,977.1 1502.1,969.6 1502.8,981.4 1503.5,983.8 1504.2,981.3 1504.9,975.1 1505.6,985.5 1506.3,988.4 1507,976.9 1507.7,973.4 1508.4,981.4 1509.1,983.8 1509.8,986.2 1510.5,986.5 1511.2,984 1511.9,985.4 1512.6,984.6 1513.3,983.7 1514,982.7 1514.7,982.5 1515.4,985.3 1516.1,984.2 1516.8,981.3 1517.5,989.9 1518.2,980.2 1518.9,981.8 1519.6,982.9 1520.3,976 1521,981.1 1521.7,985.3 1522.4,985.2 1523.1,978.7 1523.8,980.1 1524.5,979.5 1525.2,982.5 1525.9,983.1 1526.6,973.2 1527.3,985.7 1528,983.8 1528.7,983.1 1529.4,980.9 1530.1,982.3 1530.8,976.7 1531.5,983.2 1532.2,983 1532.9,981.9 1533.6,978.3 1534.3,986.6 1535,986.2 1535.7,971.6 1536.4,983.9 1537.1,983 1537.8,973.8 1538.5,984 1539.2,984.2 1539.9,984.2 1540.6,982.4 1541.3,978.8 1542,977.1 1542.7,981.7 1543.4,983.4 1544.1,977.5 1544.8,978.1 1545.5,981.3 1546.2,968.4 1546.9,981.1 1547.6,979.4 1548.3,973.5 1549,983.9 1549.7,978.9 1550.4,987.4 1551.1,987.2 1551.8,978.6 1552.5,975.1 1553.2,982.7 1553.9,977 1554.6,987.5 1555.3,983.6 1556,989.6 1556.7,977.5 1557.4,984.5 1558.1,987.1 1558.8,973.4 1559.5,987.1 1560.2,975.3 1560.9,984.5 1561.6,979.3 1562.3,986.2 1563,994.2 1563.7,983.8 1564.4,983.8 1565.1,988.2 1565.8,982.7 1566.5,984.5 1567.2,989.8 1567.9,987.4 1568.6,989.8 1569.3,988.6 1570,995.4 1570.7,984.9 1571.4,989 1572.1,983.1 1572.8,989.3 1573.5,992.6 1574.2,995 1574.9,983.4 1575.6,986.8 1576.3,990 1577,984.5 1577.7,988.8 1578.4,988.4 1579.1,984.7 1579.8,984.2 1580.5,982.8 1581.2,986.7 1581.9,989.9 1582.6,986.8 1583.3,995.1 1584,981.2 1584.7,984.4 1585.4,988.7 1586.1,982.9 1586.8,988 1587.5,989.7 1588.2,987.7 1588.9,986.5 1589.6,990.5 1590.3,988.9 1591,992.5 1591.7,989.6 1592.4,985.7 1593.1,984.5 1593.8,987.1 1594.5,989.2 1595.2,987.9 1595.9,992.2 1596.6,990.2 1597.3,992.9 1598,990.4 1598.7,987.9 1599.4,993.3 1600.1,992.4 1600.8,985.8 1601.5,989.7 1602.2,1000.3 1602.9,980.2 1603.6,998.4 1604.3,991 1605,990.3 1605.7,989.3 1606.4,988.4 1607.1,997.5 1607.8,988 1608.5,988.2 1609.2,991.6 1609.9,990.1 1610.6,988.1 1611.3,987.7 1612,984.2 1612.7,992.2 1613.4,985.3 1614.1,978.1 1614.8,995.7 1615.5,991.4 1616.2,990 1616.9,987 1617.6,992.5 1618.3,984.9 1619,977.8 1619.7,989.6 1620.4,991.2 1621.1,990.7 1621.8,995.7 1622.5,994.5 1623.2,988.4 1623.9,988.6 1624.6,994.9 1625.3,988.7 1626,988.2 1626.7,982.6 1627.4,987 1628.1,983.6 1628.8,989.2 1629.5,988 1630.2,992.3 1630.9,993.7 1631.6,987.4 1632.3,992.9 1633,984.7 1633.7,989 1634.4,991.8 1635.1,995.2 1635.8,985.3 1636.5,988.2 1637.2,989.8 1637.9,988.9 1638.6,983.7 1639.3,979.6 1640,982.3 1640.7,989.9 1641.4,985.8 1642.1,1000.6 1642.8,994.3 1643.5,984 1644.2,988.6 1644.9,994.5 1645.6,994.7 1646.3,993.4 1647,984.8 1647.7,987 1648.4,993.1 1649.1,988.9 1649.8,986.7 1650.5,989.5 1651.2,990.8 1651.9,987.7 1652.6,988.8 1653.3,990.7 1654,985.5 1654.7,984.6 1655.4,992.9 1656.1,984.6 1656.8,990.6 1657.5,984.9 1658.2,992.5 1658.9,986 1659.6,993.7 1660.3,990.8 1661,988.7 1661.7,986.7 1662.4,988.7 1663.1,985.9 1663.8,984.7 1664.5,995.3 1665.2,990.2 1665.9,992.2 1666.6,983.7 1667.3,981.8 1668,983.1 1668.7,992.5 1669.4,991 1670.1,982.3 1670.8,991.6 1671.5,986.7 1672.2,984 1672.9,987.4 1673.6,989.2 1674.3,986.5 1675,986.6 1675.7,984.4 1676.4,982.5 1677.1,985.8 1677.8,981.7 1678.5,988.7 1679.2,983.7 1679.9,990.4 1680.6,980.5 1681.3,989.8 1682,979.2 1682.7,981.5 1683.4,985 1684.1,986.6 1684.8,983.3 1685.5,982 1686.2,993.3 1686.9,984.5 1687.6,978.8 1688.3,981.7 1689,987.8 1689.7,983.2 1690.4,984.5 1691.1,988.2 1691.8,979.4 1692.5,983.4 1693.2,978.8 1693.9,980.9 1694.6,982.7 1695.3,976.7 1696,982.1 1696.7,981.8 1697.4,984.9 1698.1,979.7 1698.8,977.6 1699.5,983 1700.2,978 1700.9,982.1 1701.6,983.1 1702.3,978.2 1703,980.4 1703.7,977.2 1704.4,971.3 1705.1,975.8 1705.8,973.8 1706.5,980.9 1707.2,974.4 1707.9,981 1708.6,981.6 1709.3,985.4 1710,981 1710.7,979.7 1711.4,983.9 1712.1,987.6 1712.8,982.3 1713.5,984.8 1714.2,982.3 1714.9,981 1715.6,978.6 1716.3,983.5 1717,983.2 1717.7,983.4 1718.4,990.6 1719.1,983.2 1719.8,985.3 1720.5,983 1721.2,991.4 1721.9,982.2 1722.6,990 1723.3,983.3 1724,986.7 1724.7,987.6 1725.4,983.7 1726.1,987.4 1726.8,985 1727.5,982.6 1728.2,983.2 1728.9,986.6 1729.6,991.5 1730.3,984.4 1731,987.9 1731.7,983.7 1732.4,987.2 1733.1,978.5 1733.8,984.2 1734.5,987 1735.2,985 1735.9,987 1736.6,991.6 1737.3,988.7 1738,987.5 1738.7,986.5 1739.4,989.4 1740.1,995.3 1740.8,992 1741.5,992.3 1742.2,995.5 1742.9,996.3 1743.6,997.2 1744.3,993.2 1745,991.7 1745.7,989.6 1746.4,992.9 1747.1,994.1 1747.8,997.8 1748.5,996.7 1749.2,994.1 1749.9,1001.5 1750.6,992.2 1751.3,993 1752,992.6 1752.7,992.7 1753.4,995.1 1754.1,992.9 1754.8,992.8 1755.5,999 1756.2,989.8 1756.9,990.8 1757.6,992.2 1758.3,994.7 1759,994.6 1759.7,991.1 1760.4,991.4 1761.1,991.7 1761.8,994.9 1762.5,989.9 1763.2,985.7 1763.9,994.1 1764.6,990.3 1765.3,994.1 1766,998.9 1766.7,995 1767.4,1000.6 1768.1,989.9 1768.8,996.3 1769.5,996.3 1770.2,997.9 1770.9,993.3 1771.6,996.4 1772.3,996.7 1773,997 1773.7,992.8 1774.4,992 1775.1,1000.8 1775.8,998.8 1776.5,997.8 1777.2,1001.5 1777.9,1004.1 1778.6,993.9 1779.3,999.8 1780,1002 1780.7,1000.5 1781.4,999.1 1782.1,999.5 1782.8,992.8 1783.5,995.7 1784.2,1000.3 1784.9,1001.7 1785.6,998.4 1786.3,994.1 1787,996.3 1787.7,999.3 1788.4,1003 1789.1,999.3 1789.8,993.9 1790.5,999 1791.2,998.6 1791.9,1007.1 1792.6,999.4 1793.3,997.8 1794,997.5 1794.7,994 1795.4,994.6 1796.1,996.5 1796.8,995.5 1797.5,998.7 1798.2,998.5 1798.9,1001.2 1799.6,1003 1800.3,998.9 1801,997.9 1801.7,992.9 1802.4,1001.2 1803.1,1001.1 1803.8,996.9 1804.5,998.2 1805.2,997.5 1805.9,1003 1806.6,1001.7 1807.3,1003.5 1808,995.8 1808.7,1009 1809.4,996.5 1810.1,995.7 1810.8,999.2 1811.5,996.7 1812.2,1003.9 1812.9,996.9 1813.6,996 1814.3,1001.1 1815,1005.5 1815.7,995.5 1816.4,996.5 1817.1,996.8 1817.8,997.3 1818.5,1002.9 1819.2,1001.2 1819.9,1000.4 1820.6,1004.7 1821.3,997 1822,999.7 1822.7,996.9 1823.4,995 1824.1,1002.8 1824.8,988 1825.5,997.9 1826.2,996.1 1826.9,992.6 1827.6,995.3 1828.3,997.4 1829,998.3 1829.7,994 1830.4,998.5 1831.1,996.9 1831.8,998.4 1832.5,989.9 1833.2,994.6 1833.9,994.2 1834.6,998.1 1835.3,994.2 1836,995 1836.7,993.2 1837.4,989.5 1838.1,993.7 1838.8,1002.2 1839.5,989.9 1840.2,988.5 1840.9,996.9 1841.6,993.2 1842.3,997.8 1843,998 1843.7,995.8 1844.4,996 1845.1,994.5 1845.8,998.4 1846.5,996.6 1847.2,1000.6 1847.9,1008.1 1848.6,996 1849.3,998.2 1850,998.1 1850.7,1001.8 1851.4,1001.7 1852.1,1003.8 1852.8,1001.2 1853.5,999 1854.2,1000.9 1854.9,993.8 1855.6,1000.9 1856.3,997.8 1857,1006.8 1857.7,1001 1858.4,994 1859.1,994.6 1859.8,999 1860.5,989.8 1861.2,993.3 1861.9,998.3 1862.6,998.1 1863.3,996.8 1864,999.8 1864.7,995.3 1865.4,996.4 1866.1,995.5 1866.8,992.6 1867.5,996 1868.2,994 1868.9,996 1869.6,987.4 1870.3,995.7 1871,993.7 1871.7,993.5 1872.4,995.9 1873.1,994.4 1873.8,999.1 1874.5,1000.5 1875.2,999.8 1875.9,1000.5 1876.6,1000.1 1877.3,998.4 1878,990.7 1878.7,997.3 1879.4,1002.2 1880.1,1000.7 1880.8,995.3 1881.5,998.4 1882.2,1004.2 1882.9,997.2 1883.6,1007.2 1884.3,992.8 1885,999.7 1885.7,999.4 1886.4,997.7 1887.1,998.2 1887.8,999 1888.5,990.4 1889.2,998.9 1889.9,1001.1 1890.6,998.9 1891.3,1001.2 1892,994.1 1892.7,997.6 1893.4,998.8 1894.1,996.2 1894.8,1001.3 1895.5,999 1896.2,995.8 1896.9,1002.1 1897.6,999.6 1898.3,995.6 1899,998.8 1899.7,998 1900.4,997.9 1901.1,992.9 1901.8,1004.4 1902.5,998.7 1903.2,996.5 1903.9,997.5 1904.6,997.3 1905.3,995 1906,993.8 1906.7,995.5 1907.4,993 1908.1,993 1908.8,990.7 1909.5,993.3 1910.2,997.2 1910.9,995.4 1911.6,994.4 1912.3,993.4 1913,993.2 1913.7,989.9 1914.4,999.7 1915.1,992.3 1915.8,989.9 1916.5,996.8 1917.2,995 1917.9,992.3 1918.6,984.8 1919.3,989.2 1920,998.1 1920.7,992.8 1921.4,991.2 1922.1,999.2 1922.8,992.1 1923.5,991.2 1924.2,996.2 1924.9,996 1925.6,1000 1926.3,990.5 1927,996.4 1927.7,990.3 1928.4,997.1 1929.1,993.7 1929.8,994.3 1930.5,993.5 1931.2,998.4 1931.9,1000.8 1932.6,995.4 1933.3,994.7 1934,993.8 1934.7,996.8 1935.4,991.7 1936.1,1004.3 1936.8,993.5 1937.5,999.1 1938.2,993.9 1938.9,984.9 1939.6,983.6 1940.3,991.6 1941,988.5 1941.7,992.2 1942.4,989.4 1943.1,1000.4 1943.8,999.8 1944.5,983.5 1945.2,996.1 1945.9,997 1946.6,992.3 1947.3,992.7 1948,999.9 1948.7,995.1 1949.4,986.1 1950.1,997.3 1950.8,991.9 1951.5,1003.3 1952.2,990.5 1952.9,983.8 1953.6,994 1954.3,1001 1955,995.5 1955.7,994.5 1956.4,991.3 1957.1,997.1 1957.8,988.5 1958.5,998.9 1959.2,990.4 1959.9,992.2 1960.6,989.7 1961.3,990.8 1962,998 1962.7,989.5 1963.4,993.4 1964.1,990.1 1964.8,995.5 1965.5,987.9 1966.2,992 1966.9,994.8 1967.6,1001.9 1968.3,984.8 1969,989.6 1969.7,992.4 1970.4,997.5 1971.1,989.9 1971.8,995.9 1972.5,989.5 1973.2,990.3 1973.9,988.6 1974.6,993.9 1975.3,996.5 1976,993 1976.7,986.5 1977.4,989.4 1978.1,998.5 1978.8,997.8 1979.5,993.4 1980.2,997.1 1980.9,984.4 1981.6,984.5 1982.3,1002.1 1983,994.2 1983.7,991.3 1984.4,990.4 1985.1,982.4 1985.8,994.6 1986.5,985.5 1987.2,985.9 1987.9,992 1988.6,997 1989.3,989.8 1990,993.8 1990.7,990 1991.4,994.4 1992.1,988.3 1992.8,1000.5 1993.5,991.1 1994.2,996 1994.9,987.7 1995.6,999.5 1996.3,994.8 1997,999.2 1997.7,988 1998.4,994.9 1999.1,990.7 1999.8,990.5 2000.5,995 2001.2,988.2 2001.9,993.7 2002.6,997.8 2003.3,1002 2004,995.8 2004.7,993.8 2005.4,990 2006.1,997.9 2006.8,991.4 2007.5,997.5 2008.2,992.8 2008.9,993.9 2009.6,993.9 2010.3,997.4 2011,990.9 2011.7,994.1 2012.4,991.8 2013.1,994.9 2013.8,993.9 2014.5,995.2 2015.2,989.8 2015.9,993.2 2016.6,992.1 2017.3,995.2 2018,991.8 2018.7,988.6 2019.4,994 2020.1,989.8 2020.8,993 2021.5,985.8 2022.2,994.2 2022.9,994.8 2023.6,990 2024.3,994.8 2025,991.9 2025.7,997.4 2026.4,995.2 2027.1,989.2 2027.8,992.4 2028.5,987.4 2029.2,991.9 2029.9,994.5 2030.6,997.5 2031.3,992.1 2032,991.4 2032.7,992.7 2033.4,989.6 2034.1,992.1 2034.8,997.4 2035.5,990.9 2036.2,992.6 2036.9,987.1 2037.6,987.8 2038.3,990.3 2039,995.6 2039.7,992.5 2040.4,994.9 2041.1,990.1 2041.8,994.3 2042.5,981.1 2043.2,994.5 2043.9,982.1 2044.6,999.6 2045.3,993.8 2046,999.5 2046.7,993.7 2047.4,990.9 2048.1,990.2 2048.8,993.3 2049.5,1002.1 2050.2,995.2 2050.9,990.3 2051.6,992.1 2052.3,991.8 2053,993.5 2053.7,993.9 2054.4,992.5 2055.1,993.9 2055.8,988.8 2056.5,998.4 2057.2,994.9 2057.9,998.1 2058.6,995.1 2059.3,992.7 2060,993.6 2060.7,994.1 2061.4,991.3 2062.1,992.2 2062.8,999.3 2063.5,996.2 2064.2,991.5 2064.9,996.1 2065.6,990 2066.3,996.7 2067,985.9 2067.7,994.4 2068.4,991.3 2069.1,991 2069.8,988 2070.5,989.5 2071.2,987.8 2071.9,987.4 2072.6,991.6 2073.3,1000 2074,989.3 2074.7,993.7 2075.4,990.6 2076.1,988.6 2076.8,995.2 2077.5,993.1 2078.2,994.7 2078.9,991.5 2079.6,991.5 2080.3,988.5 2081,989.4 2081.7,996.2 2082.4,983.8 2083.1,993.5 2083.8,995.8 2084.5,996.4 2085.2,994.4 2085.9,991 2086.6,995.6 2087.3,995.8 2088,992.2 2088.7,997.7 2089.4,989.8 2090.1,985.1 2090.8,993 2091.5,992.9 2092.2,990.7 2092.9,991.9 2093.6,991.6 2094.3,987.5 2095,996.8 2095.7,992.7 2096.4,1002.1 2097.1,992.1 2097.8,993.1 2098.5,987 2099.2,994.8 2099.9,988.1 2100.6,993.1 2101.3,994.2 2102,993.6 2102.7,988.5 2103.4,986.2 2104.1,993.1 2104.8,994.2 2105.5,994.8 2106.2,990.1 2106.9,989.8 2107.6,995.8 2108.3,986.9 2109,995.2 2109.7,989.7 2110.4,986.4 2111.1,984.3 2111.8,992.4 2112.5,991.7 2113.2,992.5 2113.9,989.7 2114.6,989.1 2115.3,991.5 2116,989.5 2116.7,985.6 2117.4,989.3 2118.1,996.1 2118.8,988.6 2119.5,994.4 2120.2,990.9 2120.9,993.4 2121.6,985.8 2122.3,986.9 2123,992 2123.7,988.2 2124.4,990 2125.1,989 2125.8,992.8 2126.5,991.3 2127.2,990.1 2127.9,986.6 2128.6,984.8 2129.3,987.1 2130,992.4 2130.7,992.1 2131.4,991.8 2132.1,988.9 2132.8,987.1 2133.5,997.3 2134.2,991 2134.9,992.2 2135.6,987.8 2136.3,988.8 2137,993.1 2137.7,993.6 2138.4,988.5 2139.1,992.7 2139.8,988.4 2140.5,995.9 2141.2,994.2 2141.9,999.1 2142.6,1001 2143.3,989.8 2144,992.9 2144.7,990.1 2145.4,991.9 2146.1,993.8 2146.8,991.3 2147.5,991.7 2148.2,987.1 2148.9,992.9 2149.6,991 2150.3,992.9 2151,994 2151.7,990.9 2152.4,992.7 2153.1,988.6 2153.8,993.4 2154.5,990.4 2155.2,988.7 2155.9,990 2156.6,986.4 2157.3,989 2158,989.8 2158.7,991.3 2159.4,990.7 2160.1,989.2 2160.8,990 2161.5,984.4 2162.2,991.1 2162.9,994 2163.6,993 2164.3,993.7 2165,989.7 2165.7,990.1 2166.4,987.6 2167.1,989.1 2167.8,991.1 2168.5,995 2169.2,985.8 2169.9,988.2 2170.6,992.9 2171.3,988.5 2172,993 2172.7,983.8 2173.4,991.3 2174.1,987.6 2174.8,994.6 2175.5,988.6 2176.2,997.4 2176.9,993 2177.6,991.1 2178.3,991.6 2179,994.8 2179.7,994.1 2180.4,993.2 2181.1,992.6 2181.8,993.4 2182.5,995.8 2183.2,989.5 2183.9,994.2 2184.6,988.8 2185.3,995.9 2186,994.4 2186.7,992.6 2187.4,993 2188.1,989 2188.8,994.8 2189.5,993.9 2190.2,990.4 2190.9,992 2191.6,996.4 2192.3,995.1 2193,995.9 2193.7,992.5 2194.4,996.6 2195.1,993.6 2195.8,996 2196.5,999.8 2197.2,986.5 2197.9,990.8 2198.6,992.1 2199.3,989.8 2200,995.3 2200.7,991.3 2201.4,997.9 2202.1,995.6 2202.8,995.2 2203.5,994.4 2204.2,997.6 2204.9,996.9 2205.6,1004.5 2206.3,998.6 2207,999.6 2207.7,997.9 2208.4,997.8 2209.1,992.1 2209.8,996.9 2210.5,998.1 2211.2,993.2 2211.9,992.4 2212.6,995.6 2213.3,997.4 2214,991.2 2214.7,997.4 2215.4,999.4 2216.1,995.7 2216.8,997.9 2217.5,998 2218.2,992.6 2218.9,1000.3 2219.6,999.3 2220.3,992.8 2221,999.6 2221.7,999 2222.4,992.8 2223.1,998.4 2223.8,994.6 2224.5,990.9 2225.2,991.6 2225.9,991.9 2226.6,997.9 2227.3,993.6 2228,994.3 2228.7,992.2 2229.4,996.8 2230.1,989.9 2230.8,995.8 2231.5,1000.2 2232.2,1000.6 2232.9,997.2 2233.6,998.7 2234.3,1000.5 2235,998.7 2235.7,1002.2 2236.4,1006.3 2237.1,997.9 2237.8,994.3 2238.5,997.6 2239.2,1002.2 2239.9,1004.8 2240.6,1001.8 2241.3,1001.7 2242,996.7 2242.7,999.1 2243.4,1001.4 2244.1,998.8 2244.8,1000.6 2245.5,994.7 2246.2,993.9 2246.9,1003.7 2247.6,999.7 2248.3,999.1 2249,1001.6 2249.7,1003.8 2250.4,1005.7 2251.1,987 2251.8,998.1 2252.5,1000.2 2253.2,991.4 2253.9,992 2254.6,997.2 2255.3,1003.8 2256,1001 2256.7,1004.9 2257.4,999.2 2258.1,1001.6 2258.8,1002.9 2259.5,999.6 2260.2,998 2260.9,998.3 2261.6,987.9 2262.3,998.7 2263,991.9 2263.7,995.2 2264.4,1002.1 2265.1,999.3 2265.8,988.5 2266.5,1000.3 2267.2,1001.4 2267.9,999.9 2268.6,1003.6 2269.3,1001.4 2270,994.3 2270.7,998.9 2271.4,998.5 2272.1,995.6 2272.8,999 2273.5,996.7 2274.2,998.9 2274.9,996.5 2275.6,1002.5 2276.3,1006.1 2277,997.5 2277.7,999.4 2278.4,999.6 2279.1,1000.8 2279.8,998.5 2280.5,989.9 2281.2,1000.8 2281.9,999.2 2282.6,996.2 2283.3,998.6 2284,997.4 2284.7,1000 2285.4,997.4 2286.1,996.4 2286.8,998.2 2287.5,998.5 2288.2,997.7 2288.9,1001.2 2289.6,998.8 2290.3,995 2291,1002.7 2291.7,997.7 2292.4,1002.3 2293.1,991.1 2293.8,999.6 2294.5,1003.6 2295.2,1002.6 2295.9,999.3 2296.6,997.5 2297.3,997.7 2298,999.1 2298.7,993.8 2299.4,997.2 2300.1,996.3 2300.8,993.1 2301.5,999.7 2302.2,993.4 2302.9,999.9 2303.6,1001.4 2304.3,996.7 2305,997.3 2305.7,1000.8 2306.4,1001.3 2307.1,1004.9 2307.8,992.8 2308.5,1002.7 2309.2,1011.5 2309.9,1003.5 2310.6,1008.6 2311.3,1009.6 2312,1000.8 2312.7,1006.8 2313.4,1003.3 2314.1,1001.2 2314.8,1000.1 2315.5,1000 2316.2,997.5 2316.9,999.5 2317.6,1005.4 2318.3,1003.4 2319,998 2319.7,1000.6 2320.4,1000.2 2321.1,991.2 2321.8,1000.7 2322.5,994.7 2323.2,995.1"/>
<polyline stroke="#000000" marker-start="url(#p3)" marker-mid="url(#p3)" marker-end="url(#p3)" points="169.3,48.5 170,53.2 170.7,50 171.4,38.3 172.1,57.1 172.8,54.2 173.5,48.3 174.2,60.5 174.9,61.3 175.6,63.2 176.3,63.5 177,70 177.7,61.7 178.4,67.7 179.1,69 179.8,80.7 180.5,79 181.2,78.7 181.9,71.2 182.6,84.5 183.3,89.5 184,87.9 184.7,116.3 185.4,106.6 186.1,74.5 186.8,87.7 187.5,103 188.2,104.3 188.9,111.3 189.6,114.5 190.3,130 191,104.3 191.7,108.9 192.4,133.8 193.1,124.2 193.8,126.8 194.5,119.8 195.2,100.8 195.9,131.9 196.6,134.9 197.3,127.3 198,135.1 198.7,143.3 199.4,138.8 200.1,147.5 200.8,151.9 201.5,153.2 202.2,150.3 202.9,160.9 203.6,164.7 204.3,161.3 205,146.7 205.7,167.2 206.4,158.4 207.1,178.2 207.8,156.7 208.5,175 209.2,168.9 209.9,160.5 210.6,167.6 211.3,174.8 212,180.5 212.7,169.6 213.4,161.7 214.1,184.4 214.8,179.1 215.5,186.7 216.2,192.8 216.9,174.7 217.6,192.3 218.3,202 219,191 219.7,188.1 220.4,202.3 221.1,199.1 221.8,212.3 222.5,195.9 223.2,187.3 223.9,199.6 224.6,198 225.3,209.3 226,206 226.7,192.6 227.4,198.1 228.1,224.2 228.8,223 229.5,209 230.2,216.3 230.9,222 231.6,223.8 232.3,235.5 233,225 233.7,223.3 234.4,223.3 235.1,235.7 235.8,202.5 236.5,228.2 237.2,232.6 237.9,211.4 238.6,238.7 239.3,232.2 240,246 240.7,238.8 241.4,251.3 242.1,260.6 242.8,244.7 243.5,234.6 244.2,217.8 244.9,256.4 245.6,241 246.3,236.2 247,243 247.7,240.4 248.4,256.1 249.1,243.9 249.8,244.8 250.5,240.5 251.2,255.9 251.9,242 252.6,258.2 253.3,267.4 254,244.3 254.7,238.5 255.4,265.5 256.1,282.8 256.8,255 257.5,254 258.2,274.5 258.9,258.9 259.6,262.3 260.3,264.3 261,276.5 261.7,265.7 262.4,272.6 263.1,270.2 263.8,266.1 264.5,271.8 265.2,260.6 265.9,276.8 266.6,268.3 267.3,269.2 268,290.4 268.7,278.5 269.4,278.8 270.1,283.9 270.8,276.7 271.5,278.7 272.2,284.3 272.9,283.3 273.6,271.5 274.3,294 275,271.3 275.7,271.9 276.4,273.3 277.1,278 277.8,295.2 278.5,273.4 279.2,285.6 279.9,268.4 280.6,287.4 281.3,296.4 282,288.7 282.7,287 283.4,297.1 284.1,300.3 284.8,306 285.5,312.4 286.2,300.3 286.9,288.3 287.6,297.2 288.3,298.4 289,300.7 289.7,300.4 290.4,302.9 291.1,288.7 291.8,315.9 292.5,298.5 293.2,284.8 293.9,313.2 294.6,313.7 295.3,310.6 296,304.3 296.7,295.9 297.4,327.6 298.1,312.7 298.8,297.9 299.5,302.6 300.2,311.5 300.9,299.9 301.6,315.5 302.3,311.6 303,326.2 303.7,324.7 304.4,295.2 305.1,317.6 305.8,304.2 306.5,326.2 307.2,318.5 307.9,325.8 308.6,308.7 309.3,332.4 310,334.3 310.7,309.9 311.4,322 312.1,314.1 312.8,319.7 313.5,310 314.2,335.4 314.9,312.5 315.6,317.9 316.3,324.2 317,314.9 317.7,316.5 318.4,315.9 319.1,319.8 319.8,312.1 320.5,318.7 321.2,321.3 321.9,321.1 322.6,324.8 323.3,322.5 324,331.3 324.7,322.8 325.4,324.5 326.1,320.3 326.8,321.6 327.5,315.9 328.2,330.7 328.9,309.1 329.6,315.7 330.3,330.4 331,330.7 331.7,323.8 332.4,300.8 333.1,328.6 333.8,326.1 334.5,311.4 335.2,328 335.9,310.2 336.6,311.7 337.3,321.6 338,319.7 338.7,323.3 339.4,309.4 340.1,337.5 340.8,318.6 341.5,299.9 342.2,329.4 342.9,321.9 343.6,327.8 344.3,322.8 345,325.6 345.7,328.5 346.4,321.1 347.1,333.2 347.8,324.6 348.5,322.1 349.2,331 349.9,333.9 350.6,328.9 351.3,324.1 352,336.3 352.7,317.1 353.4,322.9 354.1,331.7 354.8,319.9 355.5,331.1 356.2,330.4 356.9,338.3 357.6,323.9 358.3,326.5 359,334.6 359.7,312.4 360.4,357.6 361.1,321.7 361.8,326.9 362.5,339.9 363.2,332.6 363.9,318.5 364.6,338 365.3,339.8 366,329.1 366.7,330.3 367.4,336.3 368.1,317.8 368.8,338.6 369.5,332.9 370.2,320.3 370.9,308.9 371.6,328.7 372.3,316.9 373,338.8 373.7,332.2 374.4,337.6 375.1,332.8 375.8,335.9 376.5,326 377.2,336.5 377.9,343.3 378.6,324.5 379.3,322.2 380,321.7 380.7,312.8 381.4,309.4 382.1,308.3 382.8,299.9 383.5,300.5 384.2,287.8 384.9,282.1 385.6,277.5 386.3,268.6 387,268.3 387.7,261 388.4,259.7 389.1,261.3 389.8,264.1 390.5,265.3 391.2,273.9 391.9,274.9 392.6,291.5 393.3,292.7 394,296.3 394.7,300.2 395.4,307.4 396.1,312.3 396.8,310.6 397.5,313.9 398.2,321.1 398.9,320.6 399.6,332.9 400.3,335.9 401,328.4 401.7,332.8 402.4,319.1 403.1,335.2 403.8,330.1 404.5,334.4 405.2,343.5 405.9,311.9 406.6,334.4 407.3,321.1 408,334.7 408.7,318.8 409.4,325.3 410.1,330.8 410.8,333.9 411.5,329.3 412.2,321.9 412.9,319.3 413.6,334.9 414.3,327.1 415,312.8 415.7,333.2 416.4,329.5 417.1,333.4 417.8,323.9 418.5,334.3 419.2,311.7 419.9,334.4 420.6,326.8 421.3,337.3 422,340.8 422.7,327 423.4,333 424.1,333.8 424.8,343.2 425.5,339 426.2,322.7 426.9,335.9 427.6,337.5 428.3,348.1 429,303.8 429.7,320.4 430.4,339.2 431.1,316.4 431.8,316.9 432.5,330.3 433.2,333.6 433.9,318.7 434.6,327.6 435.3,322.9 436,333.2 436.7,319.6 437.4,326.8 438.1,310.5 438.8,316.1 439.5,316.6 440.2,326.8 440.9,326.7 441.6,311.1 442.3,328 443,328.9 443.7,315.1 444.4,313.2 445.1,313.1 445.8,300.2 446.5,315.3 447.2,315.4 447.9,299.4 448.6,319.2 449.3,290.9 450,308.1 450.7,308.5 451.4,328.5 452.1,298.4 452.8,315.9 453.5,318.6 454.2,313.6 454.9,328.9 455.6,301.2 456.3,290.1 457,314.7 457.7,297.9 458.4,304.5 459.1,296.9 459.8,314.9 460.5,313 461.2,299.6 461.9,312.9 462.6,306.2 463.3,303.8 464,305 464.7,302.3 465.4,308.3 466.1,307.3 466.8,298.4 467.5,308.8 468.2,289.9 468.9,303.9 469.6,302.6 470.3,311.5 471,295.4 471.7,326.5 472.4,303.8 473.1,300.1 473.8,296.8 474.5,312.5 475.2,303.9 475.9,294.6 476.6,294.4 477.3,298.8 478,297.2 478.7,310.9 479.4,312 480.1,306.5 480.8,300.9 481.5,293.2 482.2,296.4 482.9,303 483.6,313.6 484.3,304.1 485,295.1 485.7,298.8 486.4,295.5 487.1,287.5 487.8,297.4 488.5,301.8 489.2,314.8 489.9,299.4 490.6,308.7 491.3,310.9 492,295.5 492.7,307.2 493.4,304.2 494.1,288 494.8,292.7 495.5,289.5 496.2,286.3 496.9,285.4 497.6,287.1 498.3,288.5 499,276.5 499.7,283 500.4,269.7 501.1,284.1 501.8,286.9 502.5,282.8 503.2,286 503.9,286.2 504.6,275.7 505.3,279.3 506,285.5 506.7,289.6 507.4,284.6 508.1,302.7 508.8,280.6 509.5,289.8 510.2,292 510.9,279.2 511.6,274.5 512.3,262.1 513,282.7 513.7,290.8 514.4,284 515.1,283.7 515.8,279.8 516.5,288.6 517.2,266.9 517.9,287.6 518.6,286.6 519.3,275.4 520,305.6 520.7,265 521.4,278.7 522.1,277.9 522.8,297.6 523.5,281.4 524.2,300.2 524.9,294.9 525.6,292.8 526.3,280.2 527,281.6 527.7,305.6 528.4,281 529.1,284.8 529.8,288.9 530.5,298 531.2,293.1 531.9,296.7 532.6,281.4 533.3,297.5 534,293.9 534.7,263.3 535.4,301.1 536.1,307.3 536.8,282.4 537.5,289.7 538.2,301.4 538.9,267.3 539.6,275.4 540.3,272 541,288.5 541.7,289 542.4,303.7 543.1,296.7 543.8,284.8 544.5,299.9 545.2,321.3 545.9,305.7 546.6,304.4 547.3,297 548,305 548.7,289.6 549.4,303.8 550.1,297.4 550.8,307.5 551.5,302.5 552.2,290.2 552.9,301.1 553.6,318.1 554.3,290.3 555,295.1 555.7,288.1 556.4,288.7 557.1,309.2 557.8,313.3 558.5,316.8 559.2,308.2 559.9,307.8 560.6,313.8 561.3,306.3 562,320.9 562.7,323.7 563.4,324.2 564.1,313.7 564.8,319.3 565.5,318 566.2,344.5 566.9,321.1 567.6,304.9 568.3,322.6 569,333.9 569.7,324.2 570.4,325.4 571.1,318.6 571.8,303 572.5,304.5 573.2,309.5 573.9,319.1 574.6,323.9 575.3,328.5 576,319.9 576.7,334.3 577.4,326.6 578.1,325.1 578.8,338.7 579.5,326.5 580.2,313.9 580.9,328 581.6,338.1 582.3,315 583,337 583.7,335.9 584.4,330.9 585.1,331.3 585.8,339.8 586.5,339.7 587.2,354.1 587.9,347.9 588.6,333.8 589.3,340.1 590,353 590.7,363.1 591.4,352.9 592.1,353.5 592.8,366.4 593.5,353.2 594.2,352 594.9,334.6 595.6,352.2 596.3,373.2 597,337 597.7,358.7 598.4,349.2 599.1,362 599.8,369.1 600.5,362.3 601.2,371.2 601.9,372.9 602.6,372.6 603.3,394.4 604,378.4 604.7,371.9 605.4,366 606.1,371 606.8,382.1 607.5,377.3 608.2,403.9 608.9,395 609.6,380.4 610.3,377.9 611,406.4 611.7,360.8 612.4,381.7 613.1,393.3 613.8,381.3 614.5,386.4 615.2,389.5 615.9,399.3 616.6,399 617.3,405.3 618,406.6 618.7,404.9 619.4,414.9 620.1,398.6 620.8,400.2 621.5,399.3 622.2,390.9 622.9,410.9 623.6,430.5 624.3,419.9 625,414.5 625.7,412.4 626.4,414.1 627.1,417.3 627.8,420.4 628.5,406.3 629.2,424.4 629.9,436.9 630.6,416.1 631.3,431.8 632,420.6 632.7,439.1 633.4,434.8 634.1,427.6 634.8,445.3 635.5,459.5 636.2,449.6 636.9,459 637.6,452.4 638.3,439.7 639,460.4 639.7,456.1 640.4,451 641.1,474.1 641.8,467.7 642.5,460.6 643.2,475.5 643.9,464.8 644.6,476.5 645.3,460.1 646,477.1 646.7,466.2 647.4,484.6 648.1,476.5 648.8,494.4 649.5,470.2 650.2,473.2 650.9,482.9 651.6,458.9 652.3,471.1 653,492.7 653.7,482.9 654.4,487.1 655.1,477 655.8,485.8 656.5,473.3 657.2,474.8 657.9,474 658.6,479.8 659.3,485 660,486.1 660.7,470.7 661.4,472.3 662.1,491.5 662.8,498.4 663.5,493.9 664.2,493.2 664.9,485 665.6,515.4 666.3,496 667,526 667.7,516.8 668.4,509.7 669.1,505.5 669.8,511.6 670.5,504.4 671.2,515.2 671.9,514.9 672.6,519.9 673.3,524.1 674,530.9 674.7,518.5 675.4,529.5 676.1,519.1 676.8,520.1 677.5,523.5 678.2,522.9 678.9,537.5 679.6,539 680.3,543.3 681,536.9 681.7,541 682.4,537.6 683.1,536 683.8,548.5 684.5,549.5 685.2,542.8 685.9,556 686.6,534.1 687.3,555.7 688,555.1 688.7,554.7 689.4,556.5 690.1,571.5 690.8,574.1 691.5,576.1 692.2,570.6 692.9,562.5 693.6,569.3 694.3,557.9 695,576.4 695.7,582.3 696.4,577.9 697.1,573.5 697.8,576.6 698.5,582.1 699.2,573.7 699.9,585.8 700.6,588 701.3,581.9 702,585.2 702.7,593.1 703.4,583.4 704.1,589.9 704.8,601.4 705.5,599.4 706.2,610 706.9,588.8 707.6,591.1 708.3,609.3 709,610.4 709.7,600.7 710.4,596.9 711.1,605.8 711.8,596.1 712.5,605.1 713.2,594 713.9,606.4 714.6,595.2 715.3,607.5 716,619.3 716.7,609.3 717.4,621.4 718.1,606.1 718.8,610.2 719.5,608.4 720.2,626 720.9,621.3 721.6,642.7 722.3,618.2 723,625.7 723.7,629.2 724.4,638.3 725.1,641.6 725.8,627 726.5,624.3 727.2,612.3 727.9,646.9 728.6,630.9 729.3,627.7 730,631.7 730.7,617.1 731.4,622.9 732.1,639.9 732.8,637.5 733.5,636.9 734.2,630.7 734.9,644 735.6,648.7 736.3,631.2 737,639.3 737.7,634.5 738.4,642.8 739.1,641.2 739.8,641.1 740.5,637.2 741.2,642.9 741.9,639.7 742.6,643 743.3,643.9 744,648.8 744.7,642.1 745.4,644.4 746.1,653.5 746.8,646.7 747.5,647.2 748.2,659.2 748.9,651.8 749.6,651.5 750.3,653.5 751,644.4 751.7,654.9 752.4,667.3 753.1,656.1 753.8,643.7 754.5,654.8 755.2,648.1 755.9,652.5 756.6,655.1 757.3,648.1 758,670.9 758.7,656.6 759.4,662.6 760.1,662.7 760.8,667.6 761.5,667.4 762.2,652.4 762.9,661.6 763.6,643.5 764.3,659.5 765,670.4 765.7,668.4 766.4,671.3 767.1,662.4 767.8,667.3 768.5,666.9 769.2,674.5 769.9,677.2 770.6,666.8 771.3,688.1 772,670.4 772.7,669 773.4,675.3 774.1,680.8 774.8,676.3 775.5,670.1 776.2,682.8 776.9,675.1 777.6,692.1 778.3,683.6 779,668.9 779.7,671 780.4,671.3 781.1,678.7 781.8,677.9 782.5,679.3 783.2,668.9 783.9,680.6 784.6,686.5 785.3,664.3 786,678.7 786.7,682.1 787.4,680.9 788.1,680.5 788.8,701.7 789.5,692.1 790.2,690.6 790.9,678.4 791.6,700.1 792.3,690.2 793,682.5 793.7,687.4 794.4,687 795.1,707.7 795.8,691.3 796.5,690.7 797.2,678.5 797.9,694.9 798.6,685.3 799.3,685.5 800,695.9 800.7,684 801.4,698.9 802.1,701.4 802.8,686.2 803.5,696.3 804.2,681.1 804.9,698.5 805.6,704.8 806.3,693.1 807,711.4 807.7,700.5 808.4,696.4 809.1,702.8 809.8,708.3 810.5,689.6 811.2,704.7 811.9,697.5 812.6,711.9 813.3,706.5 814,703.7 814.7,712 815.4,699.7 816.1,704.8 816.8,717.1 817.5,706.5 818.2,714.4 818.9,708.1 819.6,703.1 820.3,705.5 821,707.3 821.7,704.8 822.4,702.7 823.1,703.2 823.8,699.9 824.5,708.9 825.2,711 825.9,713.4 826.6,700.1 827.3,718.3 828,710 828.7,702.3 829.4,710.2 830.1,713.6 830.8,711.6 831.5,712.2 832.2,713.1 832.9,712.6 833.6,707.6 834.3,696.9 835,704.2 835.7,710.6 836.4,706.9 837.1,713.7 837.8,715.2 838.5,712 839.2,722.5 839.9,703.3 840.6,718.7 841.3,711.8 842,710.4 842.7,717.7 843.4,711.4 844.1,719 844.8,708.2 845.5,714.3 846.2,709.5 846.9,712.5 847.6,709.8 848.3,707.8 849,720.2 849.7,707.3 850.4,708.8 851.1,718.6 851.8,719.1 852.5,717.6 853.2,716 853.9,730.8 854.6,708.4 855.3,711 856,710 856.7,719.9 857.4,716.9 858.1,721.2 858.8,720.4 859.5,712.9 860.2,706.7 860.9,709.5 861.6,725.5 862.3,718.9 863,716.8 863.7,711.9 864.4,712.7 865.1,712.2 865.8,711 866.5,702.5 867.2,714.6 867.9,714 868.6,718 869.3,719.1 870,726 870.7,718.1 871.4,722.6 872.1,705.9 872.8,713.6 873.5,728.3 874.2,713.5 874.9,718.5 875.6,723.6 876.3,715.6 877,723.7 877.7,712.5 878.4,709.8 879.1,705.9 879.8,710.2 880.5,717.9 881.2,716.2 881.9,719.3 882.6,712.4 883.3,734.1 884,717.8 884.7,718.6 885.4,721.8 886.1,718.9 886.8,714.5 887.5,721.8 888.2,726.5 888.9,728.6 889.6,727.2 890.3,719.6 891,714.8 891.7,732.8 892.4,721.3 893.1,727.1 893.8,726 894.5,729.3 895.2,715 895.9,719.2 896.6,719.4 897.3,718.4 898,709.2 898.7,721 899.4,706.7 900.1,722.9 900.8,724 901.5,724 902.2,714.5 902.9,729.6 903.6,715.4 904.3,707.4 905,714.5 905.7,715.4 906.4,721.1 907.1,725 907.8,705.5 908.5,719.5 909.2,727.6 909.9,724.7 910.6,726.7 911.3,716.8 912,734 912.7,716.7 913.4,725.6 914.1,737.8 914.8,733.7 915.5,726.5 916.2,728.1 916.9,720.3 917.6,718.4 918.3,729 919,722.9 919.7,722.1 920.4,715.6 921.1,723.6 921.8,729.4 922.5,715.3 923.2,718.4 923.9,731.6 924.6,725.4 925.3,720.8 926,712.2 926.7,717 927.4,721.5 928.1,729.3 928.8,718.7 929.5,737.5 930.2,711.8 930.9,718.8 931.6,728.7 932.3,718.9 933,715.8 933.7,719.2 934.4,722.2 935.1,711.2 935.8,717.6 936.5,719.7 937.2,718.4 937.9,724.4 938.6,715.2 939.3,719.3 940,721.7 940.7,725.7 941.4,721.4 942.1,731 942.8,719.4 943.5,737.4 944.2,721 944.9,725 945.6,728.1 946.3,736.8 947,730.9 947.7,724.1 948.4,732.5 949.1,724.4 949.8,721 950.5,726.9 951.2,724.7 951.9,733.3 952.6,720.7 953.3,725.1 954,726.1 954.7,724 955.4,722.2 956.1,718.9 956.8,727.1 957.5,723.2 958.2,725.1 958.9,720.8 959.6,722.6 960.3,712.3 961,723.4 961.7,726.5 962.4,723 963.1,727 963.8,724.2 964.5,729.6 965.2,721.7 965.9,714.4 966.6,725.1 967.3,722.3 968,718.4 968.7,730.1 969.4,725.3 970.1,726.5 970.8,722.7 971.5,725.4 972.2,725.6 972.9,733.2 973.6,720.4 974.3,723.5 975,725 975.7,713.9 976.4,706.5 977.1,733 977.8,712.7 978.5,724.4 979.2,717 979.9,717.3 980.6,710.9 981.3,711.9 982,724.6 982.7,713.3 983.4,723 984.1,721.1 984.8,729.3 985.5,716 986.2,724.3 986.9,721.9 987.6,715.5 988.3,708.1 989,724 989.7,709.2 990.4,713.7 991.1,720.6 991.8,721.9 992.5,711.9 993.2,716.2 993.9,713.8 994.6,722.3 995.3,728.9 996,706.5 996.7,720.3 997.4,700.8 998.1,715.3 998.8,704.2 999.5,725.2 1000.2,716.7 1000.9,711.2 1001.6,712.2 1002.3,711.3 1003,714.6 1003.7,712 1004.4,715.3 1005.1,726.4 1005.8,713.9 1006.5,697.6 1007.2,693.1 1007.9,705.1 1008.6,714.3 1009.3,707.1 1010,702.2 1010.7,709.5 1011.4,701.4 1012.1,702.6 1012.8,710.8 1013.5,706.3 1014.2,705.2 1014.9,708.8 1015.6,703.9 1016.3,699.9 1017,704.3 1017.7,709.7 1018.4,706.9 1019.1,694.7 1019.8,705.2 1020.5,710.2 1021.2,723.3 1021.9,701.3 1022.6,709.2 1023.3,705.2 1024,712.5 1024.7,710.8 1025.4,716.4 1026.1,711.5 1026.8,705.9 1027.5,705.7 1028.2,710.2 1028.9,709.6 1029.6,723.5 1030.3,715.3 1031,700.1 1031.7,707.6 1032.4,698.6 1033.1,696.6 1033.8,708.7 1034.5,707.4 1035.2,698.7 1035.9,720.1 1036.6,698.1 1037.3,696.6 1038,705.7 1038.7,703.1 1039.4,701 1040.1,701.5 1040.8,703.1 1041.5,701.5 1042.2,701.7 1042.9,693 1043.6,689.6 1044.3,706.5 1045,699.6 1045.7,705.9 1046.4,709.3 1047.1,698.8 1047.8,703.5 1048.5,712.5 1049.2,704.9 1049.9,710.6 1050.6,708.8 1051.3,708.3 1052,700 1052.7,696.2 1053.4,689.4 1054.1,705.8 1054.8,705.8 1055.5,700.2 1056.2,705.7 1056.9,695.2 1057.6,712.9 1058.3,702.1 1059,701.6 1059.7,701.8 1060.4,701.4 1061.1,715.1 1061.8,693.5 1062.5,702.9 1063.2,708.5 1063.9,705.6 1064.6,700.1 1065.3,710.6 1066,695.4 1066.7,693.8 1067.4,703.2 1068.1,684.8 1068.8,686.7 1069.5,708 1070.2,702.6 1070.9,702.1 1071.6,695.3 1072.3,698.6 1073,692.3 1073.7,706.4 1074.4,701.3 1075.1,700.9 1075.8,686.5 1076.5,701.1 1077.2,704.6 1077.9,702.9 1078.6,700.5 1079.3,696 1080,694.1 1080.7,699.2 1081.4,698.2 1082.1,697.7 1082.8,695.2 1083.5,706.3 1084.2,685.7 1084.9,698.2 1085.6,695.6 1086.3,709.9 1087,707.3 1087.7,706.8 1088.4,704.8 1089.1,686.7 1089.8,713.1 1090.5,705.4 1091.2,702.7 1091.9,704 1092.6,702.7 1093.3,707.4 1094,707.3 1094.7,704.2 1095.4,692.7 1096.1,706.4 1096.8,709.6 1097.5,712.6 1098.2,706.3 1098.9,711.9 1099.6,712.6 1100.3,701.9 1101,714.5 1101.7,695.9 1102.4,693.1 1103.1,701.3 1103.8,693.1 1104.5,700.9 1105.2,713.2 1105.9,719.5 1106.6,707.1 1107.3,715.7 1108,707.6 1108.7,703.5 1109.4,708.6 1110.1,705.3 1110.8,710 1111.5,698.2 1112.2,711.8 1112.9,704.3 1113.6,711.7 1114.3,699.2 1115,705.5 1115.7,708.6 1116.4,713.4 1117.1,702.6 1117.8,718.6 1118.5,713.1 1119.2,708.6 1119.9,718.8 1120.6,713.8 1121.3,720.3 1122,727.3 1122.7,719.7 1123.4,713.3 1124.1,712.1 1124.8,722.8 1125.5,718.6 1126.2,712.8 1126.9,710.4 1127.6,720.9 1128.3,729.8 1129,703.4 1129.7,721.1 1130.4,715 1131.1,721.3 1131.8,721.9 1132.5,717.8 1133.2,712.6 1133.9,711.1 1134.6,702.4 1135.3,732.3 1136,719.3 1136.7,718.1 1137.4,718.6 1138.1,714.6 1138.8,723.4 1139.5,728.8 1140.2,727.8 1140.9,713.4 1141.6,728.7 1142.3,717.4 1143,711.2 1143.7,714.5 1144.4,715.6 1145.1,720.4 1145.8,714.7 1146.5,712 1147.2,718.4 1147.9,729.9 1148.6,716.4 1149.3,722.8 1150,721.4 1150.7,735.7 1151.4,713 1152.1,729.9 1152.8,719 1153.5,724.2 1154.2,727.9 1154.9,746.8 1155.6,727.7 1156.3,723 1157,740.4 1157.7,729.8 1158.4,732 1159.1,734.3 1159.8,734.9 1160.5,733.4 1161.2,736.7 1161.9,737.8 1162.6,738.2 1163.3,731.6 1164,726.4 1164.7,728.7 1165.4,737.6 1166.1,734.6 1166.8,738.1 1167.5,738.3 1168.2,744.5 1168.9,737.1 1169.6,740.1 1170.3,730.4 1171,731.4 1171.7,734.4 1172.4,732 1173.1,742.6 1173.8,726.8 1174.5,741.4 1175.2,729.4 1175.9,737.2 1176.6,742.1 1177.3,742 1178,736.2 1178.7,746.6 1179.4,751.7 1180.1,750.6 1180.8,744.3 1181.5,745.1 1182.2,742.3 1182.9,751.8 1183.6,756.1 1184.3,746.3 1185,740.5 1185.7,750.3 1186.4,753 1187.1,735.7 1187.8,750.9 1188.5,760.4 1189.2,753.4 1189.9,754.4 1190.6,750.8 1191.3,759 1192,743.6 1192.7,740.1 1193.4,750.5 1194.1,745.3 1194.8,750.5 1195.5,740.1 1196.2,754.3 1196.9,759.6 1197.6,752.3 1198.3,753.8 1199,762 1199.7,749.3 1200.4,751.1 1201.1,751.1 1201.8,755.3 1202.5,748.4 1203.2,759.2 1203.9,756 1204.6,752.2 1205.3,751.7 1206,771.1 1206.7,758.7 1207.4,757.7 1208.1,758.7 1208.8,758.1 1209.5,762.4 1210.2,761.7 1210.9,756.3 1211.6,755.5 1212.3,754.6 1213,754.2 1213.7,767.7 1214.4,756.3 1215.1,745 1215.8,756.4 1216.5,756.3 1217.2,761.5 1217.9,754.9 1218.6,761.5 1219.3,760.4 1220,770.4 1220.7,768.8 1221.4,772.2 1222.1,765.1 1222.8,753.1 1223.5,757.4 1224.2,761.2 1224.9,770.8 1225.6,764.3 1226.3,772.8 1227,760.7 1227.7,764.6 1228.4,768.8 1229.1,759.9 1229.8,766.2 1230.5,772.9 1231.2,762.3 1231.9,768.3 1232.6,771.5 1233.3,763.8 1234,763.4 1234.7,761.7 1235.4,760 1236.1,763.7 1236.8,760.8 1237.5,761.3 1238.2,759.2 1238.9,755.6 1239.6,758.7 1240.3,766.6 1241,757.9 1241.7,760.7 1242.4,771.9 1243.1,769.4 1243.8,760.6 1244.5,766.9 1245.2,761 1245.9,772.2 1246.6,761.8 1247.3,765.5 1248,772.4 1248.7,758.5 1249.4,773.2 1250.1,763.5 1250.8,769.1 1251.5,766.9 1252.2,768.2 1252.9,769.5 1253.6,768.5 1254.3,764 1255,773.1 1255.7,772.4 1256.4,775.1 1257.1,775.6 1257.8,762.6 1258.5,775.2 1259.2,781.2 1259.9,766.8 1260.6,774.3 1261.3,776.4 1262,766.9 1262.7,762.9 1263.4,767.5 1264.1,782.2 1264.8,769.9 1265.5,762.9 1266.2,767.3 1266.9,759.5 1267.6,766.7 1268.3,769.2 1269,754.3 1269.7,771.2 1270.4,776.5 1271.1,769.4 1271.8,769 1272.5,776.2 1273.2,765.5 1273.9,765.7 1274.6,765.1 1275.3,770.8 1276,773.3 1276.7,771.1 1277.4,774.1 1278.1,775.5 1278.8,774.1 1279.5,768.2 1280.2,770.8 1280.9,777.7 1281.6,767.1 1282.3,770.6 1283,769.8 1283.7,770.1 1284.4,766.9 1285.1,765.9 1285.8,784 1286.5,777.3 1287.2,767.5 1287.9,774.3 1288.6,778.3 1289.3,774.3 1290,779 1290.7,773.8 1291.4,775 1292.1,776.1 1292.8,774.3 1293.5,762.1 1294.2,776.2 1294.9,777.4 1295.6,778.6 1296.3,768.3 1297,778.8 1297.7,778.7 1298.4,770.4 1299.1,769 1299.8,781.2 1300.5,775.2 1301.2,784 1301.9,793.7 1302.6,775.1 1303.3,777.2 1304,780.3 1304.7,783.5 1305.4,775.9 1306.1,786.5 1306.8,785.7 1307.5,784.5 1308.2,777.4 1308.9,786.1 1309.6,789.5 1310.3,777.2 1311,796 1311.7,781 1312.4,783.7 1313.1,779.8 1313.8,783.6 1314.5,787 1315.2,778.7 1315.9,775.2 1316.6,780.6 1317.3,777.2 1318,779.7 1318.7,782.2 1319.4,783.3 1320.1,789.5 1320.8,776.4 1321.5,786.8 1322.2,783.8 1322.9,792.2 1323.6,797.6 1324.3,788.7 1325,794.7 1325.7,785.7 1326.4,781.5 1327.1,783.1 1327.8,775.9 1328.5,781.3 1329.2,788.3 1329.9,798.8 1330.6,792.7 1331.3,791.9 1332,786.5 1332.7,786.7 1333.4,789.4 1334.1,789.3 1334.8,789.2 1335.5,789.2 1336.2,786.9 1336.9,774.5 1337.6,782.9 1338.3,781.3 1339,795.1 1339.7,787.1 1340.4,792 1341.1,795.5 1341.8,791.2 1342.5,788.5 1343.2,789 1343.9,786.2 1344.6,791.6 1345.3,795 1346,792.9 1346.7,796.7 1347.4,793.9 1348.1,799.2 1348.8,789 1349.5,792.5 1350.2,794.9 1350.9,797.4 1351.6,783.3 1352.3,791.1 1353,792.6 1353.7,785.8 1354.4,797 1355.1,794.5 1355.8,792 1356.5,781.1 1357.2,783.2 1357.9,789.1 1358.6,794.5 1359.3,787.9 1360,784.5 1360.7,786.9 1361.4,790.3 1362.1,799.1 1362.8,805 1363.5,789.7 1364.2,797.1 1364.9,799.2 1365.6,803.7 1366.3,793.8 1367,790.1 1367.7,793.5 1368.4,788.6 1369.1,796.7 1369.8,798.8 1370.5,784.2 1371.2,795.9 1371.9,797.2 1372.6,800.8 1373.3,801.2 1374,799 1374.7,793.3 1375.4,792.9 1376.1,799.7 1376.8,792.7 1377.5,794.5 1378.2,800.1 1378.9,794.6 1379.6,789.1 1380.3,793.2 1381,796.9 1381.7,794.3 1382.4,799.7 1383.1,800.6 1383.8,794.1 1384.5,795.1 1385.2,796.9 1385.9,793.1 1386.6,798.8 1387.3,796.8 1388,800.1 1388.7,793 1389.4,793.9 1390.1,808.2 1390.8,793.9 1391.5,795.1 1392.2,794.9 1392.9,796.6 1393.6,794.8 1394.3,798 1395,796.1 1395.7,797.3 1396.4,800.2 1397.1,801.5 1397.8,800.8 1398.5,796.7 1399.2,802.1 1399.9,799.1 1400.6,799.2 1401.3,793.7 1402,802 1402.7,799.2 1403.4,805.5 1404.1,801.7 1404.8,795.6 1405.5,790.2 1406.2,807.1 1406.9,796.4 1407.6,801.8 1408.3,798.5 1409,806.8 1409.7,800 1410.4,804.6 1411.1,808.1 1411.8,797.5 1412.5,797.8 1413.2,804 1413.9,798.9 1414.6,793.1 1415.3,807.1 1416,808 1416.7,799 1417.4,808.6 1418.1,798.1 1418.8,803.7 1419.5,798.1 1420.2,807.8 1420.9,800.7 1421.6,798.2 1422.3,799.7 1423,797.2 1423.7,795.3 1424.4,795.8 1425.1,799.4 1425.8,792.9 1426.5,801.5 1427.2,802 1427.9,802 1428.6,798.9 1429.3,801.1 1430,801.2 1430.7,806.1 1431.4,799 1432.1,800.6 1432.8,801.4 1433.5,801.6 1434.2,799.9 1434.9,800.4 1435.6,806.1 1436.3,800.4 1437,805.8 1437.7,809.7 1438.4,807.1 1439.1,796.5 1439.8,805.5 1440.5,804.6 1441.2,807 1441.9,797.7 1442.6,806.1 1443.3,799.9 1444,808.3 1444.7,807.7 1445.4,812.9 1446.1,802.7 1446.8,794 1447.5,807.6 1448.2,806.9 1448.9,802.5 1449.6,813 1450.3,808.5 1451,799.2 1451.7,802.4 1452.4,802.1 1453.1,803.2 1453.8,804.2 1454.5,801.1 1455.2,802.7 1455.9,805.4 1456.6,803 1457.3,802.4 1458,802.4 1458.7,803.1 1459.4,797 1460.1,804.3 1460.8,797 1461.5,804 1462.2,798.4 1462.9,806.5 1463.6,805 1464.3,798.6 1465,804.2 1465.7,798.8 1466.4,810.3 1467.1,806.3 1467.8,802.4 1468.5,806.4 1469.2,805.8 1469.9,810.2 1470.6,808.6 1471.3,807.5 1472,798.1 1472.7,810.6 1473.4,812 1474.1,806.8 1474.8,804.5 1475.5,805.4 1476.2,801.8 1476.9,806.1 1477.6,802.1 1478.3,806.5 1479,805.4 1479.7,804.2 1480.4,811.4 1481.1,802.3 1481.8,807.5 1482.5,803.1 1483.2,814 1483.9,814.5 1484.6,810.6 1485.3,814.2 1486,809.7 1486.7,809.5 1487.4,806.2 1488.1,804.6 1488.8,808.9 1489.5,806 1490.2,805.3 1490.9,810.7 1491.6,808 1492.3,803.3 1493,808.3 1493.7,806.8 1494.4,808.7 1495.1,806.2 1495.8,814.4 1496.5,817 1497.2,806.7 1497.9,812.9 1498.6,812.8 1499.3,807.1 1500,811.3 1500.7,816 1501.4,814.3 1502.1,822.2 1502.8,807.6 1503.5,806.9 1504.2,812.6 1504.9,812.7 1505.6,811.4 1506.3,809.8 1507,808.4 1507.7,807.1 1508.4,812.6 1509.1,801.8 1509.8,817.2 1510.5,810.2 1511.2,807.5 1511.9,814.7 1512.6,808.3 1513.3,814.7 1514,812 1514.7,815.4 1515.4,816 1516.1,817.5 1516.8,811 1517.5,811.3 1518.2,811.9 1518.9,802.2 1519.6,815.3 1520.3,811.4 1521,806.2 1521.7,815 1522.4,815.7 1523.1,806.7 1523.8,813.6 1524.5,816.2 1525.2,815.2 1525.9,809.2 1526.6,803.6 1527.3,812.4 1528,811 1528.7,812.6 1529.4,812 1530.1,815.7 1530.8,809.9 1531.5,811.1 1532.2,821.8 1532.9,811.2 1533.6,814.4 1534.3,813.1 1535,813.3 1535.7,807 1536.4,815.3 1537.1,813.7 1537.8,817.1 1538.5,821.7 1539.2,815.6 1539.9,817.8 1540.6,811.9 1541.3,815.9 1542,825.9 1542.7,815.4 1543.4,813.4 1544.1,816.3 1544.8,815 1545.5,814.1 1546.2,814.3 1546.9,822.3 1547.6,809.8 1548.3,813.9 1549,813.1 1549.7,819 1550.4,813.6 1551.1,818.9 1551.8,814.9 1552.5,814.2 1553.2,809.3 1553.9,818.5 1554.6,816.4 1555.3,816 1556,814.3 1556.7,813.3 1557.4,810.3 1558.1,817.6 1558.8,815 1559.5,812.5 1560.2,811.2 1560.9,813.3 1561.6,812.3 1562.3,818 1563,815 1563.7,810.5 1564.4,809 1565.1,812.3 1565.8,810.5 1566.5,814.2 1567.2,815.8 1567.9,819 1568.6,816.4 1569.3,814 1570,819.3 1570.7,812.4 1571.4,815.2 1572.1,818.3 1572.8,816.6 1573.5,811.4 1574.2,811.9 1574.9,810.5 1575.6,822.1 1576.3,810.8 1577,815.3 1577.7,822.4 1578.4,823.5 1579.1,825.2 1579.8,815 1580.5,819.4 1581.2,827.4 1581.9,817.4 1582.6,819.1 1583.3,816 1584,818.2 1584.7,820.9 1585.4,827.6 1586.1,815.6 1586.8,809.5 1587.5,819 1588.2,819.5 1588.9,828.1 1589.6,821.4 1590.3,817 1591,821.2 1591.7,823.2 1592.4,820.6 1593.1,818.6 1593.8,822 1594.5,818.6 1595.2,813.4 1595.9,824 1596.6,815.1 1597.3,818.2 1598,818.2 1598.7,818.2 1599.4,818.4 1600.1,814.6 1600.8,821.2 1601.5,819.6 1602.2,819.7 1602.9,823.2 1603.6,823.3 1604.3,824.2 1605,825.9 1605.7,821.3 1606.4,809.9 1607.1,820.5 1607.8,819.8 1608.5,820.2 1609.2,817.7 1609.9,816.7 1610.6,822.3 1611.3,822.9 1612,812.6 1612.7,821.4 1613.4,819.1 1614.1,818.3 1614.8,821.7 1615.5,819.2 1616.2,817.4 1616.9,819.3 1617.6,812.3 1618.3,815.1 1619,816 1619.7,814 1620.4,819.2 1621.1,819.6 1621.8,816.9 1622.5,818.5 1623.2,821.6 1623.9,823.2 1624.6,817.5 1625.3,821.5 1626,827.3 1626.7,820.7 1627.4,818.6 1628.1,818.7 1628.8,820.3 1629.5,818 1630.2,831.8 1630.9,819.5 1631.6,823.6 1632.3,821.4 1633,822.5 1633.7,818.6 1634.4,815.1 1635.1,824.2 1635.8,818.1 1636.5,818.5 1637.2,818.5 1637.9,822 1638.6,820.4 1639.3,821.9 1640,821 1640.7,819 1641.4,819.6 1642.1,816.5 1642.8,808.6 1643.5,818.3 1644.2,815.5 1644.9,827.5 1645.6,824.1 1646.3,822.9 1647,817.4 1647.7,826.1 1648.4,809.3 1649.1,816 1649.8,815.3 1650.5,817.3 1651.2,820.9 1651.9,821.1 1652.6,826.6 1653.3,823.5 1654,824.1 1654.7,821.5 1655.4,819.6 1656.1,818 1656.8,815.4 1657.5,817.7 1658.2,819.5 1658.9,823.4 1659.6,815.5 1660.3,816.5 1661,821.6 1661.7,817.3 1662.4,821.5 1663.1,818.8 1663.8,817.5 1664.5,815.5 1665.2,819.4 1665.9,817.4 1666.6,817.9 1667.3,817.9 1668,820.8 1668.7,820.8 1669.4,814.9 1670.1,820 1670.8,823.1 1671.5,824 1672.2,823.3 1672.9,821.4 1673.6,817.1 1674.3,815.9 1675,823.6 1675.7,818.2 1676.4,826.7 1677.1,824.2 1677.8,816.4 1678.5,821 1679.2,818.9 1679.9,825.7 1680.6,821.7 1681.3,817.3 1682,820.3 1682.7,813.3 1683.4,818.7 1684.1,820 1684.8,820.1 1685.5,820.8 1686.2,817 1686.9,814.1 1687.6,818.9 1688.3,817.3 1689,817.9 1689.7,826.9 1690.4,823.8 1691.1,819.5 1691.8,815.4 1692.5,815.9 1693.2,821.4 1693.9,826.9 1694.6,819.4 1695.3,820.8 1696,821.2 1696.7,823.7 1697.4,814.1 1698.1,820.5 1698.8,821.2 1699.5,822.9 1700.2,821.2 1700.9,816.4 1701.6,816.3 1702.3,815.1 1703,821.2 1703.7,820.6 1704.4,821.6 1705.1,816.8 1705.8,816.3 1706.5,824.9 1707.2,820.6 1707.9,825.7 1708.6,821.7 1709.3,815.8 1710,823.3 1710.7,824.9 1711.4,819.7 1712.1,815.3 1712.8,823.7 1713.5,821.3 1714.2,823.6 1714.9,813.4 1715.6,823.3 1716.3,813 1717,818.8 1717.7,824.1 1718.4,815.2 1719.1,814.7 1719.8,818.9 1720.5,825.3 1721.2,829.7 1721.9,815.8 1722.6,825.5 1723.3,821 1724,819.9 1724.7,820.2 1725.4,816.8 1726.1,821.7 1726.8,822.6 1727.5,827.9 1728.2,822.2 1728.9,811.6 1729.6,815.6 1730.3,820.5 1731,819.8 1731.7,813.8 1732.4,819.5 1733.1,819.1 1733.8,820.3 1734.5,820.3 1735.2,823.8 1735.9,830 1736.6,823.3 1737.3,817.6 1738,818.4 1738.7,816.9 1739.4,820.5 1740.1,819.4 1740.8,818.4 1741.5,814.8 1742.2,823.4 1742.9,823.2 1743.6,823.7 1744.3,820.8 1745,822.9 1745.7,816.3 1746.4,816.1 1747.1,821 1747.8,824.8 1748.5,822.6 1749.2,819.5 1749.9,823.2 1750.6,825.2 1751.3,822.9 1752,819.9 1752.7,821.9 1753.4,820 1754.1,819.1 1754.8,820.7 1755.5,825.5 1756.2,826.7 1756.9,826 1757.6,825 1758.3,820.2 1759,820.6 1759.7,820.1 1760.4,825.5 1761.1,813.4 1761.8,823 1762.5,816.1 1763.2,822.4 1763.9,826.6 1764.6,819.7 1765.3,812.8 1766,830.6 1766.7,827.5 1767.4,825.8 1768.1,826.7 1768.8,820.2 1769.5,826.2 1770.2,827.6 1770.9,826 1771.6,822.9 1772.3,829.6 1773,825.3 1773.7,819.4 1774.4,825.9 1775.1,823.9 1775.8,822.6 1776.5,829.4 1777.2,827.1 1777.9,823.7 1778.6,819.7 1779.3,823.8 1780,814.4 1780.7,820.6 1781.4,811.3 1782.1,815.9 1782.8,822.8 1783.5,821.5 1784.2,822.5 1784.9,824.5 1785.6,824.1 1786.3,820.6 1787,823.7 1787.7,823.2 1788.4,821.9 1789.1,822.7 1789.8,822.1 1790.5,820.9 1791.2,821.6 1791.9,823.2 1792.6,828.7 1793.3,819.8 1794,824 1794.7,818.1 1795.4,827.8 1796.1,822.2 1796.8,824.3 1797.5,831.4 1798.2,827.1 1798.9,815.4 1799.6,827.8 1800.3,824.1 1801,828.7 1801.7,825.8 1802.4,827.8 1803.1,826.6 1803.8,825.3 1804.5,829.2 1805.2,820.6 1805.9,823.5 1806.6,818.6 1807.3,823.3 1808,820.6 1808.7,821.9 1809.4,820.9 1810.1,820.7 1810.8,816.9 1811.5,821.7 1812.2,822.6 1812.9,819.7 1813.6,819.4 1814.3,819.3 1815,830.9 1815.7,821.9 1816.4,822.7 1817.1,820.8 1817.8,820.5 1818.5,819.6 1819.2,827.4 1819.9,817.8 1820.6,825.1 1821.3,823.6 1822,823.1 1822.7,819.3 1823.4,820.4 1824.1,827.2 1824.8,822 1825.5,826.7 1826.2,827.7 1826.9,825.3 1827.6,827.7 1828.3,815.8 1829,821.2 1829.7,824.3 1830.4,818.1 1831.1,826.7 1831.8,819.7 1832.5,821 1833.2,817.9 1833.9,822.1 1834.6,816.7 1835.3,820.4 1836,817.8 1836.7,825.1 1837.4,816.8 1838.1,823.3 1838.8,823 1839.5,824 1840.2,819.9 1840.9,829.3 1841.6,826.4 1842.3,824.1 1843,825.4 1843.7,822.9 1844.4,825.1 1845.1,817.9 1845.8,824 1846.5,823 1847.2,817.1 1847.9,813.1 1848.6,820 1849.3,819.9 1850,823.9 1850.7,820.3 1851.4,818.6 1852.1,816 1852.8,819.8 1853.5,816.6 1854.2,816.7 1854.9,819.7 1855.6,823.2 1856.3,820.5 1857,816.8 1857.7,820.9 1858.4,816.6 1859.1,810.7 1859.8,821.4 1860.5,818.3 1861.2,823.3 1861.9,821.9 1862.6,815.5 1863.3,821 1864,828 1864.7,819.7 1865.4,817.9 1866.1,819.4 1866.8,819.3 1867.5,818.6 1868.2,815 1868.9,824 1869.6,826.2 1870.3,821.9 1871,825.3 1871.7,825.6 1872.4,827.7 1873.1,821.9 1873.8,821.2 1874.5,823.3 1875.2,822.2 1875.9,822.7 1876.6,825.6 1877.3,820.5 1878,822.5 1878.7,819 1879.4,821.1 1880.1,820.1 1880.8,817.8 1881.5,821.4 1882.2,820.7 1882.9,823 1883.6,826.3 1884.3,817 1885,824.1 1885.7,814.3 1886.4,822.2 1887.1,822.7 1887.8,818.7 1888.5,820 1889.2,818.5 1889.9,823.5 1890.6,811.6 1891.3,818 1892,811.3 1892.7,821.5 1893.4,824.1 1894.1,823.5 1894.8,821.8 1895.5,820.5 1896.2,815.3 1896.9,823.3 1897.6,821.6 1898.3,817.5 1899,816.4 1899.7,818.6 1900.4,823.9 1901.1,824.7 1901.8,826 1902.5,819.3 1903.2,820.6 1903.9,825.8 1904.6,822.4 1905.3,823.9 1906,817.6 1906.7,820.3 1907.4,821.2 1908.1,820.1 1908.8,819.9 1909.5,816.2 1910.2,825.8 1910.9,821.4 1911.6,816.7 1912.3,824.1 1913,821.1 1913.7,822.9 1914.4,820.1 1915.1,818.3 1915.8,818.1 1916.5,821.1 1917.2,824.2 1917.9,820.9 1918.6,821.1 1919.3,825.8 1920,819.6 1920.7,821.6 1921.4,821.8 1922.1,819.4 1922.8,818.4 1923.5,817.4 1924.2,815.3 1924.9,814.3 1925.6,822.6 1926.3,818.8 1927,817.2 1927.7,823.2 1928.4,821.4 1929.1,818.6 1929.8,821.3 1930.5,817.4 1931.2,819.4 1931.9,823.5 1932.6,821.3 1933.3,816.7 1934,820 1934.7,821.3 1935.4,817.5 1936.1,816.5 1936.8,823.1 1937.5,816.7 1938.2,813.7 1938.9,817.8 1939.6,823.9 1940.3,819 1941,819.8 1941.7,807.6 1942.4,814.1 1943.1,824 1943.8,816 1944.5,821.1 1945.2,820.6 1945.9,819 1946.6,823 1947.3,816 1948,817.4 1948.7,819.3 1949.4,819.8 1950.1,814.4 1950.8,822.8 1951.5,819.8 1952.2,818.5 1952.9,822.5 1953.6,816.6 1954.3,825.3 1955,818.1 1955.7,819.9 1956.4,813.2 1957.1,816.9 1957.8,818.8 1958.5,815 1959.2,815.9 1959.9,817.5 1960.6,820.7 1961.3,821.9 1962,819.6 1962.7,817.6 1963.4,818.9 1964.1,820.4 1964.8,816.2 1965.5,816.8 1966.2,817.1 1966.9,806 1967.6,815.2 1968.3,818.3 1969,817.9 1969.7,814.4 1970.4,821.7 1971.1,814.3 1971.8,815.7 1972.5,821.1 1973.2,812.5 1973.9,816.2 1974.6,816 1975.3,816.2 1976,815 1976.7,818.3 1977.4,810.9 1978.1,812.8 1978.8,818 1979.5,813.3 1980.2,817.8 1980.9,816.8 1981.6,814.7 1982.3,815.5 1983,815.9 1983.7,818.5 1984.4,813.5 1985.1,814.2 1985.8,810.2 1986.5,812.9 1987.2,804 1987.9,812.4 1988.6,809.7 1989.3,820.4 1990,818.5 1990.7,810.7 1991.4,813.7 1992.1,811.9 1992.8,808.1 1993.5,804.8 1994.2,818.2 1994.9,813.4 1995.6,807.2 1996.3,814.8 1997,815.9 1997.7,811.7 1998.4,816 1999.1,805 1999.8,813.4 2000.5,814.2 2001.2,818.4 2001.9,815.1 2002.6,815.3 2003.3,815.6 2004,812.2 2004.7,818.3 2005.4,812.4 2006.1,816.5 2006.8,814.4 2007.5,813.8 2008.2,816.1 2008.9,815.8 2009.6,818.3 2010.3,817.5 2011,812.9 2011.7,815.9 2012.4,815.1 2013.1,812.2 2013.8,811.3 2014.5,815.7 2015.2,812.6 2015.9,806.4 2016.6,813.3 2017.3,813.8 2018,813.1 2018.7,809.2 2019.4,810.8 2020.1,816.2 2020.8,810.3 2021.5,811.8 2022.2,819.5 2022.9,814.4 2023.6,812.3 2024.3,808.5 2025,815 2025.7,810.3 2026.4,814.1 2027.1,811.7 2027.8,809.3 2028.5,822.6 2029.2,813 2029.9,815.9 2030.6,815.2 2031.3,810.8 2032,812.9 2032.7,811.5 2033.4,815.1 2034.1,813.6 2034.8,810.6 2035.5,817.3 2036.2,814.5 2036.9,814.7 2037.6,811.6 2038.3,816.5 2039,806.6 2039.7,817.4 2040.4,812.5 2041.1,815.7 2041.8,814.4 2042.5,815.8 2043.2,817 2043.9,814.7 2044.6,814.5 2045.3,810.2 2046,808.8 2046.7,820.8 2047.4,815.3 2048.1,809.4 2048.8,818.7 2049.5,811.1 2050.2,814.4 2050.9,813.9 2051.6,812.8 2052.3,814 2053,808.3 2053.7,811.9 2054.4,811.2 2055.1,812.1 2055.8,811.1 2056.5,810.1 2057.2,809.9 2057.9,814.4 2058.6,809.6 2059.3,813 2060,813.1 2060.7,812 2061.4,813.6 2062.1,814.1 2062.8,811.3 2063.5,813.8 2064.2,818.2 2064.9,809.8 2065.6,811.8 2066.3,810.3 2067,817.9 2067.7,808.2 2068.4,812.2 2069.1,814.8 2069.8,809.9 2070.5,812.1 2071.2,808.9 2071.9,809.2 2072.6,812.9 2073.3,814.7 2074,812.2 2074.7,813.8 2075.4,815.2 2076.1,816.6 2076.8,809.6 2077.5,814.7 2078.2,809.5 2078.9,807.5 2079.6,810.6 2080.3,814.7 2081,813.9 2081.7,810.1 2082.4,817.9 2083.1,814.6 2083.8,813.1 2084.5,811.8 2085.2,814.3 2085.9,811.7 2086.6,815.6 2087.3,813 2088,815.3 2088.7,811 2089.4,807.7 2090.1,813.5 2090.8,809.4 2091.5,811.9 2092.2,812.7 2092.9,810.8 2093.6,815.6 2094.3,809.3 2095,817.5 2095.7,811.7 2096.4,815.9 2097.1,816.7 2097.8,810.5 2098.5,810.7 2099.2,815.2 2099.9,813.5 2100.6,812.7 2101.3,803.8 2102,808.3 2102.7,814.8 2103.4,817.7 2104.1,812 2104.8,811.8 2105.5,814.9 2106.2,815.6 2106.9,815.8 2107.6,812.7 2108.3,804.9 2109,817.6 2109.7,812 2110.4,816.9 2111.1,807.8 2111.8,814.4 2112.5,812 2113.2,810.5 2113.9,816.3 2114.6,817.2 2115.3,810.6 2116,815.6 2116.7,811 2117.4,812.4 2118.1,813.6 2118.8,813.4 2119.5,816.3 2120.2,811.2 2120.9,817.2 2121.6,817.2 2122.3,813.7 2123,810.9 2123.7,807.4 2124.4,813.8 2125.1,811.9 2125.8,814.1 2126.5,808.1 2127.2,813.9 2127.9,813.8 2128.6,814.1 2129.3,815.7 2130,814.9 2130.7,816.7 2131.4,811.7 2132.1,817.6 2132.8,813.9 2133.5,812.1 2134.2,810.4 2134.9,817.2 2135.6,814.6 2136.3,812 2137,813.8 2137.7,813.8 2138.4,812.4 2139.1,806.5 2139.8,814.2 2140.5,813.2 2141.2,812.6 2141.9,815.9 2142.6,809.2 2143.3,807.5 2144,812.9 2144.7,816.8 2145.4,813.9 2146.1,814.2 2146.8,806.1 2147.5,813.7 2148.2,813.6 2148.9,814.6 2149.6,811.1 2150.3,814.7 2151,819 2151.7,818.3 2152.4,814.8 2153.1,810.6 2153.8,814.7 2154.5,816.2 2155.2,815.8 2155.9,819.7 2156.6,813.8 2157.3,811.4 2158,812.4 2158.7,815.9 2159.4,811.8 2160.1,811 2160.8,809.3 2161.5,817 2162.2,814.2 2162.9,812.6 2163.6,815.9 2164.3,815.5 2165,811 2165.7,816.1 2166.4,814.7 2167.1,808.4 2167.8,811 2168.5,815.1 2169.2,815.8 2169.9,813.7 2170.6,811.7 2171.3,815.1 2172,809.2 2172.7,815.8 2173.4,813.8 2174.1,814 2174.8,812.3 2175.5,816.4 2176.2,805.1 2176.9,811.7 2177.6,815.7 2178.3,812.2 2179,822.2 2179.7,816.7 2180.4,812.4 2181.1,817.7 2181.8,814.4 2182.5,816.4 2183.2,813.2 2183.9,811.9 2184.6,817.3 2185.3,815.9 2186,813.9 2186.7,814 2187.4,818.6 2188.1,822 2188.8,814.9 2189.5,819.1 2190.2,809 2190.9,813 2191.6,818.4 2192.3,820.6 2193,816.2 2193.7,817.4 2194.4,816.5 2195.1,818.6 2195.8,812.9 2196.5,819.5 2197.2,814.8 2197.9,815 2198.6,815.8 2199.3,815.1 2200,813.2 2200.7,814.4 2201.4,812.3 2202.1,818.8 2202.8,816.6 2203.5,813.6 2204.2,819.4 2204.9,818.9 2205.6,817 2206.3,814.5 2207,817.1 2207.7,819.8 2208.4,820.6 2209.1,815.9 2209.8,815.1 2210.5,825.3 2211.2,820.3 2211.9,818.1 2212.6,813.7 2213.3,817.6 2214,819.4 2214.7,818.6 2215.4,819 2216.1,817.1 2216.8,820.4 2217.5,815.8 2218.2,816.6 2218.9,816.6 2219.6,816.4 2220.3,827.1 2221,813.7 2221.7,819.1 2222.4,815.7 2223.1,811.8 2223.8,818.5 2224.5,813.6 2225.2,817.5 2225.9,823.8 2226.6,816.7 2227.3,818.3 2228,812.3 2228.7,818 2229.4,812.4 2230.1,816.9 2230.8,816 2231.5,822.3 2232.2,816 2232.9,815.5 2233.6,815.1 2234.3,813.6 2235,819.4 2235.7,821.6 2236.4,816 2237.1,822.1 2237.8,816.6 2238.5,820.9 2239.2,821.3 2239.9,814.9 2240.6,816.9 2241.3,824.2 2242,813.9 2242.7,819.3 2243.4,818.5 2244.1,817 2244.8,819.9 2245.5,820.8 2246.2,821.6 2246.9,812.9 2247.6,825.1 2248.3,819.1 2249,823.4 2249.7,819.8 2250.4,818.7 2251.1,820.1 2251.8,829.1 2252.5,824.6 2253.2,819.3 2253.9,821 2254.6,823.6 2255.3,822.2 2256,821 2256.7,820.4 2257.4,818 2258.1,823.2 2258.8,824.1 2259.5,827.1 2260.2,819.2 2260.9,822.3 2261.6,820.3 2262.3,823.8 2263,820 2263.7,818.6 2264.4,815.9 2265.1,824.7 2265.8,821.8 2266.5,824.1 2267.2,819.5 2267.9,828.3 2268.6,819.1 2269.3,824 2270,822.6 2270.7,824.8 2271.4,821.5 2272.1,819.7 2272.8,819.7 2273.5,824.9 2274.2,823 2274.9,824.6 2275.6,820.4 2276.3,822.9 2277,823.5 2277.7,823.8 2278.4,817.7 2279.1,819.4 2279.8,826.3 2280.5,820.3 2281.2,821.2 2281.9,819.4 2282.6,813.7 2283.3,816.3 2284,823.5 2284.7,820.9 2285.4,831.9 2286.1,815.1 2286.8,818 2287.5,822.5 2288.2,820.4 2288.9,831.4 2289.6,822.7 2290.3,825.4 2291,820 2291.7,825.9 2292.4,827.4 2293.1,827.3 2293.8,824.2 2294.5,824.8 2295.2,824 2295.9,825.3 2296.6,820.1 2297.3,823.6 2298,820.3 2298.7,823.7 2299.4,820.8 2300.1,819.8 2300.8,819.7 2301.5,825.8 2302.2,817.2 2302.9,817.4 2303.6,823.2 2304.3,818.5 2305,819.8 2305.7,819.6 2306.4,827.2 2307.1,818.8 2307.8,818.6 2308.5,819.5 2309.2,821.2 2309.9,822 2310.6,816.6 2311.3,822.1 2312,826.6 2312.7,816.5 2313.4,823.5 2314.1,826.6 2314.8,823.4 2315.5,823 2316.2,817.6 2316.9,828.1 2317.6,824.3 2318.3,825 2319,829.2 2319.7,819.3 2320.4,825.6 2321.1,827.4 2321.8,827.5 2322.5,826.9 2323.2,830.6"/>
</g>
<g stroke="#000" stroke-width="9" stroke-linecap="butt">
<line x1="169.3" y1="1638.5" x2="169.3" y2="1670"/>
<line x1="303.9" y1="1638.5" x2="303.9" y2="1654"/>
<line x1="438.6" y1="1638.5" x2="438.6" y2="1670"/>
<line x1="573.2" y1="1638.5" x2="573.2" y2="1654"/>
<line x1="707.8" y1="1638.5" x2="707.8" y2="1670"/>
<line x1="842.5" y1="1638.5" x2="842.5" y2="1654"/>
<line x1="977.1" y1="1638.5" x2="977.1" y2="1670"/>
<line x1="1111.8" y1="1638.5" x2="1111.8" y2="1654"/>
<line x1="1246.4" y1="1638.5" x2="1246.4" y2="1670"/>
<line x1="1381.0" y1="1638.5" x2="1381.0" y2="1654"/>
<line x1="1515.7" y1="1638.5" x2="1515.7" y2="1670"/>
<line x1="1650.3" y1="1638.5" x2="1650.3" y2="1654"/>
<line x1="1784.9" y1="1638.5" x2="1784.9" y2="1670"/>
<line x1="1919.6" y1="1638.5" x2="1919.6" y2="1654"/>
<line x1="2054.2" y1="1638.5" x2="2054.2" y2="1670"/>
<line x1="2188.9" y1="1638.5" x2="2188.9" y2="1654"/>
<line x1="2323.5" y1="1638.5" x2="2323.5" y2="1670"/>
</g>
<g class="sans" font-size="63" text-anchor="middle" fill="#000">
<text transform="translate(169.9,1739.7) scale(0.975,1.07)">10</text>
<text transform="translate(439.2,1739.7) scale(0.975,1.07)">20</text>
<text transform="translate(708.4,1739.7) scale(0.975,1.07)">30</text>
<text transform="translate(977.7,1739.7) scale(0.975,1.07)">40</text>
<text transform="translate(1247.0,1739.7) scale(0.975,1.07)">50</text>
<text transform="translate(1516.3,1739.7) scale(0.975,1.07)">60</text>
<text transform="translate(1785.5,1739.7) scale(0.975,1.07)">70</text>
<text transform="translate(2054.8,1739.7) scale(0.975,1.07)">80</text>
<text transform="translate(2324.1,1739.7) scale(0.975,1.07)">90</text>
</g>
<text class="sans" font-weight="bold" font-size="95" text-anchor="middle" x="1245" y="1839">2<tspan class="serif" font-weight="normal" font-size="90" dx="1" stroke="#000" stroke-width="2">θ</tspan><tspan dx="1"> angle</tspan></text>
<text class="sans" font-weight="bold" font-size="95" text-anchor="middle" transform="translate(100.7,871.7) rotate(-90) scale(0.993,1)">Intensity (a.u.)</text>
<g class="serif" font-size="76" fill="#000">
<text x="449" y="175.7">(002)</text>
<text x="997" y="614.7">(100)</text>
<text transform="translate(1950.5,728) scale(1.02,1)">(110)</text>
<g font-style="italic">
<text transform="translate(1571.5,777.2) scale(0.986,1)">C(B_Glu)</text>
<text transform="translate(1571.5,939.3) scale(0.986,1)">C(B_Glu_K)</text>
<text transform="translate(1571.5,1123.8) scale(0.986,1)">C(B_Glu_N)</text>
<text transform="translate(1571.5,1501.3) scale(0.986,1)">C(B_Glu_P)</text>
</g></g>
<rect x="512" y="206" width="34" height="34" rx="3" fill="#000"/>
<rect x="1067" y="641" width="34" height="34" rx="3" fill="#000"/>
<rect x="2021" y="762" width="34" height="34" rx="3" fill="#000"/>
<g class="sans" font-weight="bold" fill="#000" text-anchor="middle">
<text x="387.2" y="252.7" font-size="82">*</text>
<text x="458.9" y="1015.5" font-size="74" stroke="#000" stroke-width="3">#</text>
<text x="498" y="960.5" font-size="74" stroke="#000" stroke-width="3">#</text>
</g>
<line x1="1983" y1="153" x2="1983" y2="252" stroke="#000" stroke-width="9"/>
<text class="sans" font-size="78.5" x="2009.1" y="225.6">250</text>
</svg></body></html>
